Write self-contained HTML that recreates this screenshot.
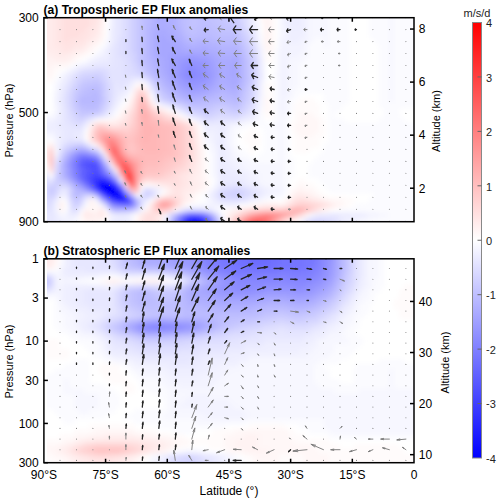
<!DOCTYPE html><html><head><meta charset="utf-8"><style>html,body{margin:0;padding:0;background:#fff;}body{width:500px;height:503px;overflow:hidden;position:relative;}svg{position:absolute;left:0;top:0;}</style></head><body>
<svg width="500" height="503" viewBox="0 0 500 503">
<defs>
<clipPath id="ca"><rect x="43.90" y="17.70" width="370.10" height="204.00"/></clipPath>
<clipPath id="cb"><rect x="43.90" y="258.80" width="370.10" height="203.90"/></clipPath>
<filter id="bl" x="-10%" y="-10%" width="120%" height="120%"><feGaussianBlur stdDeviation="2.5"/></filter>
<linearGradient id="cg" x1="0" y1="0" x2="0" y2="1"><stop offset="0" stop-color="#ff0000"/><stop offset="0.5" stop-color="#ffffff"/><stop offset="1" stop-color="#0000ff"/></linearGradient>
<clipPath id="fca"><rect x="47.00" y="17.70" width="367.00" height="204.00"/></clipPath>
<clipPath id="fcb"><rect x="47.00" y="258.80" width="367.00" height="203.90"/></clipPath>
</defs>
<g clip-path="url(#fca)"><g filter="url(#bl)">
<rect x="38.9" y="12.7" width="15.5" height="5.5" fill="#ffebeb"/>
<rect x="53.9" y="12.7" width="5.5" height="5.5" fill="#ffe7e7"/>
<rect x="58.9" y="12.7" width="5.5" height="5.5" fill="#ffe3e3"/>
<rect x="63.9" y="12.7" width="25.5" height="5.5" fill="#ffdfdf"/>
<rect x="88.9" y="12.7" width="10.5" height="5.5" fill="#ffe3e3"/>
<rect x="98.9" y="12.7" width="5.5" height="5.5" fill="#ffefef"/>
<rect x="108.9" y="12.7" width="5.5" height="5.5" fill="#f3f3ff"/>
<rect x="113.9" y="12.7" width="5.5" height="5.5" fill="#e7e7ff"/>
<rect x="118.9" y="12.7" width="5.5" height="5.5" fill="#e3e3ff"/>
<rect x="123.9" y="12.7" width="5.5" height="5.5" fill="#dbdbff"/>
<rect x="128.9" y="12.7" width="5.5" height="5.5" fill="#d3d3ff"/>
<rect x="133.9" y="12.7" width="5.5" height="5.5" fill="#cbcbff"/>
<rect x="138.9" y="12.7" width="5.5" height="5.5" fill="#c3c3ff"/>
<rect x="143.9" y="12.7" width="5.5" height="5.5" fill="#bbbbff"/>
<rect x="148.9" y="12.7" width="5.5" height="5.5" fill="#b7b7ff"/>
<rect x="153.9" y="12.7" width="5.5" height="5.5" fill="#afafff"/>
<rect x="158.9" y="12.7" width="5.5" height="5.5" fill="#ababff"/>
<rect x="163.9" y="12.7" width="10.5" height="5.5" fill="#afafff"/>
<rect x="173.9" y="12.7" width="5.5" height="5.5" fill="#b3b3ff"/>
<rect x="178.9" y="12.7" width="5.5" height="5.5" fill="#bbbbff"/>
<rect x="183.9" y="12.7" width="5.5" height="5.5" fill="#bfbfff"/>
<rect x="188.9" y="12.7" width="10.5" height="5.5" fill="#c3c3ff"/>
<rect x="198.9" y="12.7" width="10.5" height="5.5" fill="#bfbfff"/>
<rect x="208.9" y="12.7" width="10.5" height="5.5" fill="#c3c3ff"/>
<rect x="218.9" y="12.7" width="10.5" height="5.5" fill="#c7c7ff"/>
<rect x="228.9" y="12.7" width="10.5" height="5.5" fill="#cbcbff"/>
<rect x="238.9" y="12.7" width="5.5" height="5.5" fill="#d7d7ff"/>
<rect x="243.9" y="12.7" width="5.5" height="5.5" fill="#dfdfff"/>
<rect x="248.9" y="12.7" width="5.5" height="5.5" fill="#ebebff"/>
<rect x="253.9" y="12.7" width="5.5" height="5.5" fill="#f7f7ff"/>
<rect x="258.9" y="12.7" width="5.5" height="5.5" fill="#fffbfb"/>
<rect x="263.9" y="12.7" width="5.5" height="5.5" fill="#fff3f3"/>
<rect x="268.9" y="12.7" width="5.5" height="5.5" fill="#fff7f7"/>
<rect x="278.9" y="12.7" width="5.5" height="5.5" fill="#f7f7ff"/>
<rect x="283.9" y="12.7" width="10.5" height="5.5" fill="#efefff"/>
<rect x="293.9" y="12.7" width="5.5" height="5.5" fill="#ebebff"/>
<rect x="298.9" y="12.7" width="5.5" height="5.5" fill="#efefff"/>
<rect x="303.9" y="12.7" width="5.5" height="5.5" fill="#f3f3ff"/>
<rect x="308.9" y="12.7" width="20.5" height="5.5" fill="#f7f7ff"/>
<rect x="328.9" y="12.7" width="20.5" height="5.5" fill="#fbfbff"/>
<rect x="368.9" y="12.7" width="20.5" height="5.5" fill="#fbfbff"/>
<rect x="388.9" y="12.7" width="5.5" height="5.5" fill="#f7f7ff"/>
<rect x="393.9" y="12.7" width="30.5" height="5.5" fill="#fbfbff"/>
<rect x="38.9" y="17.7" width="15.5" height="5.5" fill="#ffebeb"/>
<rect x="53.9" y="17.7" width="5.5" height="5.5" fill="#ffe7e7"/>
<rect x="58.9" y="17.7" width="5.5" height="5.5" fill="#ffe3e3"/>
<rect x="63.9" y="17.7" width="25.5" height="5.5" fill="#ffdfdf"/>
<rect x="88.9" y="17.7" width="10.5" height="5.5" fill="#ffe3e3"/>
<rect x="98.9" y="17.7" width="5.5" height="5.5" fill="#ffefef"/>
<rect x="108.9" y="17.7" width="5.5" height="5.5" fill="#f3f3ff"/>
<rect x="113.9" y="17.7" width="5.5" height="5.5" fill="#e7e7ff"/>
<rect x="118.9" y="17.7" width="5.5" height="5.5" fill="#e3e3ff"/>
<rect x="123.9" y="17.7" width="5.5" height="5.5" fill="#dbdbff"/>
<rect x="128.9" y="17.7" width="5.5" height="5.5" fill="#d3d3ff"/>
<rect x="133.9" y="17.7" width="5.5" height="5.5" fill="#cbcbff"/>
<rect x="138.9" y="17.7" width="5.5" height="5.5" fill="#c3c3ff"/>
<rect x="143.9" y="17.7" width="5.5" height="5.5" fill="#bbbbff"/>
<rect x="148.9" y="17.7" width="5.5" height="5.5" fill="#b7b7ff"/>
<rect x="153.9" y="17.7" width="5.5" height="5.5" fill="#afafff"/>
<rect x="158.9" y="17.7" width="5.5" height="5.5" fill="#ababff"/>
<rect x="163.9" y="17.7" width="10.5" height="5.5" fill="#afafff"/>
<rect x="173.9" y="17.7" width="5.5" height="5.5" fill="#b3b3ff"/>
<rect x="178.9" y="17.7" width="5.5" height="5.5" fill="#bbbbff"/>
<rect x="183.9" y="17.7" width="5.5" height="5.5" fill="#bfbfff"/>
<rect x="188.9" y="17.7" width="10.5" height="5.5" fill="#c3c3ff"/>
<rect x="198.9" y="17.7" width="10.5" height="5.5" fill="#bfbfff"/>
<rect x="208.9" y="17.7" width="10.5" height="5.5" fill="#c3c3ff"/>
<rect x="218.9" y="17.7" width="10.5" height="5.5" fill="#c7c7ff"/>
<rect x="228.9" y="17.7" width="10.5" height="5.5" fill="#cbcbff"/>
<rect x="238.9" y="17.7" width="5.5" height="5.5" fill="#d7d7ff"/>
<rect x="243.9" y="17.7" width="5.5" height="5.5" fill="#dfdfff"/>
<rect x="248.9" y="17.7" width="5.5" height="5.5" fill="#ebebff"/>
<rect x="253.9" y="17.7" width="5.5" height="5.5" fill="#f7f7ff"/>
<rect x="258.9" y="17.7" width="5.5" height="5.5" fill="#fffbfb"/>
<rect x="263.9" y="17.7" width="5.5" height="5.5" fill="#fff3f3"/>
<rect x="268.9" y="17.7" width="5.5" height="5.5" fill="#fff7f7"/>
<rect x="278.9" y="17.7" width="5.5" height="5.5" fill="#f7f7ff"/>
<rect x="283.9" y="17.7" width="10.5" height="5.5" fill="#efefff"/>
<rect x="293.9" y="17.7" width="5.5" height="5.5" fill="#ebebff"/>
<rect x="298.9" y="17.7" width="5.5" height="5.5" fill="#efefff"/>
<rect x="303.9" y="17.7" width="5.5" height="5.5" fill="#f3f3ff"/>
<rect x="308.9" y="17.7" width="20.5" height="5.5" fill="#f7f7ff"/>
<rect x="328.9" y="17.7" width="20.5" height="5.5" fill="#fbfbff"/>
<rect x="368.9" y="17.7" width="20.5" height="5.5" fill="#fbfbff"/>
<rect x="388.9" y="17.7" width="5.5" height="5.5" fill="#f7f7ff"/>
<rect x="393.9" y="17.7" width="30.5" height="5.5" fill="#fbfbff"/>
<rect x="38.9" y="22.7" width="15.5" height="5.5" fill="#ffebeb"/>
<rect x="53.9" y="22.7" width="5.5" height="5.5" fill="#ffe7e7"/>
<rect x="58.9" y="22.7" width="5.5" height="5.5" fill="#ffe3e3"/>
<rect x="63.9" y="22.7" width="25.5" height="5.5" fill="#ffdfdf"/>
<rect x="88.9" y="22.7" width="5.5" height="5.5" fill="#ffe3e3"/>
<rect x="93.9" y="22.7" width="5.5" height="5.5" fill="#ffe7e7"/>
<rect x="98.9" y="22.7" width="5.5" height="5.5" fill="#ffefef"/>
<rect x="108.9" y="22.7" width="5.5" height="5.5" fill="#f3f3ff"/>
<rect x="113.9" y="22.7" width="5.5" height="5.5" fill="#e7e7ff"/>
<rect x="118.9" y="22.7" width="5.5" height="5.5" fill="#e3e3ff"/>
<rect x="123.9" y="22.7" width="5.5" height="5.5" fill="#dbdbff"/>
<rect x="128.9" y="22.7" width="5.5" height="5.5" fill="#d3d3ff"/>
<rect x="133.9" y="22.7" width="5.5" height="5.5" fill="#cbcbff"/>
<rect x="138.9" y="22.7" width="5.5" height="5.5" fill="#c3c3ff"/>
<rect x="143.9" y="22.7" width="5.5" height="5.5" fill="#bbbbff"/>
<rect x="148.9" y="22.7" width="5.5" height="5.5" fill="#b7b7ff"/>
<rect x="153.9" y="22.7" width="5.5" height="5.5" fill="#afafff"/>
<rect x="158.9" y="22.7" width="5.5" height="5.5" fill="#ababff"/>
<rect x="163.9" y="22.7" width="10.5" height="5.5" fill="#afafff"/>
<rect x="173.9" y="22.7" width="5.5" height="5.5" fill="#b3b3ff"/>
<rect x="178.9" y="22.7" width="5.5" height="5.5" fill="#bbbbff"/>
<rect x="183.9" y="22.7" width="5.5" height="5.5" fill="#bfbfff"/>
<rect x="188.9" y="22.7" width="10.5" height="5.5" fill="#c3c3ff"/>
<rect x="198.9" y="22.7" width="15.5" height="5.5" fill="#bfbfff"/>
<rect x="213.9" y="22.7" width="10.5" height="5.5" fill="#c3c3ff"/>
<rect x="223.9" y="22.7" width="10.5" height="5.5" fill="#c7c7ff"/>
<rect x="233.9" y="22.7" width="5.5" height="5.5" fill="#cbcbff"/>
<rect x="238.9" y="22.7" width="5.5" height="5.5" fill="#d3d3ff"/>
<rect x="243.9" y="22.7" width="5.5" height="5.5" fill="#dfdfff"/>
<rect x="248.9" y="22.7" width="5.5" height="5.5" fill="#ebebff"/>
<rect x="253.9" y="22.7" width="5.5" height="5.5" fill="#f3f3ff"/>
<rect x="263.9" y="22.7" width="5.5" height="5.5" fill="#fff3f3"/>
<rect x="268.9" y="22.7" width="5.5" height="5.5" fill="#fff7f7"/>
<rect x="278.9" y="22.7" width="5.5" height="5.5" fill="#f7f7ff"/>
<rect x="283.9" y="22.7" width="10.5" height="5.5" fill="#efefff"/>
<rect x="293.9" y="22.7" width="5.5" height="5.5" fill="#ebebff"/>
<rect x="298.9" y="22.7" width="5.5" height="5.5" fill="#efefff"/>
<rect x="303.9" y="22.7" width="5.5" height="5.5" fill="#f3f3ff"/>
<rect x="308.9" y="22.7" width="20.5" height="5.5" fill="#f7f7ff"/>
<rect x="328.9" y="22.7" width="20.5" height="5.5" fill="#fbfbff"/>
<rect x="368.9" y="22.7" width="20.5" height="5.5" fill="#fbfbff"/>
<rect x="388.9" y="22.7" width="5.5" height="5.5" fill="#f7f7ff"/>
<rect x="393.9" y="22.7" width="30.5" height="5.5" fill="#fbfbff"/>
<rect x="38.9" y="27.7" width="15.5" height="5.5" fill="#ffebeb"/>
<rect x="53.9" y="27.7" width="5.5" height="5.5" fill="#ffe7e7"/>
<rect x="58.9" y="27.7" width="5.5" height="5.5" fill="#ffe3e3"/>
<rect x="63.9" y="27.7" width="20.5" height="5.5" fill="#ffdfdf"/>
<rect x="83.9" y="27.7" width="5.5" height="5.5" fill="#ffe3e3"/>
<rect x="88.9" y="27.7" width="10.5" height="5.5" fill="#ffe7e7"/>
<rect x="98.9" y="27.7" width="5.5" height="5.5" fill="#fff3f3"/>
<rect x="108.9" y="27.7" width="5.5" height="5.5" fill="#efefff"/>
<rect x="113.9" y="27.7" width="5.5" height="5.5" fill="#e7e7ff"/>
<rect x="118.9" y="27.7" width="5.5" height="5.5" fill="#e3e3ff"/>
<rect x="123.9" y="27.7" width="5.5" height="5.5" fill="#dbdbff"/>
<rect x="128.9" y="27.7" width="5.5" height="5.5" fill="#d3d3ff"/>
<rect x="133.9" y="27.7" width="5.5" height="5.5" fill="#cbcbff"/>
<rect x="138.9" y="27.7" width="5.5" height="5.5" fill="#c3c3ff"/>
<rect x="143.9" y="27.7" width="5.5" height="5.5" fill="#bbbbff"/>
<rect x="148.9" y="27.7" width="5.5" height="5.5" fill="#b3b3ff"/>
<rect x="153.9" y="27.7" width="5.5" height="5.5" fill="#afafff"/>
<rect x="158.9" y="27.7" width="10.5" height="5.5" fill="#ababff"/>
<rect x="168.9" y="27.7" width="10.5" height="5.5" fill="#afafff"/>
<rect x="178.9" y="27.7" width="5.5" height="5.5" fill="#b7b7ff"/>
<rect x="183.9" y="27.7" width="5.5" height="5.5" fill="#bfbfff"/>
<rect x="188.9" y="27.7" width="5.5" height="5.5" fill="#c3c3ff"/>
<rect x="193.9" y="27.7" width="10.5" height="5.5" fill="#bfbfff"/>
<rect x="203.9" y="27.7" width="5.5" height="5.5" fill="#bbbbff"/>
<rect x="208.9" y="27.7" width="10.5" height="5.5" fill="#bfbfff"/>
<rect x="218.9" y="27.7" width="15.5" height="5.5" fill="#c3c3ff"/>
<rect x="233.9" y="27.7" width="5.5" height="5.5" fill="#c7c7ff"/>
<rect x="238.9" y="27.7" width="5.5" height="5.5" fill="#cfcfff"/>
<rect x="243.9" y="27.7" width="5.5" height="5.5" fill="#dbdbff"/>
<rect x="248.9" y="27.7" width="5.5" height="5.5" fill="#e3e3ff"/>
<rect x="253.9" y="27.7" width="5.5" height="5.5" fill="#f3f3ff"/>
<rect x="263.9" y="27.7" width="5.5" height="5.5" fill="#fff3f3"/>
<rect x="268.9" y="27.7" width="5.5" height="5.5" fill="#fff7f7"/>
<rect x="278.9" y="27.7" width="5.5" height="5.5" fill="#f7f7ff"/>
<rect x="283.9" y="27.7" width="5.5" height="5.5" fill="#f3f3ff"/>
<rect x="288.9" y="27.7" width="15.5" height="5.5" fill="#efefff"/>
<rect x="303.9" y="27.7" width="5.5" height="5.5" fill="#f3f3ff"/>
<rect x="308.9" y="27.7" width="20.5" height="5.5" fill="#f7f7ff"/>
<rect x="328.9" y="27.7" width="20.5" height="5.5" fill="#fbfbff"/>
<rect x="368.9" y="27.7" width="20.5" height="5.5" fill="#fbfbff"/>
<rect x="388.9" y="27.7" width="5.5" height="5.5" fill="#f7f7ff"/>
<rect x="393.9" y="27.7" width="30.5" height="5.5" fill="#fbfbff"/>
<rect x="38.9" y="32.7" width="15.5" height="5.5" fill="#ffebeb"/>
<rect x="53.9" y="32.7" width="5.5" height="5.5" fill="#ffe7e7"/>
<rect x="58.9" y="32.7" width="5.5" height="5.5" fill="#ffe3e3"/>
<rect x="63.9" y="32.7" width="15.5" height="5.5" fill="#ffdfdf"/>
<rect x="78.9" y="32.7" width="10.5" height="5.5" fill="#ffe3e3"/>
<rect x="88.9" y="32.7" width="5.5" height="5.5" fill="#ffe7e7"/>
<rect x="93.9" y="32.7" width="5.5" height="5.5" fill="#ffebeb"/>
<rect x="98.9" y="32.7" width="5.5" height="5.5" fill="#fff3f3"/>
<rect x="108.9" y="32.7" width="5.5" height="5.5" fill="#efefff"/>
<rect x="113.9" y="32.7" width="5.5" height="5.5" fill="#e7e7ff"/>
<rect x="118.9" y="32.7" width="5.5" height="5.5" fill="#e3e3ff"/>
<rect x="123.9" y="32.7" width="5.5" height="5.5" fill="#dbdbff"/>
<rect x="128.9" y="32.7" width="5.5" height="5.5" fill="#d3d3ff"/>
<rect x="133.9" y="32.7" width="5.5" height="5.5" fill="#cbcbff"/>
<rect x="138.9" y="32.7" width="5.5" height="5.5" fill="#c3c3ff"/>
<rect x="143.9" y="32.7" width="5.5" height="5.5" fill="#bbbbff"/>
<rect x="148.9" y="32.7" width="5.5" height="5.5" fill="#b3b3ff"/>
<rect x="153.9" y="32.7" width="5.5" height="5.5" fill="#ababff"/>
<rect x="158.9" y="32.7" width="5.5" height="5.5" fill="#a7a7ff"/>
<rect x="163.9" y="32.7" width="10.5" height="5.5" fill="#ababff"/>
<rect x="173.9" y="32.7" width="5.5" height="5.5" fill="#afafff"/>
<rect x="178.9" y="32.7" width="5.5" height="5.5" fill="#b3b3ff"/>
<rect x="183.9" y="32.7" width="5.5" height="5.5" fill="#bbbbff"/>
<rect x="188.9" y="32.7" width="10.5" height="5.5" fill="#bfbfff"/>
<rect x="198.9" y="32.7" width="15.5" height="5.5" fill="#bbbbff"/>
<rect x="213.9" y="32.7" width="25.5" height="5.5" fill="#bfbfff"/>
<rect x="238.9" y="32.7" width="5.5" height="5.5" fill="#cbcbff"/>
<rect x="243.9" y="32.7" width="5.5" height="5.5" fill="#d3d3ff"/>
<rect x="248.9" y="32.7" width="5.5" height="5.5" fill="#dfdfff"/>
<rect x="253.9" y="32.7" width="5.5" height="5.5" fill="#efefff"/>
<rect x="258.9" y="32.7" width="5.5" height="5.5" fill="#fbfbff"/>
<rect x="263.9" y="32.7" width="5.5" height="5.5" fill="#fff3f3"/>
<rect x="268.9" y="32.7" width="5.5" height="5.5" fill="#fff7f7"/>
<rect x="278.9" y="32.7" width="5.5" height="5.5" fill="#f7f7ff"/>
<rect x="283.9" y="32.7" width="5.5" height="5.5" fill="#f3f3ff"/>
<rect x="288.9" y="32.7" width="15.5" height="5.5" fill="#efefff"/>
<rect x="303.9" y="32.7" width="5.5" height="5.5" fill="#f3f3ff"/>
<rect x="308.9" y="32.7" width="20.5" height="5.5" fill="#f7f7ff"/>
<rect x="328.9" y="32.7" width="20.5" height="5.5" fill="#fbfbff"/>
<rect x="368.9" y="32.7" width="20.5" height="5.5" fill="#fbfbff"/>
<rect x="388.9" y="32.7" width="5.5" height="5.5" fill="#f7f7ff"/>
<rect x="393.9" y="32.7" width="30.5" height="5.5" fill="#fbfbff"/>
<rect x="38.9" y="37.7" width="15.5" height="5.5" fill="#ffebeb"/>
<rect x="53.9" y="37.7" width="5.5" height="5.5" fill="#ffe7e7"/>
<rect x="58.9" y="37.7" width="5.5" height="5.5" fill="#ffe3e3"/>
<rect x="63.9" y="37.7" width="5.5" height="5.5" fill="#ffdfdf"/>
<rect x="68.9" y="37.7" width="15.5" height="5.5" fill="#ffe3e3"/>
<rect x="83.9" y="37.7" width="5.5" height="5.5" fill="#ffe7e7"/>
<rect x="88.9" y="37.7" width="5.5" height="5.5" fill="#ffebeb"/>
<rect x="93.9" y="37.7" width="5.5" height="5.5" fill="#ffefef"/>
<rect x="98.9" y="37.7" width="5.5" height="5.5" fill="#fff7f7"/>
<rect x="103.9" y="37.7" width="5.5" height="5.5" fill="#fbfbff"/>
<rect x="108.9" y="37.7" width="5.5" height="5.5" fill="#efefff"/>
<rect x="113.9" y="37.7" width="5.5" height="5.5" fill="#e7e7ff"/>
<rect x="118.9" y="37.7" width="5.5" height="5.5" fill="#dfdfff"/>
<rect x="123.9" y="37.7" width="5.5" height="5.5" fill="#dbdbff"/>
<rect x="128.9" y="37.7" width="5.5" height="5.5" fill="#d3d3ff"/>
<rect x="133.9" y="37.7" width="5.5" height="5.5" fill="#cbcbff"/>
<rect x="138.9" y="37.7" width="5.5" height="5.5" fill="#c3c3ff"/>
<rect x="143.9" y="37.7" width="5.5" height="5.5" fill="#bbbbff"/>
<rect x="148.9" y="37.7" width="5.5" height="5.5" fill="#b3b3ff"/>
<rect x="153.9" y="37.7" width="5.5" height="5.5" fill="#ababff"/>
<rect x="158.9" y="37.7" width="10.5" height="5.5" fill="#a7a7ff"/>
<rect x="168.9" y="37.7" width="10.5" height="5.5" fill="#ababff"/>
<rect x="178.9" y="37.7" width="5.5" height="5.5" fill="#afafff"/>
<rect x="183.9" y="37.7" width="5.5" height="5.5" fill="#b7b7ff"/>
<rect x="188.9" y="37.7" width="5.5" height="5.5" fill="#bbbbff"/>
<rect x="193.9" y="37.7" width="20.5" height="5.5" fill="#b7b7ff"/>
<rect x="213.9" y="37.7" width="25.5" height="5.5" fill="#bbbbff"/>
<rect x="238.9" y="37.7" width="5.5" height="5.5" fill="#c7c7ff"/>
<rect x="243.9" y="37.7" width="5.5" height="5.5" fill="#cfcfff"/>
<rect x="248.9" y="37.7" width="5.5" height="5.5" fill="#dbdbff"/>
<rect x="253.9" y="37.7" width="5.5" height="5.5" fill="#ebebff"/>
<rect x="258.9" y="37.7" width="5.5" height="5.5" fill="#fbfbff"/>
<rect x="263.9" y="37.7" width="5.5" height="5.5" fill="#fff3f3"/>
<rect x="268.9" y="37.7" width="5.5" height="5.5" fill="#fff7f7"/>
<rect x="278.9" y="37.7" width="10.5" height="5.5" fill="#f3f3ff"/>
<rect x="288.9" y="37.7" width="10.5" height="5.5" fill="#efefff"/>
<rect x="298.9" y="37.7" width="10.5" height="5.5" fill="#f3f3ff"/>
<rect x="308.9" y="37.7" width="5.5" height="5.5" fill="#f7f7ff"/>
<rect x="313.9" y="37.7" width="10.5" height="5.5" fill="#fbfbff"/>
<rect x="323.9" y="37.7" width="5.5" height="5.5" fill="#f7f7ff"/>
<rect x="328.9" y="37.7" width="20.5" height="5.5" fill="#fbfbff"/>
<rect x="373.9" y="37.7" width="15.5" height="5.5" fill="#fbfbff"/>
<rect x="388.9" y="37.7" width="5.5" height="5.5" fill="#f7f7ff"/>
<rect x="393.9" y="37.7" width="30.5" height="5.5" fill="#fbfbff"/>
<rect x="38.9" y="42.7" width="15.5" height="5.5" fill="#ffebeb"/>
<rect x="53.9" y="42.7" width="10.5" height="5.5" fill="#ffe7e7"/>
<rect x="63.9" y="42.7" width="10.5" height="5.5" fill="#ffe3e3"/>
<rect x="73.9" y="42.7" width="10.5" height="5.5" fill="#ffe7e7"/>
<rect x="83.9" y="42.7" width="5.5" height="5.5" fill="#ffebeb"/>
<rect x="88.9" y="42.7" width="5.5" height="5.5" fill="#fff3f3"/>
<rect x="93.9" y="42.7" width="5.5" height="5.5" fill="#fff7f7"/>
<rect x="103.9" y="42.7" width="5.5" height="5.5" fill="#f7f7ff"/>
<rect x="108.9" y="42.7" width="5.5" height="5.5" fill="#ebebff"/>
<rect x="113.9" y="42.7" width="5.5" height="5.5" fill="#e3e3ff"/>
<rect x="118.9" y="42.7" width="5.5" height="5.5" fill="#dfdfff"/>
<rect x="123.9" y="42.7" width="5.5" height="5.5" fill="#dbdbff"/>
<rect x="128.9" y="42.7" width="5.5" height="5.5" fill="#d3d3ff"/>
<rect x="133.9" y="42.7" width="5.5" height="5.5" fill="#cbcbff"/>
<rect x="138.9" y="42.7" width="5.5" height="5.5" fill="#c3c3ff"/>
<rect x="143.9" y="42.7" width="5.5" height="5.5" fill="#bbbbff"/>
<rect x="148.9" y="42.7" width="5.5" height="5.5" fill="#b3b3ff"/>
<rect x="153.9" y="42.7" width="5.5" height="5.5" fill="#ababff"/>
<rect x="158.9" y="42.7" width="20.5" height="5.5" fill="#a7a7ff"/>
<rect x="178.9" y="42.7" width="5.5" height="5.5" fill="#ababff"/>
<rect x="183.9" y="42.7" width="5.5" height="5.5" fill="#afafff"/>
<rect x="188.9" y="42.7" width="10.5" height="5.5" fill="#b3b3ff"/>
<rect x="198.9" y="42.7" width="10.5" height="5.5" fill="#afafff"/>
<rect x="208.9" y="42.7" width="10.5" height="5.5" fill="#b3b3ff"/>
<rect x="218.9" y="42.7" width="20.5" height="5.5" fill="#b7b7ff"/>
<rect x="238.9" y="42.7" width="5.5" height="5.5" fill="#bfbfff"/>
<rect x="243.9" y="42.7" width="5.5" height="5.5" fill="#cbcbff"/>
<rect x="248.9" y="42.7" width="5.5" height="5.5" fill="#d7d7ff"/>
<rect x="253.9" y="42.7" width="5.5" height="5.5" fill="#e7e7ff"/>
<rect x="258.9" y="42.7" width="5.5" height="5.5" fill="#f7f7ff"/>
<rect x="263.9" y="42.7" width="5.5" height="5.5" fill="#fff3f3"/>
<rect x="268.9" y="42.7" width="5.5" height="5.5" fill="#fff7f7"/>
<rect x="278.9" y="42.7" width="25.5" height="5.5" fill="#f3f3ff"/>
<rect x="303.9" y="42.7" width="5.5" height="5.5" fill="#f7f7ff"/>
<rect x="308.9" y="42.7" width="15.5" height="5.5" fill="#fbfbff"/>
<rect x="323.9" y="42.7" width="5.5" height="5.5" fill="#f7f7ff"/>
<rect x="328.9" y="42.7" width="20.5" height="5.5" fill="#fbfbff"/>
<rect x="378.9" y="42.7" width="10.5" height="5.5" fill="#fbfbff"/>
<rect x="388.9" y="42.7" width="5.5" height="5.5" fill="#f7f7ff"/>
<rect x="393.9" y="42.7" width="30.5" height="5.5" fill="#fbfbff"/>
<rect x="38.9" y="47.7" width="20.5" height="5.5" fill="#ffebeb"/>
<rect x="58.9" y="47.7" width="5.5" height="5.5" fill="#ffe7e7"/>
<rect x="63.9" y="47.7" width="5.5" height="5.5" fill="#ffe3e3"/>
<rect x="68.9" y="47.7" width="5.5" height="5.5" fill="#ffe7e7"/>
<rect x="73.9" y="47.7" width="10.5" height="5.5" fill="#ffebeb"/>
<rect x="83.9" y="47.7" width="5.5" height="5.5" fill="#fff3f3"/>
<rect x="88.9" y="47.7" width="5.5" height="5.5" fill="#fff7f7"/>
<rect x="98.9" y="47.7" width="5.5" height="5.5" fill="#f7f7ff"/>
<rect x="103.9" y="47.7" width="5.5" height="5.5" fill="#efefff"/>
<rect x="108.9" y="47.7" width="5.5" height="5.5" fill="#e7e7ff"/>
<rect x="113.9" y="47.7" width="5.5" height="5.5" fill="#e3e3ff"/>
<rect x="118.9" y="47.7" width="5.5" height="5.5" fill="#dfdfff"/>
<rect x="123.9" y="47.7" width="5.5" height="5.5" fill="#dbdbff"/>
<rect x="128.9" y="47.7" width="5.5" height="5.5" fill="#d3d3ff"/>
<rect x="133.9" y="47.7" width="5.5" height="5.5" fill="#cbcbff"/>
<rect x="138.9" y="47.7" width="5.5" height="5.5" fill="#c3c3ff"/>
<rect x="143.9" y="47.7" width="5.5" height="5.5" fill="#bbbbff"/>
<rect x="148.9" y="47.7" width="5.5" height="5.5" fill="#b3b3ff"/>
<rect x="153.9" y="47.7" width="5.5" height="5.5" fill="#ababff"/>
<rect x="158.9" y="47.7" width="25.5" height="5.5" fill="#a7a7ff"/>
<rect x="183.9" y="47.7" width="25.5" height="5.5" fill="#ababff"/>
<rect x="208.9" y="47.7" width="10.5" height="5.5" fill="#afafff"/>
<rect x="218.9" y="47.7" width="20.5" height="5.5" fill="#b3b3ff"/>
<rect x="238.9" y="47.7" width="5.5" height="5.5" fill="#bbbbff"/>
<rect x="243.9" y="47.7" width="5.5" height="5.5" fill="#c7c7ff"/>
<rect x="248.9" y="47.7" width="5.5" height="5.5" fill="#cfcfff"/>
<rect x="253.9" y="47.7" width="5.5" height="5.5" fill="#e3e3ff"/>
<rect x="258.9" y="47.7" width="5.5" height="5.5" fill="#f3f3ff"/>
<rect x="263.9" y="47.7" width="10.5" height="5.5" fill="#fff7f7"/>
<rect x="273.9" y="47.7" width="5.5" height="5.5" fill="#fbfbff"/>
<rect x="278.9" y="47.7" width="25.5" height="5.5" fill="#f3f3ff"/>
<rect x="303.9" y="47.7" width="5.5" height="5.5" fill="#f7f7ff"/>
<rect x="308.9" y="47.7" width="40.5" height="5.5" fill="#fbfbff"/>
<rect x="378.9" y="47.7" width="10.5" height="5.5" fill="#fbfbff"/>
<rect x="388.9" y="47.7" width="5.5" height="5.5" fill="#f7f7ff"/>
<rect x="393.9" y="47.7" width="30.5" height="5.5" fill="#fbfbff"/>
<rect x="38.9" y="52.7" width="15.5" height="5.5" fill="#ffefef"/>
<rect x="53.9" y="52.7" width="15.5" height="5.5" fill="#ffebeb"/>
<rect x="68.9" y="52.7" width="5.5" height="5.5" fill="#ffefef"/>
<rect x="73.9" y="52.7" width="5.5" height="5.5" fill="#fff3f3"/>
<rect x="78.9" y="52.7" width="5.5" height="5.5" fill="#fff7f7"/>
<rect x="83.9" y="52.7" width="5.5" height="5.5" fill="#fffbfb"/>
<rect x="93.9" y="52.7" width="5.5" height="5.5" fill="#f7f7ff"/>
<rect x="98.9" y="52.7" width="5.5" height="5.5" fill="#f3f3ff"/>
<rect x="103.9" y="52.7" width="5.5" height="5.5" fill="#efefff"/>
<rect x="108.9" y="52.7" width="5.5" height="5.5" fill="#e7e7ff"/>
<rect x="113.9" y="52.7" width="5.5" height="5.5" fill="#e3e3ff"/>
<rect x="118.9" y="52.7" width="5.5" height="5.5" fill="#dfdfff"/>
<rect x="123.9" y="52.7" width="5.5" height="5.5" fill="#dbdbff"/>
<rect x="128.9" y="52.7" width="5.5" height="5.5" fill="#d7d7ff"/>
<rect x="133.9" y="52.7" width="5.5" height="5.5" fill="#cfcfff"/>
<rect x="138.9" y="52.7" width="5.5" height="5.5" fill="#c3c3ff"/>
<rect x="143.9" y="52.7" width="5.5" height="5.5" fill="#bbbbff"/>
<rect x="148.9" y="52.7" width="5.5" height="5.5" fill="#b3b3ff"/>
<rect x="153.9" y="52.7" width="5.5" height="5.5" fill="#ababff"/>
<rect x="158.9" y="52.7" width="10.5" height="5.5" fill="#a7a7ff"/>
<rect x="168.9" y="52.7" width="20.5" height="5.5" fill="#a3a3ff"/>
<rect x="188.9" y="52.7" width="5.5" height="5.5" fill="#9f9fff"/>
<rect x="193.9" y="52.7" width="15.5" height="5.5" fill="#a3a3ff"/>
<rect x="208.9" y="52.7" width="5.5" height="5.5" fill="#a7a7ff"/>
<rect x="213.9" y="52.7" width="5.5" height="5.5" fill="#ababff"/>
<rect x="218.9" y="52.7" width="15.5" height="5.5" fill="#afafff"/>
<rect x="233.9" y="52.7" width="5.5" height="5.5" fill="#ababff"/>
<rect x="238.9" y="52.7" width="5.5" height="5.5" fill="#b7b7ff"/>
<rect x="243.9" y="52.7" width="5.5" height="5.5" fill="#c3c3ff"/>
<rect x="248.9" y="52.7" width="5.5" height="5.5" fill="#cfcfff"/>
<rect x="253.9" y="52.7" width="5.5" height="5.5" fill="#dfdfff"/>
<rect x="258.9" y="52.7" width="5.5" height="5.5" fill="#f3f3ff"/>
<rect x="263.9" y="52.7" width="10.5" height="5.5" fill="#fffbfb"/>
<rect x="273.9" y="52.7" width="5.5" height="5.5" fill="#fbfbff"/>
<rect x="278.9" y="52.7" width="20.5" height="5.5" fill="#f3f3ff"/>
<rect x="298.9" y="52.7" width="10.5" height="5.5" fill="#f7f7ff"/>
<rect x="308.9" y="52.7" width="40.5" height="5.5" fill="#fbfbff"/>
<rect x="378.9" y="52.7" width="10.5" height="5.5" fill="#fbfbff"/>
<rect x="388.9" y="52.7" width="5.5" height="5.5" fill="#f7f7ff"/>
<rect x="393.9" y="52.7" width="30.5" height="5.5" fill="#fbfbff"/>
<rect x="38.9" y="57.7" width="15.5" height="5.5" fill="#fff3f3"/>
<rect x="53.9" y="57.7" width="15.5" height="5.5" fill="#ffefef"/>
<rect x="68.9" y="57.7" width="5.5" height="5.5" fill="#fff3f3"/>
<rect x="73.9" y="57.7" width="5.5" height="5.5" fill="#fffbfb"/>
<rect x="83.9" y="57.7" width="5.5" height="5.5" fill="#fbfbff"/>
<rect x="88.9" y="57.7" width="5.5" height="5.5" fill="#f3f3ff"/>
<rect x="93.9" y="57.7" width="5.5" height="5.5" fill="#efefff"/>
<rect x="98.9" y="57.7" width="10.5" height="5.5" fill="#ebebff"/>
<rect x="108.9" y="57.7" width="5.5" height="5.5" fill="#e7e7ff"/>
<rect x="113.9" y="57.7" width="10.5" height="5.5" fill="#e3e3ff"/>
<rect x="123.9" y="57.7" width="5.5" height="5.5" fill="#dfdfff"/>
<rect x="128.9" y="57.7" width="5.5" height="5.5" fill="#d7d7ff"/>
<rect x="133.9" y="57.7" width="5.5" height="5.5" fill="#cfcfff"/>
<rect x="138.9" y="57.7" width="5.5" height="5.5" fill="#c3c3ff"/>
<rect x="143.9" y="57.7" width="5.5" height="5.5" fill="#bbbbff"/>
<rect x="148.9" y="57.7" width="5.5" height="5.5" fill="#b7b7ff"/>
<rect x="153.9" y="57.7" width="5.5" height="5.5" fill="#afafff"/>
<rect x="158.9" y="57.7" width="5.5" height="5.5" fill="#ababff"/>
<rect x="163.9" y="57.7" width="5.5" height="5.5" fill="#a7a7ff"/>
<rect x="168.9" y="57.7" width="5.5" height="5.5" fill="#a3a3ff"/>
<rect x="173.9" y="57.7" width="5.5" height="5.5" fill="#9f9fff"/>
<rect x="178.9" y="57.7" width="5.5" height="5.5" fill="#9b9bff"/>
<rect x="183.9" y="57.7" width="15.5" height="5.5" fill="#9797ff"/>
<rect x="198.9" y="57.7" width="10.5" height="5.5" fill="#9b9bff"/>
<rect x="208.9" y="57.7" width="5.5" height="5.5" fill="#a3a3ff"/>
<rect x="213.9" y="57.7" width="5.5" height="5.5" fill="#a7a7ff"/>
<rect x="218.9" y="57.7" width="15.5" height="5.5" fill="#ababff"/>
<rect x="233.9" y="57.7" width="5.5" height="5.5" fill="#a7a7ff"/>
<rect x="238.9" y="57.7" width="5.5" height="5.5" fill="#b3b3ff"/>
<rect x="243.9" y="57.7" width="5.5" height="5.5" fill="#bfbfff"/>
<rect x="248.9" y="57.7" width="5.5" height="5.5" fill="#cbcbff"/>
<rect x="253.9" y="57.7" width="5.5" height="5.5" fill="#dbdbff"/>
<rect x="258.9" y="57.7" width="5.5" height="5.5" fill="#efefff"/>
<rect x="263.9" y="57.7" width="10.5" height="5.5" fill="#fffbfb"/>
<rect x="273.9" y="57.7" width="5.5" height="5.5" fill="#fbfbff"/>
<rect x="278.9" y="57.7" width="10.5" height="5.5" fill="#f3f3ff"/>
<rect x="288.9" y="57.7" width="15.5" height="5.5" fill="#f7f7ff"/>
<rect x="303.9" y="57.7" width="45.5" height="5.5" fill="#fbfbff"/>
<rect x="378.9" y="57.7" width="10.5" height="5.5" fill="#fbfbff"/>
<rect x="388.9" y="57.7" width="5.5" height="5.5" fill="#f7f7ff"/>
<rect x="393.9" y="57.7" width="30.5" height="5.5" fill="#fbfbff"/>
<rect x="38.9" y="62.7" width="15.5" height="5.5" fill="#fff3f3"/>
<rect x="53.9" y="62.7" width="15.5" height="5.5" fill="#fff7f7"/>
<rect x="73.9" y="62.7" width="5.5" height="5.5" fill="#f7f7ff"/>
<rect x="78.9" y="62.7" width="5.5" height="5.5" fill="#f3f3ff"/>
<rect x="83.9" y="62.7" width="5.5" height="5.5" fill="#efefff"/>
<rect x="88.9" y="62.7" width="5.5" height="5.5" fill="#ebebff"/>
<rect x="93.9" y="62.7" width="20.5" height="5.5" fill="#e7e7ff"/>
<rect x="113.9" y="62.7" width="10.5" height="5.5" fill="#e3e3ff"/>
<rect x="123.9" y="62.7" width="5.5" height="5.5" fill="#dfdfff"/>
<rect x="128.9" y="62.7" width="5.5" height="5.5" fill="#dbdbff"/>
<rect x="133.9" y="62.7" width="5.5" height="5.5" fill="#d3d3ff"/>
<rect x="138.9" y="62.7" width="5.5" height="5.5" fill="#c7c7ff"/>
<rect x="143.9" y="62.7" width="5.5" height="5.5" fill="#bfbfff"/>
<rect x="148.9" y="62.7" width="5.5" height="5.5" fill="#b7b7ff"/>
<rect x="153.9" y="62.7" width="5.5" height="5.5" fill="#b3b3ff"/>
<rect x="158.9" y="62.7" width="5.5" height="5.5" fill="#ababff"/>
<rect x="163.9" y="62.7" width="5.5" height="5.5" fill="#a7a7ff"/>
<rect x="168.9" y="62.7" width="5.5" height="5.5" fill="#a3a3ff"/>
<rect x="173.9" y="62.7" width="5.5" height="5.5" fill="#9f9fff"/>
<rect x="178.9" y="62.7" width="5.5" height="5.5" fill="#9797ff"/>
<rect x="183.9" y="62.7" width="5.5" height="5.5" fill="#9393ff"/>
<rect x="188.9" y="62.7" width="5.5" height="5.5" fill="#8f8fff"/>
<rect x="193.9" y="62.7" width="10.5" height="5.5" fill="#9393ff"/>
<rect x="203.9" y="62.7" width="5.5" height="5.5" fill="#9797ff"/>
<rect x="208.9" y="62.7" width="5.5" height="5.5" fill="#9f9fff"/>
<rect x="213.9" y="62.7" width="5.5" height="5.5" fill="#a7a7ff"/>
<rect x="218.9" y="62.7" width="10.5" height="5.5" fill="#ababff"/>
<rect x="228.9" y="62.7" width="10.5" height="5.5" fill="#a7a7ff"/>
<rect x="238.9" y="62.7" width="5.5" height="5.5" fill="#b3b3ff"/>
<rect x="243.9" y="62.7" width="5.5" height="5.5" fill="#bfbfff"/>
<rect x="248.9" y="62.7" width="5.5" height="5.5" fill="#cbcbff"/>
<rect x="253.9" y="62.7" width="5.5" height="5.5" fill="#dbdbff"/>
<rect x="258.9" y="62.7" width="5.5" height="5.5" fill="#efefff"/>
<rect x="273.9" y="62.7" width="5.5" height="5.5" fill="#fbfbff"/>
<rect x="278.9" y="62.7" width="10.5" height="5.5" fill="#f3f3ff"/>
<rect x="288.9" y="62.7" width="10.5" height="5.5" fill="#f7f7ff"/>
<rect x="298.9" y="62.7" width="50.5" height="5.5" fill="#fbfbff"/>
<rect x="378.9" y="62.7" width="10.5" height="5.5" fill="#fbfbff"/>
<rect x="388.9" y="62.7" width="5.5" height="5.5" fill="#f7f7ff"/>
<rect x="393.9" y="62.7" width="30.5" height="5.5" fill="#fbfbff"/>
<rect x="38.9" y="67.7" width="15.5" height="5.5" fill="#fff7f7"/>
<rect x="53.9" y="67.7" width="5.5" height="5.5" fill="#fffbfb"/>
<rect x="63.9" y="67.7" width="5.5" height="5.5" fill="#fbfbff"/>
<rect x="68.9" y="67.7" width="5.5" height="5.5" fill="#f3f3ff"/>
<rect x="73.9" y="67.7" width="5.5" height="5.5" fill="#ebebff"/>
<rect x="78.9" y="67.7" width="5.5" height="5.5" fill="#e3e3ff"/>
<rect x="83.9" y="67.7" width="10.5" height="5.5" fill="#dfdfff"/>
<rect x="93.9" y="67.7" width="10.5" height="5.5" fill="#dbdbff"/>
<rect x="103.9" y="67.7" width="5.5" height="5.5" fill="#dfdfff"/>
<rect x="108.9" y="67.7" width="15.5" height="5.5" fill="#e3e3ff"/>
<rect x="123.9" y="67.7" width="5.5" height="5.5" fill="#dfdfff"/>
<rect x="128.9" y="67.7" width="5.5" height="5.5" fill="#dbdbff"/>
<rect x="133.9" y="67.7" width="5.5" height="5.5" fill="#d7d7ff"/>
<rect x="138.9" y="67.7" width="5.5" height="5.5" fill="#cfcfff"/>
<rect x="143.9" y="67.7" width="5.5" height="5.5" fill="#c3c3ff"/>
<rect x="148.9" y="67.7" width="5.5" height="5.5" fill="#bbbbff"/>
<rect x="153.9" y="67.7" width="5.5" height="5.5" fill="#b3b3ff"/>
<rect x="158.9" y="67.7" width="5.5" height="5.5" fill="#afafff"/>
<rect x="163.9" y="67.7" width="5.5" height="5.5" fill="#a7a7ff"/>
<rect x="168.9" y="67.7" width="5.5" height="5.5" fill="#a3a3ff"/>
<rect x="173.9" y="67.7" width="5.5" height="5.5" fill="#9f9fff"/>
<rect x="178.9" y="67.7" width="5.5" height="5.5" fill="#9797ff"/>
<rect x="183.9" y="67.7" width="5.5" height="5.5" fill="#8f8fff"/>
<rect x="188.9" y="67.7" width="5.5" height="5.5" fill="#8b8bff"/>
<rect x="193.9" y="67.7" width="5.5" height="5.5" fill="#8f8fff"/>
<rect x="198.9" y="67.7" width="5.5" height="5.5" fill="#9393ff"/>
<rect x="203.9" y="67.7" width="5.5" height="5.5" fill="#9797ff"/>
<rect x="208.9" y="67.7" width="5.5" height="5.5" fill="#9f9fff"/>
<rect x="213.9" y="67.7" width="5.5" height="5.5" fill="#a3a3ff"/>
<rect x="218.9" y="67.7" width="10.5" height="5.5" fill="#ababff"/>
<rect x="228.9" y="67.7" width="10.5" height="5.5" fill="#a7a7ff"/>
<rect x="238.9" y="67.7" width="5.5" height="5.5" fill="#b3b3ff"/>
<rect x="243.9" y="67.7" width="5.5" height="5.5" fill="#bfbfff"/>
<rect x="248.9" y="67.7" width="5.5" height="5.5" fill="#cbcbff"/>
<rect x="253.9" y="67.7" width="5.5" height="5.5" fill="#dbdbff"/>
<rect x="258.9" y="67.7" width="5.5" height="5.5" fill="#efefff"/>
<rect x="273.9" y="67.7" width="5.5" height="5.5" fill="#fbfbff"/>
<rect x="278.9" y="67.7" width="10.5" height="5.5" fill="#f3f3ff"/>
<rect x="288.9" y="67.7" width="10.5" height="5.5" fill="#f7f7ff"/>
<rect x="298.9" y="67.7" width="50.5" height="5.5" fill="#fbfbff"/>
<rect x="378.9" y="67.7" width="10.5" height="5.5" fill="#fbfbff"/>
<rect x="388.9" y="67.7" width="5.5" height="5.5" fill="#f7f7ff"/>
<rect x="393.9" y="67.7" width="30.5" height="5.5" fill="#fbfbff"/>
<rect x="38.9" y="72.7" width="15.5" height="5.5" fill="#fff7f7"/>
<rect x="58.9" y="72.7" width="5.5" height="5.5" fill="#f7f7ff"/>
<rect x="63.9" y="72.7" width="5.5" height="5.5" fill="#efefff"/>
<rect x="68.9" y="72.7" width="5.5" height="5.5" fill="#e7e7ff"/>
<rect x="73.9" y="72.7" width="5.5" height="5.5" fill="#dfdfff"/>
<rect x="78.9" y="72.7" width="5.5" height="5.5" fill="#d7d7ff"/>
<rect x="83.9" y="72.7" width="10.5" height="5.5" fill="#d3d3ff"/>
<rect x="93.9" y="72.7" width="5.5" height="5.5" fill="#cfcfff"/>
<rect x="98.9" y="72.7" width="5.5" height="5.5" fill="#d3d3ff"/>
<rect x="103.9" y="72.7" width="5.5" height="5.5" fill="#dbdbff"/>
<rect x="108.9" y="72.7" width="15.5" height="5.5" fill="#e3e3ff"/>
<rect x="123.9" y="72.7" width="10.5" height="5.5" fill="#dfdfff"/>
<rect x="133.9" y="72.7" width="5.5" height="5.5" fill="#dbdbff"/>
<rect x="138.9" y="72.7" width="5.5" height="5.5" fill="#d7d7ff"/>
<rect x="143.9" y="72.7" width="5.5" height="5.5" fill="#cbcbff"/>
<rect x="148.9" y="72.7" width="5.5" height="5.5" fill="#bfbfff"/>
<rect x="153.9" y="72.7" width="5.5" height="5.5" fill="#b7b7ff"/>
<rect x="158.9" y="72.7" width="5.5" height="5.5" fill="#afafff"/>
<rect x="163.9" y="72.7" width="5.5" height="5.5" fill="#ababff"/>
<rect x="168.9" y="72.7" width="5.5" height="5.5" fill="#a3a3ff"/>
<rect x="173.9" y="72.7" width="5.5" height="5.5" fill="#9b9bff"/>
<rect x="178.9" y="72.7" width="5.5" height="5.5" fill="#9393ff"/>
<rect x="183.9" y="72.7" width="5.5" height="5.5" fill="#8b8bff"/>
<rect x="188.9" y="72.7" width="5.5" height="5.5" fill="#8787ff"/>
<rect x="193.9" y="72.7" width="5.5" height="5.5" fill="#8b8bff"/>
<rect x="198.9" y="72.7" width="5.5" height="5.5" fill="#8f8fff"/>
<rect x="203.9" y="72.7" width="5.5" height="5.5" fill="#9393ff"/>
<rect x="208.9" y="72.7" width="5.5" height="5.5" fill="#9b9bff"/>
<rect x="213.9" y="72.7" width="5.5" height="5.5" fill="#a3a3ff"/>
<rect x="218.9" y="72.7" width="10.5" height="5.5" fill="#ababff"/>
<rect x="228.9" y="72.7" width="10.5" height="5.5" fill="#a7a7ff"/>
<rect x="238.9" y="72.7" width="5.5" height="5.5" fill="#b3b3ff"/>
<rect x="243.9" y="72.7" width="5.5" height="5.5" fill="#bfbfff"/>
<rect x="248.9" y="72.7" width="5.5" height="5.5" fill="#cbcbff"/>
<rect x="253.9" y="72.7" width="5.5" height="5.5" fill="#dbdbff"/>
<rect x="258.9" y="72.7" width="5.5" height="5.5" fill="#ebebff"/>
<rect x="273.9" y="72.7" width="5.5" height="5.5" fill="#f7f7ff"/>
<rect x="278.9" y="72.7" width="10.5" height="5.5" fill="#f3f3ff"/>
<rect x="288.9" y="72.7" width="10.5" height="5.5" fill="#f7f7ff"/>
<rect x="298.9" y="72.7" width="50.5" height="5.5" fill="#fbfbff"/>
<rect x="378.9" y="72.7" width="10.5" height="5.5" fill="#fbfbff"/>
<rect x="388.9" y="72.7" width="5.5" height="5.5" fill="#f7f7ff"/>
<rect x="393.9" y="72.7" width="30.5" height="5.5" fill="#fbfbff"/>
<rect x="38.9" y="77.7" width="15.5" height="5.5" fill="#fffbfb"/>
<rect x="53.9" y="77.7" width="5.5" height="5.5" fill="#fbfbff"/>
<rect x="58.9" y="77.7" width="5.5" height="5.5" fill="#f3f3ff"/>
<rect x="63.9" y="77.7" width="5.5" height="5.5" fill="#ebebff"/>
<rect x="68.9" y="77.7" width="5.5" height="5.5" fill="#e3e3ff"/>
<rect x="73.9" y="77.7" width="5.5" height="5.5" fill="#d7d7ff"/>
<rect x="78.9" y="77.7" width="5.5" height="5.5" fill="#cfcfff"/>
<rect x="83.9" y="77.7" width="10.5" height="5.5" fill="#cbcbff"/>
<rect x="93.9" y="77.7" width="5.5" height="5.5" fill="#c7c7ff"/>
<rect x="98.9" y="77.7" width="5.5" height="5.5" fill="#cfcfff"/>
<rect x="103.9" y="77.7" width="5.5" height="5.5" fill="#d7d7ff"/>
<rect x="108.9" y="77.7" width="20.5" height="5.5" fill="#e3e3ff"/>
<rect x="128.9" y="77.7" width="5.5" height="5.5" fill="#e7e7ff"/>
<rect x="133.9" y="77.7" width="10.5" height="5.5" fill="#efefff"/>
<rect x="143.9" y="77.7" width="5.5" height="5.5" fill="#e3e3ff"/>
<rect x="148.9" y="77.7" width="5.5" height="5.5" fill="#cfcfff"/>
<rect x="153.9" y="77.7" width="5.5" height="5.5" fill="#bfbfff"/>
<rect x="158.9" y="77.7" width="5.5" height="5.5" fill="#b7b7ff"/>
<rect x="163.9" y="77.7" width="5.5" height="5.5" fill="#afafff"/>
<rect x="168.9" y="77.7" width="5.5" height="5.5" fill="#a7a7ff"/>
<rect x="173.9" y="77.7" width="5.5" height="5.5" fill="#a3a3ff"/>
<rect x="178.9" y="77.7" width="5.5" height="5.5" fill="#9b9bff"/>
<rect x="183.9" y="77.7" width="5.5" height="5.5" fill="#9393ff"/>
<rect x="188.9" y="77.7" width="5.5" height="5.5" fill="#8f8fff"/>
<rect x="193.9" y="77.7" width="10.5" height="5.5" fill="#9393ff"/>
<rect x="203.9" y="77.7" width="5.5" height="5.5" fill="#9797ff"/>
<rect x="208.9" y="77.7" width="5.5" height="5.5" fill="#9f9fff"/>
<rect x="213.9" y="77.7" width="5.5" height="5.5" fill="#a7a7ff"/>
<rect x="218.9" y="77.7" width="5.5" height="5.5" fill="#afafff"/>
<rect x="223.9" y="77.7" width="10.5" height="5.5" fill="#ababff"/>
<rect x="233.9" y="77.7" width="5.5" height="5.5" fill="#a7a7ff"/>
<rect x="238.9" y="77.7" width="5.5" height="5.5" fill="#b3b3ff"/>
<rect x="243.9" y="77.7" width="5.5" height="5.5" fill="#bfbfff"/>
<rect x="248.9" y="77.7" width="5.5" height="5.5" fill="#cbcbff"/>
<rect x="253.9" y="77.7" width="5.5" height="5.5" fill="#dfdfff"/>
<rect x="258.9" y="77.7" width="5.5" height="5.5" fill="#efefff"/>
<rect x="273.9" y="77.7" width="5.5" height="5.5" fill="#fbfbff"/>
<rect x="278.9" y="77.7" width="10.5" height="5.5" fill="#f3f3ff"/>
<rect x="288.9" y="77.7" width="10.5" height="5.5" fill="#f7f7ff"/>
<rect x="298.9" y="77.7" width="50.5" height="5.5" fill="#fbfbff"/>
<rect x="378.9" y="77.7" width="10.5" height="5.5" fill="#fbfbff"/>
<rect x="388.9" y="77.7" width="5.5" height="5.5" fill="#f7f7ff"/>
<rect x="393.9" y="77.7" width="30.5" height="5.5" fill="#fbfbff"/>
<rect x="53.9" y="82.7" width="5.5" height="5.5" fill="#f7f7ff"/>
<rect x="58.9" y="82.7" width="5.5" height="5.5" fill="#efefff"/>
<rect x="63.9" y="82.7" width="5.5" height="5.5" fill="#e7e7ff"/>
<rect x="68.9" y="82.7" width="5.5" height="5.5" fill="#dbdbff"/>
<rect x="73.9" y="82.7" width="5.5" height="5.5" fill="#d3d3ff"/>
<rect x="78.9" y="82.7" width="5.5" height="5.5" fill="#c7c7ff"/>
<rect x="83.9" y="82.7" width="10.5" height="5.5" fill="#c3c3ff"/>
<rect x="93.9" y="82.7" width="5.5" height="5.5" fill="#bfbfff"/>
<rect x="98.9" y="82.7" width="5.5" height="5.5" fill="#c7c7ff"/>
<rect x="103.9" y="82.7" width="5.5" height="5.5" fill="#d3d3ff"/>
<rect x="108.9" y="82.7" width="5.5" height="5.5" fill="#dfdfff"/>
<rect x="113.9" y="82.7" width="5.5" height="5.5" fill="#e7e7ff"/>
<rect x="118.9" y="82.7" width="5.5" height="5.5" fill="#e3e3ff"/>
<rect x="123.9" y="82.7" width="5.5" height="5.5" fill="#e7e7ff"/>
<rect x="128.9" y="82.7" width="5.5" height="5.5" fill="#efefff"/>
<rect x="133.9" y="82.7" width="5.5" height="5.5" fill="#fffbfb"/>
<rect x="138.9" y="82.7" width="5.5" height="5.5" fill="#fff3f3"/>
<rect x="143.9" y="82.7" width="5.5" height="5.5" fill="#fbfbff"/>
<rect x="148.9" y="82.7" width="5.5" height="5.5" fill="#dfdfff"/>
<rect x="153.9" y="82.7" width="5.5" height="5.5" fill="#cbcbff"/>
<rect x="158.9" y="82.7" width="5.5" height="5.5" fill="#bbbbff"/>
<rect x="163.9" y="82.7" width="5.5" height="5.5" fill="#b3b3ff"/>
<rect x="168.9" y="82.7" width="5.5" height="5.5" fill="#afafff"/>
<rect x="173.9" y="82.7" width="5.5" height="5.5" fill="#a7a7ff"/>
<rect x="178.9" y="82.7" width="5.5" height="5.5" fill="#9f9fff"/>
<rect x="183.9" y="82.7" width="5.5" height="5.5" fill="#9b9bff"/>
<rect x="188.9" y="82.7" width="10.5" height="5.5" fill="#9797ff"/>
<rect x="198.9" y="82.7" width="5.5" height="5.5" fill="#9b9bff"/>
<rect x="203.9" y="82.7" width="5.5" height="5.5" fill="#9f9fff"/>
<rect x="208.9" y="82.7" width="5.5" height="5.5" fill="#a3a3ff"/>
<rect x="213.9" y="82.7" width="5.5" height="5.5" fill="#ababff"/>
<rect x="218.9" y="82.7" width="10.5" height="5.5" fill="#afafff"/>
<rect x="228.9" y="82.7" width="10.5" height="5.5" fill="#ababff"/>
<rect x="238.9" y="82.7" width="5.5" height="5.5" fill="#b7b7ff"/>
<rect x="243.9" y="82.7" width="5.5" height="5.5" fill="#c3c3ff"/>
<rect x="248.9" y="82.7" width="5.5" height="5.5" fill="#cfcfff"/>
<rect x="253.9" y="82.7" width="5.5" height="5.5" fill="#dfdfff"/>
<rect x="258.9" y="82.7" width="5.5" height="5.5" fill="#f3f3ff"/>
<rect x="263.9" y="82.7" width="10.5" height="5.5" fill="#fffbfb"/>
<rect x="273.9" y="82.7" width="5.5" height="5.5" fill="#fbfbff"/>
<rect x="278.9" y="82.7" width="10.5" height="5.5" fill="#f3f3ff"/>
<rect x="288.9" y="82.7" width="10.5" height="5.5" fill="#f7f7ff"/>
<rect x="298.9" y="82.7" width="50.5" height="5.5" fill="#fbfbff"/>
<rect x="378.9" y="82.7" width="10.5" height="5.5" fill="#fbfbff"/>
<rect x="388.9" y="82.7" width="5.5" height="5.5" fill="#f7f7ff"/>
<rect x="393.9" y="82.7" width="30.5" height="5.5" fill="#fbfbff"/>
<rect x="53.9" y="87.7" width="5.5" height="5.5" fill="#f7f7ff"/>
<rect x="58.9" y="87.7" width="5.5" height="5.5" fill="#ebebff"/>
<rect x="63.9" y="87.7" width="5.5" height="5.5" fill="#e3e3ff"/>
<rect x="68.9" y="87.7" width="5.5" height="5.5" fill="#d7d7ff"/>
<rect x="73.9" y="87.7" width="5.5" height="5.5" fill="#cbcbff"/>
<rect x="78.9" y="87.7" width="5.5" height="5.5" fill="#c3c3ff"/>
<rect x="83.9" y="87.7" width="5.5" height="5.5" fill="#bfbfff"/>
<rect x="88.9" y="87.7" width="10.5" height="5.5" fill="#bbbbff"/>
<rect x="98.9" y="87.7" width="5.5" height="5.5" fill="#c3c3ff"/>
<rect x="103.9" y="87.7" width="5.5" height="5.5" fill="#d3d3ff"/>
<rect x="108.9" y="87.7" width="5.5" height="5.5" fill="#dfdfff"/>
<rect x="113.9" y="87.7" width="10.5" height="5.5" fill="#e7e7ff"/>
<rect x="123.9" y="87.7" width="5.5" height="5.5" fill="#ebebff"/>
<rect x="128.9" y="87.7" width="5.5" height="5.5" fill="#f7f7ff"/>
<rect x="133.9" y="87.7" width="5.5" height="5.5" fill="#ffebeb"/>
<rect x="138.9" y="87.7" width="5.5" height="5.5" fill="#ffd7d7"/>
<rect x="143.9" y="87.7" width="5.5" height="5.5" fill="#ffefef"/>
<rect x="148.9" y="87.7" width="5.5" height="5.5" fill="#ebebff"/>
<rect x="153.9" y="87.7" width="5.5" height="5.5" fill="#d3d3ff"/>
<rect x="158.9" y="87.7" width="5.5" height="5.5" fill="#c3c3ff"/>
<rect x="163.9" y="87.7" width="5.5" height="5.5" fill="#bbbbff"/>
<rect x="168.9" y="87.7" width="5.5" height="5.5" fill="#b3b3ff"/>
<rect x="173.9" y="87.7" width="5.5" height="5.5" fill="#afafff"/>
<rect x="178.9" y="87.7" width="5.5" height="5.5" fill="#a7a7ff"/>
<rect x="183.9" y="87.7" width="5.5" height="5.5" fill="#a3a3ff"/>
<rect x="188.9" y="87.7" width="10.5" height="5.5" fill="#9f9fff"/>
<rect x="198.9" y="87.7" width="10.5" height="5.5" fill="#a3a3ff"/>
<rect x="208.9" y="87.7" width="5.5" height="5.5" fill="#ababff"/>
<rect x="213.9" y="87.7" width="5.5" height="5.5" fill="#afafff"/>
<rect x="218.9" y="87.7" width="10.5" height="5.5" fill="#b3b3ff"/>
<rect x="228.9" y="87.7" width="10.5" height="5.5" fill="#afafff"/>
<rect x="238.9" y="87.7" width="5.5" height="5.5" fill="#bbbbff"/>
<rect x="243.9" y="87.7" width="5.5" height="5.5" fill="#c7c7ff"/>
<rect x="248.9" y="87.7" width="5.5" height="5.5" fill="#d3d3ff"/>
<rect x="253.9" y="87.7" width="5.5" height="5.5" fill="#e3e3ff"/>
<rect x="258.9" y="87.7" width="5.5" height="5.5" fill="#f3f3ff"/>
<rect x="263.9" y="87.7" width="10.5" height="5.5" fill="#fffbfb"/>
<rect x="273.9" y="87.7" width="5.5" height="5.5" fill="#fbfbff"/>
<rect x="278.9" y="87.7" width="10.5" height="5.5" fill="#f3f3ff"/>
<rect x="288.9" y="87.7" width="5.5" height="5.5" fill="#f7f7ff"/>
<rect x="293.9" y="87.7" width="55.5" height="5.5" fill="#fbfbff"/>
<rect x="378.9" y="87.7" width="10.5" height="5.5" fill="#fbfbff"/>
<rect x="388.9" y="87.7" width="5.5" height="5.5" fill="#f7f7ff"/>
<rect x="393.9" y="87.7" width="30.5" height="5.5" fill="#fbfbff"/>
<rect x="53.9" y="92.7" width="5.5" height="5.5" fill="#f3f3ff"/>
<rect x="58.9" y="92.7" width="5.5" height="5.5" fill="#ebebff"/>
<rect x="63.9" y="92.7" width="5.5" height="5.5" fill="#dfdfff"/>
<rect x="68.9" y="92.7" width="5.5" height="5.5" fill="#d3d3ff"/>
<rect x="73.9" y="92.7" width="5.5" height="5.5" fill="#c7c7ff"/>
<rect x="78.9" y="92.7" width="5.5" height="5.5" fill="#bfbfff"/>
<rect x="83.9" y="92.7" width="10.5" height="5.5" fill="#bbbbff"/>
<rect x="93.9" y="92.7" width="5.5" height="5.5" fill="#b7b7ff"/>
<rect x="98.9" y="92.7" width="5.5" height="5.5" fill="#c3c3ff"/>
<rect x="103.9" y="92.7" width="5.5" height="5.5" fill="#d3d3ff"/>
<rect x="108.9" y="92.7" width="5.5" height="5.5" fill="#dfdfff"/>
<rect x="113.9" y="92.7" width="5.5" height="5.5" fill="#e7e7ff"/>
<rect x="118.9" y="92.7" width="5.5" height="5.5" fill="#efefff"/>
<rect x="123.9" y="92.7" width="5.5" height="5.5" fill="#f3f3ff"/>
<rect x="128.9" y="92.7" width="5.5" height="5.5" fill="#fffbfb"/>
<rect x="133.9" y="92.7" width="5.5" height="5.5" fill="#ffdfdf"/>
<rect x="138.9" y="92.7" width="5.5" height="5.5" fill="#ffc7c7"/>
<rect x="143.9" y="92.7" width="5.5" height="5.5" fill="#ffdbdb"/>
<rect x="148.9" y="92.7" width="5.5" height="5.5" fill="#fbfbff"/>
<rect x="153.9" y="92.7" width="5.5" height="5.5" fill="#dfdfff"/>
<rect x="158.9" y="92.7" width="5.5" height="5.5" fill="#cbcbff"/>
<rect x="163.9" y="92.7" width="5.5" height="5.5" fill="#c3c3ff"/>
<rect x="168.9" y="92.7" width="5.5" height="5.5" fill="#bbbbff"/>
<rect x="173.9" y="92.7" width="5.5" height="5.5" fill="#b7b7ff"/>
<rect x="178.9" y="92.7" width="5.5" height="5.5" fill="#afafff"/>
<rect x="183.9" y="92.7" width="5.5" height="5.5" fill="#ababff"/>
<rect x="188.9" y="92.7" width="5.5" height="5.5" fill="#a7a7ff"/>
<rect x="193.9" y="92.7" width="10.5" height="5.5" fill="#ababff"/>
<rect x="203.9" y="92.7" width="5.5" height="5.5" fill="#afafff"/>
<rect x="208.9" y="92.7" width="5.5" height="5.5" fill="#b3b3ff"/>
<rect x="213.9" y="92.7" width="5.5" height="5.5" fill="#b7b7ff"/>
<rect x="218.9" y="92.7" width="5.5" height="5.5" fill="#bbbbff"/>
<rect x="223.9" y="92.7" width="10.5" height="5.5" fill="#b7b7ff"/>
<rect x="233.9" y="92.7" width="5.5" height="5.5" fill="#b3b3ff"/>
<rect x="238.9" y="92.7" width="5.5" height="5.5" fill="#bfbfff"/>
<rect x="243.9" y="92.7" width="5.5" height="5.5" fill="#cbcbff"/>
<rect x="248.9" y="92.7" width="5.5" height="5.5" fill="#d3d3ff"/>
<rect x="253.9" y="92.7" width="5.5" height="5.5" fill="#e3e3ff"/>
<rect x="258.9" y="92.7" width="5.5" height="5.5" fill="#f3f3ff"/>
<rect x="263.9" y="92.7" width="10.5" height="5.5" fill="#fffbfb"/>
<rect x="273.9" y="92.7" width="5.5" height="5.5" fill="#fbfbff"/>
<rect x="278.9" y="92.7" width="10.5" height="5.5" fill="#f3f3ff"/>
<rect x="288.9" y="92.7" width="5.5" height="5.5" fill="#f7f7ff"/>
<rect x="293.9" y="92.7" width="5.5" height="5.5" fill="#fbfbff"/>
<rect x="323.9" y="92.7" width="25.5" height="5.5" fill="#fbfbff"/>
<rect x="378.9" y="92.7" width="10.5" height="5.5" fill="#fbfbff"/>
<rect x="388.9" y="92.7" width="5.5" height="5.5" fill="#f7f7ff"/>
<rect x="393.9" y="92.7" width="30.5" height="5.5" fill="#fbfbff"/>
<rect x="53.9" y="97.7" width="5.5" height="5.5" fill="#f3f3ff"/>
<rect x="58.9" y="97.7" width="5.5" height="5.5" fill="#e7e7ff"/>
<rect x="63.9" y="97.7" width="5.5" height="5.5" fill="#dfdfff"/>
<rect x="68.9" y="97.7" width="5.5" height="5.5" fill="#d3d3ff"/>
<rect x="73.9" y="97.7" width="5.5" height="5.5" fill="#c3c3ff"/>
<rect x="78.9" y="97.7" width="20.5" height="5.5" fill="#b7b7ff"/>
<rect x="98.9" y="97.7" width="5.5" height="5.5" fill="#bfbfff"/>
<rect x="103.9" y="97.7" width="5.5" height="5.5" fill="#cfcfff"/>
<rect x="108.9" y="97.7" width="5.5" height="5.5" fill="#dfdfff"/>
<rect x="113.9" y="97.7" width="5.5" height="5.5" fill="#ebebff"/>
<rect x="118.9" y="97.7" width="5.5" height="5.5" fill="#f3f3ff"/>
<rect x="123.9" y="97.7" width="5.5" height="5.5" fill="#fbfbff"/>
<rect x="128.9" y="97.7" width="5.5" height="5.5" fill="#fff3f3"/>
<rect x="133.9" y="97.7" width="5.5" height="5.5" fill="#ffd7d7"/>
<rect x="138.9" y="97.7" width="5.5" height="5.5" fill="#ffbbbb"/>
<rect x="143.9" y="97.7" width="5.5" height="5.5" fill="#ffcfcf"/>
<rect x="148.9" y="97.7" width="5.5" height="5.5" fill="#fff7f7"/>
<rect x="153.9" y="97.7" width="5.5" height="5.5" fill="#e7e7ff"/>
<rect x="158.9" y="97.7" width="5.5" height="5.5" fill="#d3d3ff"/>
<rect x="163.9" y="97.7" width="5.5" height="5.5" fill="#cbcbff"/>
<rect x="168.9" y="97.7" width="5.5" height="5.5" fill="#c3c3ff"/>
<rect x="173.9" y="97.7" width="5.5" height="5.5" fill="#bfbfff"/>
<rect x="178.9" y="97.7" width="5.5" height="5.5" fill="#bbbbff"/>
<rect x="183.9" y="97.7" width="15.5" height="5.5" fill="#b3b3ff"/>
<rect x="198.9" y="97.7" width="10.5" height="5.5" fill="#b7b7ff"/>
<rect x="208.9" y="97.7" width="10.5" height="5.5" fill="#bbbbff"/>
<rect x="218.9" y="97.7" width="5.5" height="5.5" fill="#bfbfff"/>
<rect x="223.9" y="97.7" width="10.5" height="5.5" fill="#bbbbff"/>
<rect x="233.9" y="97.7" width="5.5" height="5.5" fill="#b7b7ff"/>
<rect x="238.9" y="97.7" width="5.5" height="5.5" fill="#c3c3ff"/>
<rect x="243.9" y="97.7" width="5.5" height="5.5" fill="#cbcbff"/>
<rect x="248.9" y="97.7" width="5.5" height="5.5" fill="#d7d7ff"/>
<rect x="253.9" y="97.7" width="5.5" height="5.5" fill="#e7e7ff"/>
<rect x="258.9" y="97.7" width="5.5" height="5.5" fill="#f7f7ff"/>
<rect x="263.9" y="97.7" width="5.5" height="5.5" fill="#fff7f7"/>
<rect x="268.9" y="97.7" width="5.5" height="5.5" fill="#fffbfb"/>
<rect x="273.9" y="97.7" width="5.5" height="5.5" fill="#fbfbff"/>
<rect x="278.9" y="97.7" width="5.5" height="5.5" fill="#f3f3ff"/>
<rect x="283.9" y="97.7" width="5.5" height="5.5" fill="#f7f7ff"/>
<rect x="288.9" y="97.7" width="5.5" height="5.5" fill="#fbfbff"/>
<rect x="298.9" y="97.7" width="15.5" height="5.5" fill="#fffbfb"/>
<rect x="323.9" y="97.7" width="25.5" height="5.5" fill="#fbfbff"/>
<rect x="378.9" y="97.7" width="10.5" height="5.5" fill="#fbfbff"/>
<rect x="388.9" y="97.7" width="5.5" height="5.5" fill="#f7f7ff"/>
<rect x="393.9" y="97.7" width="30.5" height="5.5" fill="#fbfbff"/>
<rect x="53.9" y="102.7" width="5.5" height="5.5" fill="#f3f3ff"/>
<rect x="58.9" y="102.7" width="5.5" height="5.5" fill="#ebebff"/>
<rect x="63.9" y="102.7" width="5.5" height="5.5" fill="#dfdfff"/>
<rect x="68.9" y="102.7" width="5.5" height="5.5" fill="#d3d3ff"/>
<rect x="73.9" y="102.7" width="5.5" height="5.5" fill="#c7c7ff"/>
<rect x="78.9" y="102.7" width="20.5" height="5.5" fill="#bbbbff"/>
<rect x="98.9" y="102.7" width="5.5" height="5.5" fill="#c7c7ff"/>
<rect x="103.9" y="102.7" width="5.5" height="5.5" fill="#d3d3ff"/>
<rect x="108.9" y="102.7" width="5.5" height="5.5" fill="#e3e3ff"/>
<rect x="113.9" y="102.7" width="5.5" height="5.5" fill="#efefff"/>
<rect x="118.9" y="102.7" width="5.5" height="5.5" fill="#fbfbff"/>
<rect x="123.9" y="102.7" width="5.5" height="5.5" fill="#fffbfb"/>
<rect x="128.9" y="102.7" width="5.5" height="5.5" fill="#ffebeb"/>
<rect x="133.9" y="102.7" width="5.5" height="5.5" fill="#ffd3d3"/>
<rect x="138.9" y="102.7" width="5.5" height="5.5" fill="#ffb7b7"/>
<rect x="143.9" y="102.7" width="5.5" height="5.5" fill="#ffbfbf"/>
<rect x="148.9" y="102.7" width="5.5" height="5.5" fill="#ffe3e3"/>
<rect x="153.9" y="102.7" width="5.5" height="5.5" fill="#fffbfb"/>
<rect x="158.9" y="102.7" width="5.5" height="5.5" fill="#f3f3ff"/>
<rect x="163.9" y="102.7" width="5.5" height="5.5" fill="#ebebff"/>
<rect x="168.9" y="102.7" width="5.5" height="5.5" fill="#dfdfff"/>
<rect x="173.9" y="102.7" width="5.5" height="5.5" fill="#d7d7ff"/>
<rect x="178.9" y="102.7" width="5.5" height="5.5" fill="#cfcfff"/>
<rect x="183.9" y="102.7" width="5.5" height="5.5" fill="#c7c7ff"/>
<rect x="188.9" y="102.7" width="20.5" height="5.5" fill="#bfbfff"/>
<rect x="208.9" y="102.7" width="5.5" height="5.5" fill="#c3c3ff"/>
<rect x="213.9" y="102.7" width="15.5" height="5.5" fill="#c7c7ff"/>
<rect x="228.9" y="102.7" width="5.5" height="5.5" fill="#c3c3ff"/>
<rect x="233.9" y="102.7" width="5.5" height="5.5" fill="#bfbfff"/>
<rect x="238.9" y="102.7" width="5.5" height="5.5" fill="#c7c7ff"/>
<rect x="243.9" y="102.7" width="5.5" height="5.5" fill="#d3d3ff"/>
<rect x="248.9" y="102.7" width="5.5" height="5.5" fill="#dbdbff"/>
<rect x="253.9" y="102.7" width="5.5" height="5.5" fill="#ebebff"/>
<rect x="258.9" y="102.7" width="5.5" height="5.5" fill="#f7f7ff"/>
<rect x="263.9" y="102.7" width="5.5" height="5.5" fill="#fff7f7"/>
<rect x="268.9" y="102.7" width="5.5" height="5.5" fill="#fffbfb"/>
<rect x="273.9" y="102.7" width="5.5" height="5.5" fill="#fbfbff"/>
<rect x="278.9" y="102.7" width="5.5" height="5.5" fill="#f3f3ff"/>
<rect x="283.9" y="102.7" width="5.5" height="5.5" fill="#f7f7ff"/>
<rect x="288.9" y="102.7" width="5.5" height="5.5" fill="#fbfbff"/>
<rect x="293.9" y="102.7" width="25.5" height="5.5" fill="#fffbfb"/>
<rect x="328.9" y="102.7" width="15.5" height="5.5" fill="#fbfbff"/>
<rect x="378.9" y="102.7" width="45.5" height="5.5" fill="#fbfbff"/>
<rect x="53.9" y="107.7" width="5.5" height="5.5" fill="#f7f7ff"/>
<rect x="58.9" y="107.7" width="5.5" height="5.5" fill="#ebebff"/>
<rect x="63.9" y="107.7" width="5.5" height="5.5" fill="#e3e3ff"/>
<rect x="68.9" y="107.7" width="5.5" height="5.5" fill="#d7d7ff"/>
<rect x="73.9" y="107.7" width="5.5" height="5.5" fill="#cbcbff"/>
<rect x="78.9" y="107.7" width="5.5" height="5.5" fill="#c3c3ff"/>
<rect x="83.9" y="107.7" width="15.5" height="5.5" fill="#bfbfff"/>
<rect x="98.9" y="107.7" width="5.5" height="5.5" fill="#cbcbff"/>
<rect x="103.9" y="107.7" width="5.5" height="5.5" fill="#dbdbff"/>
<rect x="108.9" y="107.7" width="5.5" height="5.5" fill="#ebebff"/>
<rect x="113.9" y="107.7" width="5.5" height="5.5" fill="#f7f7ff"/>
<rect x="118.9" y="107.7" width="5.5" height="5.5" fill="#fffbfb"/>
<rect x="123.9" y="107.7" width="5.5" height="5.5" fill="#ffefef"/>
<rect x="128.9" y="107.7" width="5.5" height="5.5" fill="#ffe3e3"/>
<rect x="133.9" y="107.7" width="5.5" height="5.5" fill="#ffcfcf"/>
<rect x="138.9" y="107.7" width="5.5" height="5.5" fill="#ffb3b3"/>
<rect x="143.9" y="107.7" width="5.5" height="5.5" fill="#ffb7b7"/>
<rect x="148.9" y="107.7" width="5.5" height="5.5" fill="#ffcfcf"/>
<rect x="153.9" y="107.7" width="5.5" height="5.5" fill="#ffdfdf"/>
<rect x="158.9" y="107.7" width="5.5" height="5.5" fill="#ffebeb"/>
<rect x="163.9" y="107.7" width="5.5" height="5.5" fill="#fff7f7"/>
<rect x="168.9" y="107.7" width="5.5" height="5.5" fill="#fbfbff"/>
<rect x="173.9" y="107.7" width="5.5" height="5.5" fill="#efefff"/>
<rect x="178.9" y="107.7" width="5.5" height="5.5" fill="#e3e3ff"/>
<rect x="183.9" y="107.7" width="5.5" height="5.5" fill="#d7d7ff"/>
<rect x="188.9" y="107.7" width="5.5" height="5.5" fill="#cfcfff"/>
<rect x="193.9" y="107.7" width="10.5" height="5.5" fill="#cbcbff"/>
<rect x="203.9" y="107.7" width="5.5" height="5.5" fill="#c7c7ff"/>
<rect x="208.9" y="107.7" width="5.5" height="5.5" fill="#cbcbff"/>
<rect x="213.9" y="107.7" width="5.5" height="5.5" fill="#cfcfff"/>
<rect x="218.9" y="107.7" width="5.5" height="5.5" fill="#d3d3ff"/>
<rect x="223.9" y="107.7" width="5.5" height="5.5" fill="#cfcfff"/>
<rect x="228.9" y="107.7" width="5.5" height="5.5" fill="#cbcbff"/>
<rect x="233.9" y="107.7" width="5.5" height="5.5" fill="#c7c7ff"/>
<rect x="238.9" y="107.7" width="5.5" height="5.5" fill="#cfcfff"/>
<rect x="243.9" y="107.7" width="5.5" height="5.5" fill="#d7d7ff"/>
<rect x="248.9" y="107.7" width="5.5" height="5.5" fill="#e3e3ff"/>
<rect x="253.9" y="107.7" width="5.5" height="5.5" fill="#ebebff"/>
<rect x="258.9" y="107.7" width="5.5" height="5.5" fill="#fbfbff"/>
<rect x="263.9" y="107.7" width="5.5" height="5.5" fill="#fff7f7"/>
<rect x="268.9" y="107.7" width="5.5" height="5.5" fill="#fffbfb"/>
<rect x="273.9" y="107.7" width="5.5" height="5.5" fill="#fbfbff"/>
<rect x="278.9" y="107.7" width="5.5" height="5.5" fill="#f3f3ff"/>
<rect x="283.9" y="107.7" width="5.5" height="5.5" fill="#f7f7ff"/>
<rect x="288.9" y="107.7" width="5.5" height="5.5" fill="#fbfbff"/>
<rect x="293.9" y="107.7" width="25.5" height="5.5" fill="#fffbfb"/>
<rect x="328.9" y="107.7" width="10.5" height="5.5" fill="#fbfbff"/>
<rect x="383.9" y="107.7" width="15.5" height="5.5" fill="#fbfbff"/>
<rect x="38.9" y="112.7" width="15.5" height="5.5" fill="#fbfbff"/>
<rect x="53.9" y="112.7" width="5.5" height="5.5" fill="#f3f3ff"/>
<rect x="58.9" y="112.7" width="5.5" height="5.5" fill="#ebebff"/>
<rect x="63.9" y="112.7" width="5.5" height="5.5" fill="#e3e3ff"/>
<rect x="68.9" y="112.7" width="5.5" height="5.5" fill="#dbdbff"/>
<rect x="73.9" y="112.7" width="5.5" height="5.5" fill="#d3d3ff"/>
<rect x="78.9" y="112.7" width="5.5" height="5.5" fill="#c7c7ff"/>
<rect x="83.9" y="112.7" width="5.5" height="5.5" fill="#cbcbff"/>
<rect x="88.9" y="112.7" width="5.5" height="5.5" fill="#cfcfff"/>
<rect x="93.9" y="112.7" width="5.5" height="5.5" fill="#d3d3ff"/>
<rect x="98.9" y="112.7" width="5.5" height="5.5" fill="#dbdbff"/>
<rect x="103.9" y="112.7" width="5.5" height="5.5" fill="#e7e7ff"/>
<rect x="108.9" y="112.7" width="5.5" height="5.5" fill="#f3f3ff"/>
<rect x="118.9" y="112.7" width="5.5" height="5.5" fill="#fff3f3"/>
<rect x="123.9" y="112.7" width="5.5" height="5.5" fill="#ffe7e7"/>
<rect x="128.9" y="112.7" width="5.5" height="5.5" fill="#ffdbdb"/>
<rect x="133.9" y="112.7" width="5.5" height="5.5" fill="#ffcbcb"/>
<rect x="138.9" y="112.7" width="5.5" height="5.5" fill="#ffb3b3"/>
<rect x="143.9" y="112.7" width="5.5" height="5.5" fill="#ffafaf"/>
<rect x="148.9" y="112.7" width="5.5" height="5.5" fill="#ffbfbf"/>
<rect x="153.9" y="112.7" width="5.5" height="5.5" fill="#ffcbcb"/>
<rect x="158.9" y="112.7" width="5.5" height="5.5" fill="#ffd3d3"/>
<rect x="163.9" y="112.7" width="5.5" height="5.5" fill="#ffdfdf"/>
<rect x="168.9" y="112.7" width="5.5" height="5.5" fill="#ffe7e7"/>
<rect x="173.9" y="112.7" width="5.5" height="5.5" fill="#fff3f3"/>
<rect x="178.9" y="112.7" width="5.5" height="5.5" fill="#fbfbff"/>
<rect x="183.9" y="112.7" width="5.5" height="5.5" fill="#efefff"/>
<rect x="188.9" y="112.7" width="5.5" height="5.5" fill="#e3e3ff"/>
<rect x="193.9" y="112.7" width="5.5" height="5.5" fill="#dbdbff"/>
<rect x="198.9" y="112.7" width="5.5" height="5.5" fill="#d7d7ff"/>
<rect x="203.9" y="112.7" width="5.5" height="5.5" fill="#cfcfff"/>
<rect x="208.9" y="112.7" width="5.5" height="5.5" fill="#d3d3ff"/>
<rect x="213.9" y="112.7" width="5.5" height="5.5" fill="#d7d7ff"/>
<rect x="218.9" y="112.7" width="5.5" height="5.5" fill="#dbdbff"/>
<rect x="223.9" y="112.7" width="10.5" height="5.5" fill="#d7d7ff"/>
<rect x="233.9" y="112.7" width="5.5" height="5.5" fill="#d3d3ff"/>
<rect x="238.9" y="112.7" width="5.5" height="5.5" fill="#dbdbff"/>
<rect x="243.9" y="112.7" width="5.5" height="5.5" fill="#e3e3ff"/>
<rect x="248.9" y="112.7" width="5.5" height="5.5" fill="#e7e7ff"/>
<rect x="253.9" y="112.7" width="5.5" height="5.5" fill="#f3f3ff"/>
<rect x="258.9" y="112.7" width="5.5" height="5.5" fill="#fbfbff"/>
<rect x="263.9" y="112.7" width="10.5" height="5.5" fill="#fffbfb"/>
<rect x="273.9" y="112.7" width="5.5" height="5.5" fill="#fbfbff"/>
<rect x="278.9" y="112.7" width="10.5" height="5.5" fill="#f7f7ff"/>
<rect x="293.9" y="112.7" width="5.5" height="5.5" fill="#fffbfb"/>
<rect x="298.9" y="112.7" width="15.5" height="5.5" fill="#fff7f7"/>
<rect x="313.9" y="112.7" width="5.5" height="5.5" fill="#fffbfb"/>
<rect x="328.9" y="112.7" width="5.5" height="5.5" fill="#fbfbff"/>
<rect x="383.9" y="112.7" width="15.5" height="5.5" fill="#fbfbff"/>
<rect x="38.9" y="117.7" width="15.5" height="5.5" fill="#f3f3ff"/>
<rect x="53.9" y="117.7" width="5.5" height="5.5" fill="#efefff"/>
<rect x="58.9" y="117.7" width="5.5" height="5.5" fill="#ebebff"/>
<rect x="63.9" y="117.7" width="5.5" height="5.5" fill="#e3e3ff"/>
<rect x="68.9" y="117.7" width="5.5" height="5.5" fill="#dfdfff"/>
<rect x="73.9" y="117.7" width="5.5" height="5.5" fill="#d7d7ff"/>
<rect x="78.9" y="117.7" width="5.5" height="5.5" fill="#d3d3ff"/>
<rect x="83.9" y="117.7" width="5.5" height="5.5" fill="#dfdfff"/>
<rect x="88.9" y="117.7" width="5.5" height="5.5" fill="#ebebff"/>
<rect x="93.9" y="117.7" width="5.5" height="5.5" fill="#fbfbff"/>
<rect x="98.9" y="117.7" width="10.5" height="5.5" fill="#fffbfb"/>
<rect x="108.9" y="117.7" width="5.5" height="5.5" fill="#fff7f7"/>
<rect x="113.9" y="117.7" width="5.5" height="5.5" fill="#fff3f3"/>
<rect x="118.9" y="117.7" width="5.5" height="5.5" fill="#ffebeb"/>
<rect x="123.9" y="117.7" width="5.5" height="5.5" fill="#ffe3e3"/>
<rect x="128.9" y="117.7" width="5.5" height="5.5" fill="#ffd7d7"/>
<rect x="133.9" y="117.7" width="5.5" height="5.5" fill="#ffc7c7"/>
<rect x="138.9" y="117.7" width="5.5" height="5.5" fill="#ffb7b7"/>
<rect x="143.9" y="117.7" width="5.5" height="5.5" fill="#ffb3b3"/>
<rect x="148.9" y="117.7" width="5.5" height="5.5" fill="#ffbbbb"/>
<rect x="153.9" y="117.7" width="5.5" height="5.5" fill="#ffbfbf"/>
<rect x="158.9" y="117.7" width="5.5" height="5.5" fill="#ffc7c7"/>
<rect x="163.9" y="117.7" width="5.5" height="5.5" fill="#ffcfcf"/>
<rect x="168.9" y="117.7" width="5.5" height="5.5" fill="#ffd3d3"/>
<rect x="173.9" y="117.7" width="5.5" height="5.5" fill="#ffdbdb"/>
<rect x="178.9" y="117.7" width="5.5" height="5.5" fill="#ffe7e7"/>
<rect x="183.9" y="117.7" width="5.5" height="5.5" fill="#fff3f3"/>
<rect x="193.9" y="117.7" width="5.5" height="5.5" fill="#f3f3ff"/>
<rect x="198.9" y="117.7" width="5.5" height="5.5" fill="#e7e7ff"/>
<rect x="203.9" y="117.7" width="10.5" height="5.5" fill="#dfdfff"/>
<rect x="213.9" y="117.7" width="25.5" height="5.5" fill="#e3e3ff"/>
<rect x="238.9" y="117.7" width="5.5" height="5.5" fill="#ebebff"/>
<rect x="243.9" y="117.7" width="5.5" height="5.5" fill="#efefff"/>
<rect x="248.9" y="117.7" width="5.5" height="5.5" fill="#f3f3ff"/>
<rect x="253.9" y="117.7" width="5.5" height="5.5" fill="#f7f7ff"/>
<rect x="258.9" y="117.7" width="5.5" height="5.5" fill="#fbfbff"/>
<rect x="273.9" y="117.7" width="5.5" height="5.5" fill="#fbfbff"/>
<rect x="278.9" y="117.7" width="5.5" height="5.5" fill="#f7f7ff"/>
<rect x="283.9" y="117.7" width="5.5" height="5.5" fill="#fbfbff"/>
<rect x="293.9" y="117.7" width="5.5" height="5.5" fill="#fffbfb"/>
<rect x="298.9" y="117.7" width="20.5" height="5.5" fill="#fff7f7"/>
<rect x="318.9" y="117.7" width="5.5" height="5.5" fill="#fffbfb"/>
<rect x="328.9" y="117.7" width="15.5" height="5.5" fill="#fbfbff"/>
<rect x="378.9" y="117.7" width="25.5" height="5.5" fill="#fbfbff"/>
<rect x="38.9" y="122.7" width="15.5" height="5.5" fill="#efefff"/>
<rect x="53.9" y="122.7" width="5.5" height="5.5" fill="#ebebff"/>
<rect x="58.9" y="122.7" width="10.5" height="5.5" fill="#e7e7ff"/>
<rect x="68.9" y="122.7" width="5.5" height="5.5" fill="#e3e3ff"/>
<rect x="73.9" y="122.7" width="10.5" height="5.5" fill="#dfdfff"/>
<rect x="83.9" y="122.7" width="5.5" height="5.5" fill="#efefff"/>
<rect x="88.9" y="122.7" width="5.5" height="5.5" fill="#fff3f3"/>
<rect x="93.9" y="122.7" width="5.5" height="5.5" fill="#ffd7d7"/>
<rect x="98.9" y="122.7" width="5.5" height="5.5" fill="#ffd3d3"/>
<rect x="103.9" y="122.7" width="5.5" height="5.5" fill="#ffdbdb"/>
<rect x="108.9" y="122.7" width="10.5" height="5.5" fill="#ffe7e7"/>
<rect x="118.9" y="122.7" width="5.5" height="5.5" fill="#ffdfdf"/>
<rect x="123.9" y="122.7" width="5.5" height="5.5" fill="#ffdbdb"/>
<rect x="128.9" y="122.7" width="5.5" height="5.5" fill="#ffd3d3"/>
<rect x="133.9" y="122.7" width="5.5" height="5.5" fill="#ffc7c7"/>
<rect x="138.9" y="122.7" width="5.5" height="5.5" fill="#ffb7b7"/>
<rect x="143.9" y="122.7" width="5.5" height="5.5" fill="#ffb3b3"/>
<rect x="148.9" y="122.7" width="10.5" height="5.5" fill="#ffb7b7"/>
<rect x="158.9" y="122.7" width="5.5" height="5.5" fill="#ffbbbb"/>
<rect x="163.9" y="122.7" width="10.5" height="5.5" fill="#ffbfbf"/>
<rect x="173.9" y="122.7" width="5.5" height="5.5" fill="#ffc7c7"/>
<rect x="178.9" y="122.7" width="5.5" height="5.5" fill="#ffcfcf"/>
<rect x="183.9" y="122.7" width="5.5" height="5.5" fill="#ffd7d7"/>
<rect x="188.9" y="122.7" width="5.5" height="5.5" fill="#ffe3e3"/>
<rect x="193.9" y="122.7" width="5.5" height="5.5" fill="#fff3f3"/>
<rect x="198.9" y="122.7" width="5.5" height="5.5" fill="#fbfbff"/>
<rect x="203.9" y="122.7" width="20.5" height="5.5" fill="#ebebff"/>
<rect x="223.9" y="122.7" width="5.5" height="5.5" fill="#efefff"/>
<rect x="228.9" y="122.7" width="5.5" height="5.5" fill="#f3f3ff"/>
<rect x="233.9" y="122.7" width="10.5" height="5.5" fill="#f7f7ff"/>
<rect x="243.9" y="122.7" width="5.5" height="5.5" fill="#fbfbff"/>
<rect x="258.9" y="122.7" width="15.5" height="5.5" fill="#fbfbff"/>
<rect x="273.9" y="122.7" width="10.5" height="5.5" fill="#f7f7ff"/>
<rect x="283.9" y="122.7" width="5.5" height="5.5" fill="#fbfbff"/>
<rect x="288.9" y="122.7" width="5.5" height="5.5" fill="#fffbfb"/>
<rect x="293.9" y="122.7" width="25.5" height="5.5" fill="#fff7f7"/>
<rect x="318.9" y="122.7" width="5.5" height="5.5" fill="#fffbfb"/>
<rect x="328.9" y="122.7" width="95.5" height="5.5" fill="#fbfbff"/>
<rect x="38.9" y="127.7" width="20.5" height="5.5" fill="#efefff"/>
<rect x="58.9" y="127.7" width="5.5" height="5.5" fill="#ebebff"/>
<rect x="63.9" y="127.7" width="20.5" height="5.5" fill="#e7e7ff"/>
<rect x="83.9" y="127.7" width="5.5" height="5.5" fill="#fbfbff"/>
<rect x="88.9" y="127.7" width="5.5" height="5.5" fill="#ffe7e7"/>
<rect x="93.9" y="127.7" width="5.5" height="5.5" fill="#ffc7c7"/>
<rect x="98.9" y="127.7" width="5.5" height="5.5" fill="#ffbbbb"/>
<rect x="103.9" y="127.7" width="5.5" height="5.5" fill="#ffc3c3"/>
<rect x="108.9" y="127.7" width="5.5" height="5.5" fill="#ffcbcb"/>
<rect x="113.9" y="127.7" width="10.5" height="5.5" fill="#ffcfcf"/>
<rect x="123.9" y="127.7" width="5.5" height="5.5" fill="#ffd3d3"/>
<rect x="128.9" y="127.7" width="5.5" height="5.5" fill="#ffcbcb"/>
<rect x="133.9" y="127.7" width="5.5" height="5.5" fill="#ffc3c3"/>
<rect x="138.9" y="127.7" width="5.5" height="5.5" fill="#ffb7b7"/>
<rect x="143.9" y="127.7" width="10.5" height="5.5" fill="#ffb3b3"/>
<rect x="153.9" y="127.7" width="5.5" height="5.5" fill="#ffb7b7"/>
<rect x="158.9" y="127.7" width="10.5" height="5.5" fill="#ffbbbb"/>
<rect x="168.9" y="127.7" width="5.5" height="5.5" fill="#ffbfbf"/>
<rect x="173.9" y="127.7" width="5.5" height="5.5" fill="#ffc3c3"/>
<rect x="178.9" y="127.7" width="5.5" height="5.5" fill="#ffcbcb"/>
<rect x="183.9" y="127.7" width="5.5" height="5.5" fill="#ffd3d3"/>
<rect x="188.9" y="127.7" width="5.5" height="5.5" fill="#ffdbdb"/>
<rect x="193.9" y="127.7" width="5.5" height="5.5" fill="#ffefef"/>
<rect x="203.9" y="127.7" width="15.5" height="5.5" fill="#efefff"/>
<rect x="218.9" y="127.7" width="5.5" height="5.5" fill="#ebebff"/>
<rect x="223.9" y="127.7" width="5.5" height="5.5" fill="#efefff"/>
<rect x="228.9" y="127.7" width="5.5" height="5.5" fill="#f7f7ff"/>
<rect x="233.9" y="127.7" width="5.5" height="5.5" fill="#fbfbff"/>
<rect x="248.9" y="127.7" width="5.5" height="5.5" fill="#fffbfb"/>
<rect x="263.9" y="127.7" width="15.5" height="5.5" fill="#fbfbff"/>
<rect x="278.9" y="127.7" width="5.5" height="5.5" fill="#f7f7ff"/>
<rect x="283.9" y="127.7" width="5.5" height="5.5" fill="#fbfbff"/>
<rect x="293.9" y="127.7" width="25.5" height="5.5" fill="#fff7f7"/>
<rect x="318.9" y="127.7" width="5.5" height="5.5" fill="#fffbfb"/>
<rect x="328.9" y="127.7" width="95.5" height="5.5" fill="#fbfbff"/>
<rect x="38.9" y="132.7" width="15.5" height="5.5" fill="#f7f7ff"/>
<rect x="53.9" y="132.7" width="5.5" height="5.5" fill="#efefff"/>
<rect x="58.9" y="132.7" width="5.5" height="5.5" fill="#ebebff"/>
<rect x="63.9" y="132.7" width="10.5" height="5.5" fill="#e7e7ff"/>
<rect x="73.9" y="132.7" width="10.5" height="5.5" fill="#ebebff"/>
<rect x="83.9" y="132.7" width="5.5" height="5.5" fill="#fffbfb"/>
<rect x="88.9" y="132.7" width="5.5" height="5.5" fill="#ffdfdf"/>
<rect x="93.9" y="132.7" width="5.5" height="5.5" fill="#ffbfbf"/>
<rect x="98.9" y="132.7" width="5.5" height="5.5" fill="#ffabab"/>
<rect x="103.9" y="132.7" width="5.5" height="5.5" fill="#ffa3a3"/>
<rect x="108.9" y="132.7" width="5.5" height="5.5" fill="#ffa7a7"/>
<rect x="113.9" y="132.7" width="5.5" height="5.5" fill="#ffb3b3"/>
<rect x="118.9" y="132.7" width="5.5" height="5.5" fill="#ffbfbf"/>
<rect x="123.9" y="132.7" width="10.5" height="5.5" fill="#ffc7c7"/>
<rect x="133.9" y="132.7" width="5.5" height="5.5" fill="#ffbfbf"/>
<rect x="138.9" y="132.7" width="5.5" height="5.5" fill="#ffb7b7"/>
<rect x="143.9" y="132.7" width="5.5" height="5.5" fill="#ffb3b3"/>
<rect x="148.9" y="132.7" width="10.5" height="5.5" fill="#ffb7b7"/>
<rect x="158.9" y="132.7" width="10.5" height="5.5" fill="#ffbbbb"/>
<rect x="168.9" y="132.7" width="5.5" height="5.5" fill="#ffbfbf"/>
<rect x="173.9" y="132.7" width="5.5" height="5.5" fill="#ffc3c3"/>
<rect x="178.9" y="132.7" width="5.5" height="5.5" fill="#ffcbcb"/>
<rect x="183.9" y="132.7" width="5.5" height="5.5" fill="#ffd3d3"/>
<rect x="188.9" y="132.7" width="5.5" height="5.5" fill="#ffdbdb"/>
<rect x="193.9" y="132.7" width="5.5" height="5.5" fill="#ffebeb"/>
<rect x="198.9" y="132.7" width="5.5" height="5.5" fill="#fffbfb"/>
<rect x="203.9" y="132.7" width="10.5" height="5.5" fill="#f3f3ff"/>
<rect x="213.9" y="132.7" width="5.5" height="5.5" fill="#efefff"/>
<rect x="218.9" y="132.7" width="5.5" height="5.5" fill="#ebebff"/>
<rect x="223.9" y="132.7" width="5.5" height="5.5" fill="#f3f3ff"/>
<rect x="228.9" y="132.7" width="5.5" height="5.5" fill="#f7f7ff"/>
<rect x="233.9" y="132.7" width="5.5" height="5.5" fill="#fbfbff"/>
<rect x="243.9" y="132.7" width="15.5" height="5.5" fill="#fffbfb"/>
<rect x="263.9" y="132.7" width="15.5" height="5.5" fill="#fbfbff"/>
<rect x="278.9" y="132.7" width="5.5" height="5.5" fill="#f7f7ff"/>
<rect x="283.9" y="132.7" width="5.5" height="5.5" fill="#fbfbff"/>
<rect x="293.9" y="132.7" width="5.5" height="5.5" fill="#fffbfb"/>
<rect x="298.9" y="132.7" width="15.5" height="5.5" fill="#fff7f7"/>
<rect x="313.9" y="132.7" width="10.5" height="5.5" fill="#fffbfb"/>
<rect x="328.9" y="132.7" width="95.5" height="5.5" fill="#fbfbff"/>
<rect x="38.9" y="137.7" width="10.5" height="5.5" fill="#fbfbff"/>
<rect x="53.9" y="137.7" width="5.5" height="5.5" fill="#f3f3ff"/>
<rect x="58.9" y="137.7" width="5.5" height="5.5" fill="#ebebff"/>
<rect x="63.9" y="137.7" width="5.5" height="5.5" fill="#e7e7ff"/>
<rect x="68.9" y="137.7" width="5.5" height="5.5" fill="#e3e3ff"/>
<rect x="73.9" y="137.7" width="10.5" height="5.5" fill="#e7e7ff"/>
<rect x="88.9" y="137.7" width="5.5" height="5.5" fill="#ffe3e3"/>
<rect x="93.9" y="137.7" width="5.5" height="5.5" fill="#ffc7c7"/>
<rect x="98.9" y="137.7" width="5.5" height="5.5" fill="#ffabab"/>
<rect x="103.9" y="137.7" width="5.5" height="5.5" fill="#ff8f8f"/>
<rect x="108.9" y="137.7" width="5.5" height="5.5" fill="#ff8787"/>
<rect x="113.9" y="137.7" width="5.5" height="5.5" fill="#ff9b9b"/>
<rect x="118.9" y="137.7" width="5.5" height="5.5" fill="#ffafaf"/>
<rect x="123.9" y="137.7" width="5.5" height="5.5" fill="#ffbfbf"/>
<rect x="128.9" y="137.7" width="5.5" height="5.5" fill="#ffc3c3"/>
<rect x="133.9" y="137.7" width="5.5" height="5.5" fill="#ffbbbb"/>
<rect x="138.9" y="137.7" width="5.5" height="5.5" fill="#ffb7b7"/>
<rect x="143.9" y="137.7" width="5.5" height="5.5" fill="#ffb3b3"/>
<rect x="148.9" y="137.7" width="10.5" height="5.5" fill="#ffb7b7"/>
<rect x="158.9" y="137.7" width="10.5" height="5.5" fill="#ffbbbb"/>
<rect x="168.9" y="137.7" width="5.5" height="5.5" fill="#ffbfbf"/>
<rect x="173.9" y="137.7" width="5.5" height="5.5" fill="#ffc3c3"/>
<rect x="178.9" y="137.7" width="5.5" height="5.5" fill="#ffcbcb"/>
<rect x="183.9" y="137.7" width="5.5" height="5.5" fill="#ffd3d3"/>
<rect x="188.9" y="137.7" width="5.5" height="5.5" fill="#ffdbdb"/>
<rect x="193.9" y="137.7" width="5.5" height="5.5" fill="#ffebeb"/>
<rect x="198.9" y="137.7" width="5.5" height="5.5" fill="#fff7f7"/>
<rect x="203.9" y="137.7" width="5.5" height="5.5" fill="#f7f7ff"/>
<rect x="208.9" y="137.7" width="5.5" height="5.5" fill="#f3f3ff"/>
<rect x="213.9" y="137.7" width="5.5" height="5.5" fill="#efefff"/>
<rect x="218.9" y="137.7" width="5.5" height="5.5" fill="#ebebff"/>
<rect x="223.9" y="137.7" width="5.5" height="5.5" fill="#f3f3ff"/>
<rect x="228.9" y="137.7" width="5.5" height="5.5" fill="#f7f7ff"/>
<rect x="243.9" y="137.7" width="15.5" height="5.5" fill="#fffbfb"/>
<rect x="263.9" y="137.7" width="15.5" height="5.5" fill="#fbfbff"/>
<rect x="278.9" y="137.7" width="5.5" height="5.5" fill="#f7f7ff"/>
<rect x="283.9" y="137.7" width="5.5" height="5.5" fill="#fbfbff"/>
<rect x="293.9" y="137.7" width="25.5" height="5.5" fill="#fffbfb"/>
<rect x="328.9" y="137.7" width="95.5" height="5.5" fill="#fbfbff"/>
<rect x="38.9" y="142.7" width="10.5" height="5.5" fill="#fff7f7"/>
<rect x="48.9" y="142.7" width="5.5" height="5.5" fill="#ffefef"/>
<rect x="53.9" y="142.7" width="5.5" height="5.5" fill="#f3f3ff"/>
<rect x="58.9" y="142.7" width="5.5" height="5.5" fill="#e7e7ff"/>
<rect x="63.9" y="142.7" width="5.5" height="5.5" fill="#dbdbff"/>
<rect x="68.9" y="142.7" width="5.5" height="5.5" fill="#d3d3ff"/>
<rect x="73.9" y="142.7" width="5.5" height="5.5" fill="#cfcfff"/>
<rect x="78.9" y="142.7" width="5.5" height="5.5" fill="#cbcbff"/>
<rect x="83.9" y="142.7" width="5.5" height="5.5" fill="#dbdbff"/>
<rect x="88.9" y="142.7" width="5.5" height="5.5" fill="#f3f3ff"/>
<rect x="93.9" y="142.7" width="5.5" height="5.5" fill="#fff3f3"/>
<rect x="98.9" y="142.7" width="5.5" height="5.5" fill="#ffcfcf"/>
<rect x="103.9" y="142.7" width="5.5" height="5.5" fill="#ff9f9f"/>
<rect x="108.9" y="142.7" width="5.5" height="5.5" fill="#ff7878"/>
<rect x="113.9" y="142.7" width="5.5" height="5.5" fill="#ff8787"/>
<rect x="118.9" y="142.7" width="5.5" height="5.5" fill="#ffabab"/>
<rect x="123.9" y="142.7" width="5.5" height="5.5" fill="#ffbfbf"/>
<rect x="128.9" y="142.7" width="5.5" height="5.5" fill="#ffc7c7"/>
<rect x="133.9" y="142.7" width="5.5" height="5.5" fill="#ffbfbf"/>
<rect x="138.9" y="142.7" width="20.5" height="5.5" fill="#ffb7b7"/>
<rect x="158.9" y="142.7" width="10.5" height="5.5" fill="#ffbbbb"/>
<rect x="168.9" y="142.7" width="5.5" height="5.5" fill="#ffbfbf"/>
<rect x="173.9" y="142.7" width="5.5" height="5.5" fill="#ffc3c3"/>
<rect x="178.9" y="142.7" width="5.5" height="5.5" fill="#ffcbcb"/>
<rect x="183.9" y="142.7" width="5.5" height="5.5" fill="#ffd3d3"/>
<rect x="188.9" y="142.7" width="5.5" height="5.5" fill="#ffdbdb"/>
<rect x="193.9" y="142.7" width="5.5" height="5.5" fill="#ffe7e7"/>
<rect x="198.9" y="142.7" width="5.5" height="5.5" fill="#fff7f7"/>
<rect x="203.9" y="142.7" width="5.5" height="5.5" fill="#fbfbff"/>
<rect x="208.9" y="142.7" width="5.5" height="5.5" fill="#f7f7ff"/>
<rect x="213.9" y="142.7" width="5.5" height="5.5" fill="#efefff"/>
<rect x="218.9" y="142.7" width="5.5" height="5.5" fill="#ebebff"/>
<rect x="223.9" y="142.7" width="5.5" height="5.5" fill="#f3f3ff"/>
<rect x="228.9" y="142.7" width="5.5" height="5.5" fill="#f7f7ff"/>
<rect x="233.9" y="142.7" width="5.5" height="5.5" fill="#fbfbff"/>
<rect x="248.9" y="142.7" width="10.5" height="5.5" fill="#fffbfb"/>
<rect x="263.9" y="142.7" width="15.5" height="5.5" fill="#fbfbff"/>
<rect x="278.9" y="142.7" width="5.5" height="5.5" fill="#f7f7ff"/>
<rect x="283.9" y="142.7" width="5.5" height="5.5" fill="#fbfbff"/>
<rect x="293.9" y="142.7" width="25.5" height="5.5" fill="#fffbfb"/>
<rect x="323.9" y="142.7" width="100.5" height="5.5" fill="#fbfbff"/>
<rect x="38.9" y="147.7" width="10.5" height="5.5" fill="#ffebeb"/>
<rect x="48.9" y="147.7" width="5.5" height="5.5" fill="#ffd7d7"/>
<rect x="53.9" y="147.7" width="5.5" height="5.5" fill="#f7f7ff"/>
<rect x="58.9" y="147.7" width="5.5" height="5.5" fill="#dfdfff"/>
<rect x="63.9" y="147.7" width="5.5" height="5.5" fill="#cbcbff"/>
<rect x="68.9" y="147.7" width="5.5" height="5.5" fill="#bfbfff"/>
<rect x="73.9" y="147.7" width="5.5" height="5.5" fill="#afafff"/>
<rect x="78.9" y="147.7" width="5.5" height="5.5" fill="#a7a7ff"/>
<rect x="83.9" y="147.7" width="5.5" height="5.5" fill="#afafff"/>
<rect x="88.9" y="147.7" width="5.5" height="5.5" fill="#c3c3ff"/>
<rect x="93.9" y="147.7" width="5.5" height="5.5" fill="#d3d3ff"/>
<rect x="103.9" y="147.7" width="5.5" height="5.5" fill="#ffbbbb"/>
<rect x="108.9" y="147.7" width="10.5" height="5.5" fill="#ff6c6c"/>
<rect x="118.9" y="147.7" width="5.5" height="5.5" fill="#ff9f9f"/>
<rect x="123.9" y="147.7" width="5.5" height="5.5" fill="#ffbfbf"/>
<rect x="128.9" y="147.7" width="5.5" height="5.5" fill="#ffc7c7"/>
<rect x="133.9" y="147.7" width="5.5" height="5.5" fill="#ffc3c3"/>
<rect x="138.9" y="147.7" width="5.5" height="5.5" fill="#ffbbbb"/>
<rect x="143.9" y="147.7" width="15.5" height="5.5" fill="#ffb7b7"/>
<rect x="158.9" y="147.7" width="10.5" height="5.5" fill="#ffbbbb"/>
<rect x="168.9" y="147.7" width="5.5" height="5.5" fill="#ffbfbf"/>
<rect x="173.9" y="147.7" width="5.5" height="5.5" fill="#ffc3c3"/>
<rect x="178.9" y="147.7" width="5.5" height="5.5" fill="#ffcbcb"/>
<rect x="183.9" y="147.7" width="5.5" height="5.5" fill="#ffd3d3"/>
<rect x="188.9" y="147.7" width="5.5" height="5.5" fill="#ffdbdb"/>
<rect x="193.9" y="147.7" width="5.5" height="5.5" fill="#ffe7e7"/>
<rect x="198.9" y="147.7" width="5.5" height="5.5" fill="#fff3f3"/>
<rect x="208.9" y="147.7" width="5.5" height="5.5" fill="#f7f7ff"/>
<rect x="213.9" y="147.7" width="5.5" height="5.5" fill="#f3f3ff"/>
<rect x="218.9" y="147.7" width="5.5" height="5.5" fill="#ebebff"/>
<rect x="223.9" y="147.7" width="5.5" height="5.5" fill="#efefff"/>
<rect x="228.9" y="147.7" width="5.5" height="5.5" fill="#f3f3ff"/>
<rect x="233.9" y="147.7" width="10.5" height="5.5" fill="#fbfbff"/>
<rect x="248.9" y="147.7" width="5.5" height="5.5" fill="#fffbfb"/>
<rect x="263.9" y="147.7" width="15.5" height="5.5" fill="#fbfbff"/>
<rect x="278.9" y="147.7" width="5.5" height="5.5" fill="#f7f7ff"/>
<rect x="283.9" y="147.7" width="5.5" height="5.5" fill="#fbfbff"/>
<rect x="293.9" y="147.7" width="15.5" height="5.5" fill="#fffbfb"/>
<rect x="323.9" y="147.7" width="100.5" height="5.5" fill="#fbfbff"/>
<rect x="38.9" y="152.7" width="10.5" height="5.5" fill="#ffebeb"/>
<rect x="48.9" y="152.7" width="5.5" height="5.5" fill="#ffcbcb"/>
<rect x="53.9" y="152.7" width="5.5" height="5.5" fill="#f3f3ff"/>
<rect x="58.9" y="152.7" width="5.5" height="5.5" fill="#d3d3ff"/>
<rect x="63.9" y="152.7" width="5.5" height="5.5" fill="#bbbbff"/>
<rect x="68.9" y="152.7" width="5.5" height="5.5" fill="#a3a3ff"/>
<rect x="73.9" y="152.7" width="5.5" height="5.5" fill="#8f8fff"/>
<rect x="78.9" y="152.7" width="10.5" height="5.5" fill="#8080ff"/>
<rect x="88.9" y="152.7" width="5.5" height="5.5" fill="#8b8bff"/>
<rect x="93.9" y="152.7" width="5.5" height="5.5" fill="#9b9bff"/>
<rect x="98.9" y="152.7" width="5.5" height="5.5" fill="#cbcbff"/>
<rect x="103.9" y="152.7" width="5.5" height="5.5" fill="#ffebeb"/>
<rect x="108.9" y="152.7" width="5.5" height="5.5" fill="#ff8f8f"/>
<rect x="113.9" y="152.7" width="5.5" height="5.5" fill="#ff6464"/>
<rect x="118.9" y="152.7" width="5.5" height="5.5" fill="#ff8787"/>
<rect x="123.9" y="152.7" width="5.5" height="5.5" fill="#ffabab"/>
<rect x="128.9" y="152.7" width="35.5" height="5.5" fill="#ffbbbb"/>
<rect x="163.9" y="152.7" width="10.5" height="5.5" fill="#ffbfbf"/>
<rect x="173.9" y="152.7" width="5.5" height="5.5" fill="#ffc3c3"/>
<rect x="178.9" y="152.7" width="5.5" height="5.5" fill="#ffcbcb"/>
<rect x="183.9" y="152.7" width="5.5" height="5.5" fill="#ffd3d3"/>
<rect x="188.9" y="152.7" width="5.5" height="5.5" fill="#ffdbdb"/>
<rect x="193.9" y="152.7" width="5.5" height="5.5" fill="#ffe7e7"/>
<rect x="198.9" y="152.7" width="5.5" height="5.5" fill="#fff3f3"/>
<rect x="208.9" y="152.7" width="5.5" height="5.5" fill="#fbfbff"/>
<rect x="213.9" y="152.7" width="5.5" height="5.5" fill="#f3f3ff"/>
<rect x="218.9" y="152.7" width="5.5" height="5.5" fill="#ebebff"/>
<rect x="223.9" y="152.7" width="5.5" height="5.5" fill="#efefff"/>
<rect x="228.9" y="152.7" width="5.5" height="5.5" fill="#f3f3ff"/>
<rect x="233.9" y="152.7" width="5.5" height="5.5" fill="#f7f7ff"/>
<rect x="238.9" y="152.7" width="10.5" height="5.5" fill="#fbfbff"/>
<rect x="258.9" y="152.7" width="20.5" height="5.5" fill="#fbfbff"/>
<rect x="278.9" y="152.7" width="5.5" height="5.5" fill="#f7f7ff"/>
<rect x="283.9" y="152.7" width="5.5" height="5.5" fill="#fbfbff"/>
<rect x="318.9" y="152.7" width="105.5" height="5.5" fill="#fbfbff"/>
<rect x="38.9" y="157.7" width="10.5" height="5.5" fill="#ffefef"/>
<rect x="48.9" y="157.7" width="5.5" height="5.5" fill="#ffc3c3"/>
<rect x="53.9" y="157.7" width="5.5" height="5.5" fill="#e7e7ff"/>
<rect x="58.9" y="157.7" width="5.5" height="5.5" fill="#c7c7ff"/>
<rect x="63.9" y="157.7" width="5.5" height="5.5" fill="#ababff"/>
<rect x="68.9" y="157.7" width="5.5" height="5.5" fill="#9393ff"/>
<rect x="73.9" y="157.7" width="5.5" height="5.5" fill="#7c7cff"/>
<rect x="78.9" y="157.7" width="5.5" height="5.5" fill="#6464ff"/>
<rect x="83.9" y="157.7" width="5.5" height="5.5" fill="#5c5cff"/>
<rect x="88.9" y="157.7" width="5.5" height="5.5" fill="#6060ff"/>
<rect x="93.9" y="157.7" width="5.5" height="5.5" fill="#6868ff"/>
<rect x="98.9" y="157.7" width="5.5" height="5.5" fill="#9b9bff"/>
<rect x="103.9" y="157.7" width="5.5" height="5.5" fill="#dfdfff"/>
<rect x="108.9" y="157.7" width="5.5" height="5.5" fill="#ffc7c7"/>
<rect x="113.9" y="157.7" width="5.5" height="5.5" fill="#ff7878"/>
<rect x="118.9" y="157.7" width="5.5" height="5.5" fill="#ff6868"/>
<rect x="123.9" y="157.7" width="5.5" height="5.5" fill="#ff8b8b"/>
<rect x="128.9" y="157.7" width="5.5" height="5.5" fill="#ffa3a3"/>
<rect x="133.9" y="157.7" width="5.5" height="5.5" fill="#ffafaf"/>
<rect x="138.9" y="157.7" width="5.5" height="5.5" fill="#ffb7b7"/>
<rect x="143.9" y="157.7" width="15.5" height="5.5" fill="#ffbbbb"/>
<rect x="158.9" y="157.7" width="5.5" height="5.5" fill="#ffbfbf"/>
<rect x="163.9" y="157.7" width="5.5" height="5.5" fill="#ffc3c3"/>
<rect x="168.9" y="157.7" width="5.5" height="5.5" fill="#ffc7c7"/>
<rect x="173.9" y="157.7" width="5.5" height="5.5" fill="#ffcbcb"/>
<rect x="178.9" y="157.7" width="5.5" height="5.5" fill="#ffcfcf"/>
<rect x="183.9" y="157.7" width="5.5" height="5.5" fill="#ffd7d7"/>
<rect x="188.9" y="157.7" width="5.5" height="5.5" fill="#ffdfdf"/>
<rect x="193.9" y="157.7" width="5.5" height="5.5" fill="#ffe7e7"/>
<rect x="198.9" y="157.7" width="5.5" height="5.5" fill="#fff3f3"/>
<rect x="203.9" y="157.7" width="5.5" height="5.5" fill="#fffbfb"/>
<rect x="208.9" y="157.7" width="5.5" height="5.5" fill="#fbfbff"/>
<rect x="213.9" y="157.7" width="5.5" height="5.5" fill="#f3f3ff"/>
<rect x="218.9" y="157.7" width="5.5" height="5.5" fill="#ebebff"/>
<rect x="223.9" y="157.7" width="5.5" height="5.5" fill="#efefff"/>
<rect x="228.9" y="157.7" width="10.5" height="5.5" fill="#f3f3ff"/>
<rect x="238.9" y="157.7" width="10.5" height="5.5" fill="#f7f7ff"/>
<rect x="248.9" y="157.7" width="30.5" height="5.5" fill="#fbfbff"/>
<rect x="278.9" y="157.7" width="5.5" height="5.5" fill="#f7f7ff"/>
<rect x="283.9" y="157.7" width="10.5" height="5.5" fill="#fbfbff"/>
<rect x="313.9" y="157.7" width="110.5" height="5.5" fill="#fbfbff"/>
<rect x="38.9" y="162.7" width="10.5" height="5.5" fill="#fff7f7"/>
<rect x="48.9" y="162.7" width="5.5" height="5.5" fill="#ffcbcb"/>
<rect x="53.9" y="162.7" width="5.5" height="5.5" fill="#dfdfff"/>
<rect x="58.9" y="162.7" width="5.5" height="5.5" fill="#bbbbff"/>
<rect x="63.9" y="162.7" width="5.5" height="5.5" fill="#a3a3ff"/>
<rect x="68.9" y="162.7" width="5.5" height="5.5" fill="#8b8bff"/>
<rect x="73.9" y="162.7" width="5.5" height="5.5" fill="#7474ff"/>
<rect x="78.9" y="162.7" width="5.5" height="5.5" fill="#5c5cff"/>
<rect x="83.9" y="162.7" width="5.5" height="5.5" fill="#5050ff"/>
<rect x="88.9" y="162.7" width="5.5" height="5.5" fill="#4848ff"/>
<rect x="93.9" y="162.7" width="5.5" height="5.5" fill="#4c4cff"/>
<rect x="98.9" y="162.7" width="5.5" height="5.5" fill="#7878ff"/>
<rect x="103.9" y="162.7" width="5.5" height="5.5" fill="#b3b3ff"/>
<rect x="113.9" y="162.7" width="5.5" height="5.5" fill="#ffa7a7"/>
<rect x="118.9" y="162.7" width="10.5" height="5.5" fill="#ff5c5c"/>
<rect x="128.9" y="162.7" width="5.5" height="5.5" fill="#ff8787"/>
<rect x="133.9" y="162.7" width="5.5" height="5.5" fill="#ffa3a3"/>
<rect x="138.9" y="162.7" width="5.5" height="5.5" fill="#ffb7b7"/>
<rect x="143.9" y="162.7" width="15.5" height="5.5" fill="#ffbfbf"/>
<rect x="158.9" y="162.7" width="5.5" height="5.5" fill="#ffc3c3"/>
<rect x="163.9" y="162.7" width="5.5" height="5.5" fill="#ffc7c7"/>
<rect x="168.9" y="162.7" width="5.5" height="5.5" fill="#ffcbcb"/>
<rect x="173.9" y="162.7" width="5.5" height="5.5" fill="#ffcfcf"/>
<rect x="178.9" y="162.7" width="5.5" height="5.5" fill="#ffd3d3"/>
<rect x="183.9" y="162.7" width="5.5" height="5.5" fill="#ffdbdb"/>
<rect x="188.9" y="162.7" width="5.5" height="5.5" fill="#ffe3e3"/>
<rect x="193.9" y="162.7" width="5.5" height="5.5" fill="#ffebeb"/>
<rect x="198.9" y="162.7" width="5.5" height="5.5" fill="#fff3f3"/>
<rect x="203.9" y="162.7" width="5.5" height="5.5" fill="#fffbfb"/>
<rect x="208.9" y="162.7" width="5.5" height="5.5" fill="#fbfbff"/>
<rect x="213.9" y="162.7" width="5.5" height="5.5" fill="#f3f3ff"/>
<rect x="218.9" y="162.7" width="5.5" height="5.5" fill="#ebebff"/>
<rect x="223.9" y="162.7" width="10.5" height="5.5" fill="#efefff"/>
<rect x="233.9" y="162.7" width="10.5" height="5.5" fill="#f3f3ff"/>
<rect x="243.9" y="162.7" width="40.5" height="5.5" fill="#f7f7ff"/>
<rect x="283.9" y="162.7" width="10.5" height="5.5" fill="#fbfbff"/>
<rect x="308.9" y="162.7" width="115.5" height="5.5" fill="#fbfbff"/>
<rect x="38.9" y="167.7" width="10.5" height="5.5" fill="#fbfbff"/>
<rect x="48.9" y="167.7" width="5.5" height="5.5" fill="#ffdfdf"/>
<rect x="53.9" y="167.7" width="5.5" height="5.5" fill="#dbdbff"/>
<rect x="58.9" y="167.7" width="5.5" height="5.5" fill="#bfbfff"/>
<rect x="63.9" y="167.7" width="5.5" height="5.5" fill="#a7a7ff"/>
<rect x="68.9" y="167.7" width="5.5" height="5.5" fill="#9393ff"/>
<rect x="73.9" y="167.7" width="5.5" height="5.5" fill="#7c7cff"/>
<rect x="78.9" y="167.7" width="5.5" height="5.5" fill="#6868ff"/>
<rect x="83.9" y="167.7" width="5.5" height="5.5" fill="#5c5cff"/>
<rect x="88.9" y="167.7" width="5.5" height="5.5" fill="#5454ff"/>
<rect x="93.9" y="167.7" width="5.5" height="5.5" fill="#4c4cff"/>
<rect x="98.9" y="167.7" width="5.5" height="5.5" fill="#6868ff"/>
<rect x="103.9" y="167.7" width="5.5" height="5.5" fill="#9393ff"/>
<rect x="108.9" y="167.7" width="5.5" height="5.5" fill="#c7c7ff"/>
<rect x="113.9" y="167.7" width="5.5" height="5.5" fill="#ffebeb"/>
<rect x="118.9" y="167.7" width="5.5" height="5.5" fill="#ff8080"/>
<rect x="123.9" y="167.7" width="5.5" height="5.5" fill="#ff4444"/>
<rect x="128.9" y="167.7" width="5.5" height="5.5" fill="#ff7474"/>
<rect x="133.9" y="167.7" width="5.5" height="5.5" fill="#ffa3a3"/>
<rect x="138.9" y="167.7" width="5.5" height="5.5" fill="#ffbbbb"/>
<rect x="143.9" y="167.7" width="15.5" height="5.5" fill="#ffc3c3"/>
<rect x="158.9" y="167.7" width="5.5" height="5.5" fill="#ffc7c7"/>
<rect x="163.9" y="167.7" width="5.5" height="5.5" fill="#ffcbcb"/>
<rect x="168.9" y="167.7" width="5.5" height="5.5" fill="#ffcfcf"/>
<rect x="173.9" y="167.7" width="5.5" height="5.5" fill="#ffd7d7"/>
<rect x="178.9" y="167.7" width="5.5" height="5.5" fill="#ffdbdb"/>
<rect x="183.9" y="167.7" width="5.5" height="5.5" fill="#ffdfdf"/>
<rect x="188.9" y="167.7" width="5.5" height="5.5" fill="#ffe7e7"/>
<rect x="193.9" y="167.7" width="5.5" height="5.5" fill="#ffebeb"/>
<rect x="198.9" y="167.7" width="5.5" height="5.5" fill="#fff3f3"/>
<rect x="203.9" y="167.7" width="5.5" height="5.5" fill="#fffbfb"/>
<rect x="208.9" y="167.7" width="5.5" height="5.5" fill="#fbfbff"/>
<rect x="213.9" y="167.7" width="5.5" height="5.5" fill="#f3f3ff"/>
<rect x="218.9" y="167.7" width="10.5" height="5.5" fill="#ebebff"/>
<rect x="228.9" y="167.7" width="10.5" height="5.5" fill="#efefff"/>
<rect x="238.9" y="167.7" width="10.5" height="5.5" fill="#f3f3ff"/>
<rect x="248.9" y="167.7" width="35.5" height="5.5" fill="#f7f7ff"/>
<rect x="283.9" y="167.7" width="10.5" height="5.5" fill="#fbfbff"/>
<rect x="308.9" y="167.7" width="115.5" height="5.5" fill="#fbfbff"/>
<rect x="38.9" y="172.7" width="10.5" height="5.5" fill="#ebebff"/>
<rect x="53.9" y="172.7" width="5.5" height="5.5" fill="#d3d3ff"/>
<rect x="58.9" y="172.7" width="5.5" height="5.5" fill="#bbbbff"/>
<rect x="63.9" y="172.7" width="5.5" height="5.5" fill="#a7a7ff"/>
<rect x="68.9" y="172.7" width="5.5" height="5.5" fill="#9393ff"/>
<rect x="73.9" y="172.7" width="5.5" height="5.5" fill="#7c7cff"/>
<rect x="78.9" y="172.7" width="5.5" height="5.5" fill="#6464ff"/>
<rect x="83.9" y="172.7" width="5.5" height="5.5" fill="#5858ff"/>
<rect x="88.9" y="172.7" width="5.5" height="5.5" fill="#4c4cff"/>
<rect x="93.9" y="172.7" width="5.5" height="5.5" fill="#4444ff"/>
<rect x="98.9" y="172.7" width="5.5" height="5.5" fill="#5454ff"/>
<rect x="103.9" y="172.7" width="5.5" height="5.5" fill="#7070ff"/>
<rect x="108.9" y="172.7" width="5.5" height="5.5" fill="#9393ff"/>
<rect x="113.9" y="172.7" width="5.5" height="5.5" fill="#d3d3ff"/>
<rect x="118.9" y="172.7" width="5.5" height="5.5" fill="#ffbbbb"/>
<rect x="123.9" y="172.7" width="5.5" height="5.5" fill="#ff4040"/>
<rect x="128.9" y="172.7" width="5.5" height="5.5" fill="#ff5050"/>
<rect x="133.9" y="172.7" width="5.5" height="5.5" fill="#ff9f9f"/>
<rect x="138.9" y="172.7" width="5.5" height="5.5" fill="#ffbbbb"/>
<rect x="143.9" y="172.7" width="15.5" height="5.5" fill="#ffc7c7"/>
<rect x="158.9" y="172.7" width="5.5" height="5.5" fill="#ffcbcb"/>
<rect x="163.9" y="172.7" width="5.5" height="5.5" fill="#ffd3d3"/>
<rect x="168.9" y="172.7" width="5.5" height="5.5" fill="#ffd7d7"/>
<rect x="173.9" y="172.7" width="5.5" height="5.5" fill="#ffdfdf"/>
<rect x="178.9" y="172.7" width="5.5" height="5.5" fill="#ffe3e3"/>
<rect x="183.9" y="172.7" width="5.5" height="5.5" fill="#ffe7e7"/>
<rect x="188.9" y="172.7" width="5.5" height="5.5" fill="#ffebeb"/>
<rect x="193.9" y="172.7" width="5.5" height="5.5" fill="#ffefef"/>
<rect x="198.9" y="172.7" width="5.5" height="5.5" fill="#fff3f3"/>
<rect x="203.9" y="172.7" width="5.5" height="5.5" fill="#fffbfb"/>
<rect x="208.9" y="172.7" width="5.5" height="5.5" fill="#fbfbff"/>
<rect x="213.9" y="172.7" width="5.5" height="5.5" fill="#f3f3ff"/>
<rect x="218.9" y="172.7" width="20.5" height="5.5" fill="#ebebff"/>
<rect x="238.9" y="172.7" width="10.5" height="5.5" fill="#efefff"/>
<rect x="248.9" y="172.7" width="10.5" height="5.5" fill="#f3f3ff"/>
<rect x="258.9" y="172.7" width="25.5" height="5.5" fill="#f7f7ff"/>
<rect x="283.9" y="172.7" width="10.5" height="5.5" fill="#fbfbff"/>
<rect x="308.9" y="172.7" width="115.5" height="5.5" fill="#fbfbff"/>
<rect x="38.9" y="177.7" width="10.5" height="5.5" fill="#dfdfff"/>
<rect x="48.9" y="177.7" width="5.5" height="5.5" fill="#e7e7ff"/>
<rect x="53.9" y="177.7" width="5.5" height="5.5" fill="#cfcfff"/>
<rect x="58.9" y="177.7" width="5.5" height="5.5" fill="#c7c7ff"/>
<rect x="63.9" y="177.7" width="5.5" height="5.5" fill="#bbbbff"/>
<rect x="68.9" y="177.7" width="5.5" height="5.5" fill="#a3a3ff"/>
<rect x="73.9" y="177.7" width="5.5" height="5.5" fill="#8b8bff"/>
<rect x="78.9" y="177.7" width="5.5" height="5.5" fill="#7070ff"/>
<rect x="83.9" y="177.7" width="5.5" height="5.5" fill="#5858ff"/>
<rect x="88.9" y="177.7" width="5.5" height="5.5" fill="#4444ff"/>
<rect x="93.9" y="177.7" width="5.5" height="5.5" fill="#3030ff"/>
<rect x="98.9" y="177.7" width="5.5" height="5.5" fill="#2828ff"/>
<rect x="103.9" y="177.7" width="5.5" height="5.5" fill="#3030ff"/>
<rect x="108.9" y="177.7" width="5.5" height="5.5" fill="#5454ff"/>
<rect x="113.9" y="177.7" width="5.5" height="5.5" fill="#9393ff"/>
<rect x="118.9" y="177.7" width="5.5" height="5.5" fill="#f3f3ff"/>
<rect x="123.9" y="177.7" width="5.5" height="5.5" fill="#ff7474"/>
<rect x="128.9" y="177.7" width="5.5" height="5.5" fill="#ff4040"/>
<rect x="133.9" y="177.7" width="5.5" height="5.5" fill="#ff9b9b"/>
<rect x="138.9" y="177.7" width="5.5" height="5.5" fill="#ffcfcf"/>
<rect x="143.9" y="177.7" width="10.5" height="5.5" fill="#ffdbdb"/>
<rect x="153.9" y="177.7" width="5.5" height="5.5" fill="#ffd7d7"/>
<rect x="158.9" y="177.7" width="10.5" height="5.5" fill="#ffdbdb"/>
<rect x="168.9" y="177.7" width="10.5" height="5.5" fill="#ffdfdf"/>
<rect x="178.9" y="177.7" width="5.5" height="5.5" fill="#ffe3e3"/>
<rect x="183.9" y="177.7" width="5.5" height="5.5" fill="#ffe7e7"/>
<rect x="188.9" y="177.7" width="5.5" height="5.5" fill="#ffebeb"/>
<rect x="193.9" y="177.7" width="5.5" height="5.5" fill="#ffefef"/>
<rect x="198.9" y="177.7" width="5.5" height="5.5" fill="#fff3f3"/>
<rect x="203.9" y="177.7" width="5.5" height="5.5" fill="#fff7f7"/>
<rect x="213.9" y="177.7" width="5.5" height="5.5" fill="#f7f7ff"/>
<rect x="218.9" y="177.7" width="25.5" height="5.5" fill="#ebebff"/>
<rect x="243.9" y="177.7" width="5.5" height="5.5" fill="#efefff"/>
<rect x="248.9" y="177.7" width="10.5" height="5.5" fill="#f3f3ff"/>
<rect x="258.9" y="177.7" width="25.5" height="5.5" fill="#f7f7ff"/>
<rect x="283.9" y="177.7" width="5.5" height="5.5" fill="#fbfbff"/>
<rect x="298.9" y="177.7" width="5.5" height="5.5" fill="#fffbfb"/>
<rect x="318.9" y="177.7" width="105.5" height="5.5" fill="#fbfbff"/>
<rect x="38.9" y="182.7" width="10.5" height="5.5" fill="#dbdbff"/>
<rect x="48.9" y="182.7" width="5.5" height="5.5" fill="#d3d3ff"/>
<rect x="53.9" y="182.7" width="5.5" height="5.5" fill="#cfcfff"/>
<rect x="58.9" y="182.7" width="5.5" height="5.5" fill="#d7d7ff"/>
<rect x="63.9" y="182.7" width="5.5" height="5.5" fill="#d3d3ff"/>
<rect x="68.9" y="182.7" width="5.5" height="5.5" fill="#bfbfff"/>
<rect x="73.9" y="182.7" width="5.5" height="5.5" fill="#a7a7ff"/>
<rect x="78.9" y="182.7" width="5.5" height="5.5" fill="#9393ff"/>
<rect x="83.9" y="182.7" width="5.5" height="5.5" fill="#7474ff"/>
<rect x="88.9" y="182.7" width="5.5" height="5.5" fill="#5454ff"/>
<rect x="93.9" y="182.7" width="5.5" height="5.5" fill="#2c2cff"/>
<rect x="98.9" y="182.7" width="15.5" height="5.5" fill="#0000ff"/>
<rect x="113.9" y="182.7" width="5.5" height="5.5" fill="#4040ff"/>
<rect x="118.9" y="182.7" width="5.5" height="5.5" fill="#9b9bff"/>
<rect x="123.9" y="182.7" width="5.5" height="5.5" fill="#ffd7d7"/>
<rect x="128.9" y="182.7" width="5.5" height="5.5" fill="#ff6464"/>
<rect x="133.9" y="182.7" width="5.5" height="5.5" fill="#ff9f9f"/>
<rect x="138.9" y="182.7" width="5.5" height="5.5" fill="#ffebeb"/>
<rect x="143.9" y="182.7" width="5.5" height="5.5" fill="#fffbfb"/>
<rect x="148.9" y="182.7" width="5.5" height="5.5" fill="#fff7f7"/>
<rect x="153.9" y="182.7" width="5.5" height="5.5" fill="#fff3f3"/>
<rect x="158.9" y="182.7" width="5.5" height="5.5" fill="#ffebeb"/>
<rect x="163.9" y="182.7" width="5.5" height="5.5" fill="#ffe7e7"/>
<rect x="168.9" y="182.7" width="5.5" height="5.5" fill="#ffe3e3"/>
<rect x="173.9" y="182.7" width="5.5" height="5.5" fill="#ffdfdf"/>
<rect x="178.9" y="182.7" width="5.5" height="5.5" fill="#ffe3e3"/>
<rect x="183.9" y="182.7" width="5.5" height="5.5" fill="#ffe7e7"/>
<rect x="188.9" y="182.7" width="5.5" height="5.5" fill="#ffebeb"/>
<rect x="193.9" y="182.7" width="10.5" height="5.5" fill="#ffefef"/>
<rect x="203.9" y="182.7" width="5.5" height="5.5" fill="#fff7f7"/>
<rect x="213.9" y="182.7" width="5.5" height="5.5" fill="#f3f3ff"/>
<rect x="218.9" y="182.7" width="5.5" height="5.5" fill="#ebebff"/>
<rect x="223.9" y="182.7" width="10.5" height="5.5" fill="#e7e7ff"/>
<rect x="233.9" y="182.7" width="5.5" height="5.5" fill="#e3e3ff"/>
<rect x="238.9" y="182.7" width="5.5" height="5.5" fill="#e7e7ff"/>
<rect x="243.9" y="182.7" width="5.5" height="5.5" fill="#ebebff"/>
<rect x="248.9" y="182.7" width="10.5" height="5.5" fill="#efefff"/>
<rect x="258.9" y="182.7" width="5.5" height="5.5" fill="#f3f3ff"/>
<rect x="263.9" y="182.7" width="20.5" height="5.5" fill="#f7f7ff"/>
<rect x="283.9" y="182.7" width="5.5" height="5.5" fill="#fbfbff"/>
<rect x="293.9" y="182.7" width="5.5" height="5.5" fill="#fffbfb"/>
<rect x="298.9" y="182.7" width="5.5" height="5.5" fill="#fff7f7"/>
<rect x="303.9" y="182.7" width="10.5" height="5.5" fill="#fffbfb"/>
<rect x="323.9" y="182.7" width="100.5" height="5.5" fill="#fbfbff"/>
<rect x="38.9" y="187.7" width="10.5" height="5.5" fill="#d7d7ff"/>
<rect x="48.9" y="187.7" width="5.5" height="5.5" fill="#c7c7ff"/>
<rect x="53.9" y="187.7" width="5.5" height="5.5" fill="#d3d3ff"/>
<rect x="58.9" y="187.7" width="10.5" height="5.5" fill="#e7e7ff"/>
<rect x="68.9" y="187.7" width="5.5" height="5.5" fill="#cfcfff"/>
<rect x="73.9" y="187.7" width="5.5" height="5.5" fill="#b7b7ff"/>
<rect x="78.9" y="187.7" width="5.5" height="5.5" fill="#b3b3ff"/>
<rect x="83.9" y="187.7" width="5.5" height="5.5" fill="#9b9bff"/>
<rect x="88.9" y="187.7" width="5.5" height="5.5" fill="#8080ff"/>
<rect x="93.9" y="187.7" width="5.5" height="5.5" fill="#5050ff"/>
<rect x="98.9" y="187.7" width="5.5" height="5.5" fill="#0c0cff"/>
<rect x="103.9" y="187.7" width="15.5" height="5.5" fill="#0000ff"/>
<rect x="118.9" y="187.7" width="5.5" height="5.5" fill="#4444ff"/>
<rect x="123.9" y="187.7" width="5.5" height="5.5" fill="#bbbbff"/>
<rect x="128.9" y="187.7" width="5.5" height="5.5" fill="#ffc3c3"/>
<rect x="133.9" y="187.7" width="5.5" height="5.5" fill="#ffbbbb"/>
<rect x="138.9" y="187.7" width="5.5" height="5.5" fill="#f7f7ff"/>
<rect x="143.9" y="187.7" width="5.5" height="5.5" fill="#d7d7ff"/>
<rect x="148.9" y="187.7" width="5.5" height="5.5" fill="#dfdfff"/>
<rect x="153.9" y="187.7" width="5.5" height="5.5" fill="#ebebff"/>
<rect x="158.9" y="187.7" width="5.5" height="5.5" fill="#f7f7ff"/>
<rect x="163.9" y="187.7" width="5.5" height="5.5" fill="#fff7f7"/>
<rect x="168.9" y="187.7" width="5.5" height="5.5" fill="#ffebeb"/>
<rect x="173.9" y="187.7" width="5.5" height="5.5" fill="#ffe3e3"/>
<rect x="178.9" y="187.7" width="5.5" height="5.5" fill="#ffe7e7"/>
<rect x="183.9" y="187.7" width="10.5" height="5.5" fill="#ffebeb"/>
<rect x="193.9" y="187.7" width="5.5" height="5.5" fill="#ffefef"/>
<rect x="198.9" y="187.7" width="5.5" height="5.5" fill="#fff7f7"/>
<rect x="203.9" y="187.7" width="5.5" height="5.5" fill="#fffbfb"/>
<rect x="208.9" y="187.7" width="5.5" height="5.5" fill="#f7f7ff"/>
<rect x="213.9" y="187.7" width="5.5" height="5.5" fill="#ebebff"/>
<rect x="218.9" y="187.7" width="5.5" height="5.5" fill="#dfdfff"/>
<rect x="223.9" y="187.7" width="5.5" height="5.5" fill="#dbdbff"/>
<rect x="228.9" y="187.7" width="5.5" height="5.5" fill="#d7d7ff"/>
<rect x="233.9" y="187.7" width="5.5" height="5.5" fill="#d3d3ff"/>
<rect x="238.9" y="187.7" width="5.5" height="5.5" fill="#d7d7ff"/>
<rect x="243.9" y="187.7" width="5.5" height="5.5" fill="#dbdbff"/>
<rect x="248.9" y="187.7" width="5.5" height="5.5" fill="#e3e3ff"/>
<rect x="253.9" y="187.7" width="5.5" height="5.5" fill="#e7e7ff"/>
<rect x="258.9" y="187.7" width="5.5" height="5.5" fill="#ebebff"/>
<rect x="263.9" y="187.7" width="5.5" height="5.5" fill="#efefff"/>
<rect x="268.9" y="187.7" width="15.5" height="5.5" fill="#f3f3ff"/>
<rect x="283.9" y="187.7" width="5.5" height="5.5" fill="#fbfbff"/>
<rect x="288.9" y="187.7" width="5.5" height="5.5" fill="#fffbfb"/>
<rect x="293.9" y="187.7" width="5.5" height="5.5" fill="#fff7f7"/>
<rect x="298.9" y="187.7" width="5.5" height="5.5" fill="#fff3f3"/>
<rect x="303.9" y="187.7" width="10.5" height="5.5" fill="#fff7f7"/>
<rect x="313.9" y="187.7" width="5.5" height="5.5" fill="#fffbfb"/>
<rect x="328.9" y="187.7" width="95.5" height="5.5" fill="#fbfbff"/>
<rect x="38.9" y="192.7" width="10.5" height="5.5" fill="#d7d7ff"/>
<rect x="48.9" y="192.7" width="5.5" height="5.5" fill="#cfcfff"/>
<rect x="53.9" y="192.7" width="5.5" height="5.5" fill="#dbdbff"/>
<rect x="58.9" y="192.7" width="5.5" height="5.5" fill="#efefff"/>
<rect x="63.9" y="192.7" width="5.5" height="5.5" fill="#ebebff"/>
<rect x="68.9" y="192.7" width="5.5" height="5.5" fill="#cbcbff"/>
<rect x="73.9" y="192.7" width="5.5" height="5.5" fill="#b7b7ff"/>
<rect x="78.9" y="192.7" width="5.5" height="5.5" fill="#c3c3ff"/>
<rect x="83.9" y="192.7" width="5.5" height="5.5" fill="#cfcfff"/>
<rect x="88.9" y="192.7" width="5.5" height="5.5" fill="#d3d3ff"/>
<rect x="93.9" y="192.7" width="5.5" height="5.5" fill="#b3b3ff"/>
<rect x="98.9" y="192.7" width="5.5" height="5.5" fill="#6c6cff"/>
<rect x="103.9" y="192.7" width="5.5" height="5.5" fill="#2c2cff"/>
<rect x="108.9" y="192.7" width="10.5" height="5.5" fill="#0000ff"/>
<rect x="118.9" y="192.7" width="5.5" height="5.5" fill="#0c0cff"/>
<rect x="123.9" y="192.7" width="5.5" height="5.5" fill="#5858ff"/>
<rect x="128.9" y="192.7" width="5.5" height="5.5" fill="#bbbbff"/>
<rect x="138.9" y="192.7" width="5.5" height="5.5" fill="#e3e3ff"/>
<rect x="143.9" y="192.7" width="5.5" height="5.5" fill="#cfcfff"/>
<rect x="148.9" y="192.7" width="5.5" height="5.5" fill="#d7d7ff"/>
<rect x="153.9" y="192.7" width="5.5" height="5.5" fill="#ebebff"/>
<rect x="158.9" y="192.7" width="5.5" height="5.5" fill="#fffbfb"/>
<rect x="163.9" y="192.7" width="5.5" height="5.5" fill="#ffefef"/>
<rect x="168.9" y="192.7" width="5.5" height="5.5" fill="#ffe7e7"/>
<rect x="173.9" y="192.7" width="5.5" height="5.5" fill="#ffe3e3"/>
<rect x="178.9" y="192.7" width="5.5" height="5.5" fill="#ffe7e7"/>
<rect x="183.9" y="192.7" width="5.5" height="5.5" fill="#ffefef"/>
<rect x="188.9" y="192.7" width="5.5" height="5.5" fill="#fff3f3"/>
<rect x="193.9" y="192.7" width="5.5" height="5.5" fill="#fffbfb"/>
<rect x="203.9" y="192.7" width="5.5" height="5.5" fill="#f7f7ff"/>
<rect x="208.9" y="192.7" width="5.5" height="5.5" fill="#efefff"/>
<rect x="213.9" y="192.7" width="5.5" height="5.5" fill="#e3e3ff"/>
<rect x="218.9" y="192.7" width="5.5" height="5.5" fill="#d7d7ff"/>
<rect x="223.9" y="192.7" width="10.5" height="5.5" fill="#d3d3ff"/>
<rect x="233.9" y="192.7" width="5.5" height="5.5" fill="#cfcfff"/>
<rect x="238.9" y="192.7" width="5.5" height="5.5" fill="#d3d3ff"/>
<rect x="243.9" y="192.7" width="5.5" height="5.5" fill="#dbdbff"/>
<rect x="248.9" y="192.7" width="5.5" height="5.5" fill="#dfdfff"/>
<rect x="253.9" y="192.7" width="5.5" height="5.5" fill="#e7e7ff"/>
<rect x="258.9" y="192.7" width="5.5" height="5.5" fill="#ebebff"/>
<rect x="263.9" y="192.7" width="10.5" height="5.5" fill="#f3f3ff"/>
<rect x="273.9" y="192.7" width="10.5" height="5.5" fill="#f7f7ff"/>
<rect x="288.9" y="192.7" width="5.5" height="5.5" fill="#fff7f7"/>
<rect x="293.9" y="192.7" width="10.5" height="5.5" fill="#ffebeb"/>
<rect x="303.9" y="192.7" width="5.5" height="5.5" fill="#ffefef"/>
<rect x="308.9" y="192.7" width="5.5" height="5.5" fill="#fff3f3"/>
<rect x="313.9" y="192.7" width="5.5" height="5.5" fill="#fff7f7"/>
<rect x="318.9" y="192.7" width="5.5" height="5.5" fill="#fffbfb"/>
<rect x="373.9" y="192.7" width="50.5" height="5.5" fill="#fbfbff"/>
<rect x="38.9" y="197.7" width="15.5" height="5.5" fill="#dbdbff"/>
<rect x="53.9" y="197.7" width="5.5" height="5.5" fill="#ebebff"/>
<rect x="58.9" y="197.7" width="5.5" height="5.5" fill="#fffbfb"/>
<rect x="63.9" y="197.7" width="5.5" height="5.5" fill="#f7f7ff"/>
<rect x="68.9" y="197.7" width="5.5" height="5.5" fill="#d7d7ff"/>
<rect x="73.9" y="197.7" width="5.5" height="5.5" fill="#c7c7ff"/>
<rect x="78.9" y="197.7" width="5.5" height="5.5" fill="#d3d3ff"/>
<rect x="83.9" y="197.7" width="5.5" height="5.5" fill="#efefff"/>
<rect x="88.9" y="197.7" width="5.5" height="5.5" fill="#fff3f3"/>
<rect x="93.9" y="197.7" width="5.5" height="5.5" fill="#f7f7ff"/>
<rect x="98.9" y="197.7" width="5.5" height="5.5" fill="#bbbbff"/>
<rect x="103.9" y="197.7" width="5.5" height="5.5" fill="#8383ff"/>
<rect x="108.9" y="197.7" width="5.5" height="5.5" fill="#4c4cff"/>
<rect x="113.9" y="197.7" width="5.5" height="5.5" fill="#2c2cff"/>
<rect x="118.9" y="197.7" width="5.5" height="5.5" fill="#1c1cff"/>
<rect x="123.9" y="197.7" width="5.5" height="5.5" fill="#2c2cff"/>
<rect x="128.9" y="197.7" width="5.5" height="5.5" fill="#6464ff"/>
<rect x="133.9" y="197.7" width="5.5" height="5.5" fill="#b3b3ff"/>
<rect x="138.9" y="197.7" width="5.5" height="5.5" fill="#dbdbff"/>
<rect x="143.9" y="197.7" width="5.5" height="5.5" fill="#e7e7ff"/>
<rect x="148.9" y="197.7" width="5.5" height="5.5" fill="#fbfbff"/>
<rect x="153.9" y="197.7" width="5.5" height="5.5" fill="#ffe3e3"/>
<rect x="158.9" y="197.7" width="5.5" height="5.5" fill="#ffc7c7"/>
<rect x="163.9" y="197.7" width="5.5" height="5.5" fill="#ffbfbf"/>
<rect x="168.9" y="197.7" width="5.5" height="5.5" fill="#ffc7c7"/>
<rect x="173.9" y="197.7" width="5.5" height="5.5" fill="#ffd7d7"/>
<rect x="178.9" y="197.7" width="5.5" height="5.5" fill="#ffe3e3"/>
<rect x="183.9" y="197.7" width="5.5" height="5.5" fill="#ffefef"/>
<rect x="188.9" y="197.7" width="5.5" height="5.5" fill="#fff3f3"/>
<rect x="193.9" y="197.7" width="5.5" height="5.5" fill="#fffbfb"/>
<rect x="203.9" y="197.7" width="5.5" height="5.5" fill="#fbfbff"/>
<rect x="208.9" y="197.7" width="5.5" height="5.5" fill="#f3f3ff"/>
<rect x="213.9" y="197.7" width="5.5" height="5.5" fill="#ebebff"/>
<rect x="218.9" y="197.7" width="5.5" height="5.5" fill="#e3e3ff"/>
<rect x="223.9" y="197.7" width="15.5" height="5.5" fill="#dfdfff"/>
<rect x="238.9" y="197.7" width="5.5" height="5.5" fill="#e3e3ff"/>
<rect x="243.9" y="197.7" width="5.5" height="5.5" fill="#e7e7ff"/>
<rect x="248.9" y="197.7" width="5.5" height="5.5" fill="#efefff"/>
<rect x="253.9" y="197.7" width="5.5" height="5.5" fill="#f3f3ff"/>
<rect x="258.9" y="197.7" width="5.5" height="5.5" fill="#f7f7ff"/>
<rect x="263.9" y="197.7" width="5.5" height="5.5" fill="#fbfbff"/>
<rect x="283.9" y="197.7" width="5.5" height="5.5" fill="#fff7f7"/>
<rect x="288.9" y="197.7" width="5.5" height="5.5" fill="#ffebeb"/>
<rect x="293.9" y="197.7" width="5.5" height="5.5" fill="#ffe3e3"/>
<rect x="298.9" y="197.7" width="5.5" height="5.5" fill="#ffdfdf"/>
<rect x="303.9" y="197.7" width="5.5" height="5.5" fill="#ffe3e3"/>
<rect x="308.9" y="197.7" width="5.5" height="5.5" fill="#ffe7e7"/>
<rect x="313.9" y="197.7" width="5.5" height="5.5" fill="#ffebeb"/>
<rect x="318.9" y="197.7" width="5.5" height="5.5" fill="#ffefef"/>
<rect x="323.9" y="197.7" width="5.5" height="5.5" fill="#fff3f3"/>
<rect x="328.9" y="197.7" width="15.5" height="5.5" fill="#fff7f7"/>
<rect x="343.9" y="197.7" width="10.5" height="5.5" fill="#fffbfb"/>
<rect x="368.9" y="197.7" width="55.5" height="5.5" fill="#fbfbff"/>
<rect x="38.9" y="202.7" width="15.5" height="5.5" fill="#dfdfff"/>
<rect x="53.9" y="202.7" width="5.5" height="5.5" fill="#f3f3ff"/>
<rect x="58.9" y="202.7" width="5.5" height="5.5" fill="#ffefef"/>
<rect x="68.9" y="202.7" width="5.5" height="5.5" fill="#dfdfff"/>
<rect x="73.9" y="202.7" width="5.5" height="5.5" fill="#cfcfff"/>
<rect x="78.9" y="202.7" width="5.5" height="5.5" fill="#dfdfff"/>
<rect x="83.9" y="202.7" width="5.5" height="5.5" fill="#fbfbff"/>
<rect x="88.9" y="202.7" width="5.5" height="5.5" fill="#fff3f3"/>
<rect x="93.9" y="202.7" width="5.5" height="5.5" fill="#fff7f7"/>
<rect x="98.9" y="202.7" width="5.5" height="5.5" fill="#f7f7ff"/>
<rect x="103.9" y="202.7" width="5.5" height="5.5" fill="#cfcfff"/>
<rect x="108.9" y="202.7" width="5.5" height="5.5" fill="#9393ff"/>
<rect x="113.9" y="202.7" width="5.5" height="5.5" fill="#7c7cff"/>
<rect x="118.9" y="202.7" width="5.5" height="5.5" fill="#7474ff"/>
<rect x="123.9" y="202.7" width="5.5" height="5.5" fill="#6c6cff"/>
<rect x="128.9" y="202.7" width="5.5" height="5.5" fill="#7878ff"/>
<rect x="133.9" y="202.7" width="5.5" height="5.5" fill="#a7a7ff"/>
<rect x="138.9" y="202.7" width="5.5" height="5.5" fill="#dbdbff"/>
<rect x="143.9" y="202.7" width="5.5" height="5.5" fill="#fbfbff"/>
<rect x="148.9" y="202.7" width="5.5" height="5.5" fill="#ffe7e7"/>
<rect x="153.9" y="202.7" width="5.5" height="5.5" fill="#ffbfbf"/>
<rect x="158.9" y="202.7" width="5.5" height="5.5" fill="#ff9f9f"/>
<rect x="163.9" y="202.7" width="5.5" height="5.5" fill="#ff9b9b"/>
<rect x="168.9" y="202.7" width="5.5" height="5.5" fill="#ffb3b3"/>
<rect x="173.9" y="202.7" width="5.5" height="5.5" fill="#ffd3d3"/>
<rect x="178.9" y="202.7" width="5.5" height="5.5" fill="#ffebeb"/>
<rect x="183.9" y="202.7" width="5.5" height="5.5" fill="#fffbfb"/>
<rect x="188.9" y="202.7" width="10.5" height="5.5" fill="#fbfbff"/>
<rect x="198.9" y="202.7" width="10.5" height="5.5" fill="#f7f7ff"/>
<rect x="208.9" y="202.7" width="30.5" height="5.5" fill="#f3f3ff"/>
<rect x="238.9" y="202.7" width="5.5" height="5.5" fill="#fbfbff"/>
<rect x="248.9" y="202.7" width="5.5" height="5.5" fill="#fffbfb"/>
<rect x="253.9" y="202.7" width="5.5" height="5.5" fill="#fff7f7"/>
<rect x="258.9" y="202.7" width="5.5" height="5.5" fill="#fff3f3"/>
<rect x="263.9" y="202.7" width="15.5" height="5.5" fill="#ffefef"/>
<rect x="278.9" y="202.7" width="5.5" height="5.5" fill="#fff3f3"/>
<rect x="283.9" y="202.7" width="5.5" height="5.5" fill="#ffebeb"/>
<rect x="288.9" y="202.7" width="5.5" height="5.5" fill="#ffdfdf"/>
<rect x="293.9" y="202.7" width="5.5" height="5.5" fill="#ffd3d3"/>
<rect x="298.9" y="202.7" width="10.5" height="5.5" fill="#ffcfcf"/>
<rect x="308.9" y="202.7" width="5.5" height="5.5" fill="#ffd3d3"/>
<rect x="313.9" y="202.7" width="5.5" height="5.5" fill="#ffd7d7"/>
<rect x="318.9" y="202.7" width="5.5" height="5.5" fill="#ffdbdb"/>
<rect x="323.9" y="202.7" width="5.5" height="5.5" fill="#ffe3e3"/>
<rect x="328.9" y="202.7" width="5.5" height="5.5" fill="#ffebeb"/>
<rect x="333.9" y="202.7" width="5.5" height="5.5" fill="#fff3f3"/>
<rect x="338.9" y="202.7" width="5.5" height="5.5" fill="#fff7f7"/>
<rect x="343.9" y="202.7" width="5.5" height="5.5" fill="#fffbfb"/>
<rect x="353.9" y="202.7" width="70.5" height="5.5" fill="#fbfbff"/>
<rect x="38.9" y="207.7" width="15.5" height="5.5" fill="#e3e3ff"/>
<rect x="53.9" y="207.7" width="5.5" height="5.5" fill="#f3f3ff"/>
<rect x="58.9" y="207.7" width="5.5" height="5.5" fill="#fff7f7"/>
<rect x="63.9" y="207.7" width="5.5" height="5.5" fill="#fbfbff"/>
<rect x="68.9" y="207.7" width="5.5" height="5.5" fill="#e3e3ff"/>
<rect x="73.9" y="207.7" width="5.5" height="5.5" fill="#dbdbff"/>
<rect x="78.9" y="207.7" width="5.5" height="5.5" fill="#f7f7ff"/>
<rect x="83.9" y="207.7" width="5.5" height="5.5" fill="#fff3f3"/>
<rect x="88.9" y="207.7" width="10.5" height="5.5" fill="#fff7f7"/>
<rect x="98.9" y="207.7" width="5.5" height="5.5" fill="#ffebeb"/>
<rect x="108.9" y="207.7" width="5.5" height="5.5" fill="#c7c7ff"/>
<rect x="113.9" y="207.7" width="5.5" height="5.5" fill="#b7b7ff"/>
<rect x="118.9" y="207.7" width="10.5" height="5.5" fill="#bbbbff"/>
<rect x="128.9" y="207.7" width="5.5" height="5.5" fill="#c3c3ff"/>
<rect x="133.9" y="207.7" width="5.5" height="5.5" fill="#d7d7ff"/>
<rect x="138.9" y="207.7" width="5.5" height="5.5" fill="#f3f3ff"/>
<rect x="143.9" y="207.7" width="5.5" height="5.5" fill="#fff3f3"/>
<rect x="148.9" y="207.7" width="5.5" height="5.5" fill="#ffe3e3"/>
<rect x="153.9" y="207.7" width="5.5" height="5.5" fill="#ffcfcf"/>
<rect x="158.9" y="207.7" width="5.5" height="5.5" fill="#ffc7c7"/>
<rect x="163.9" y="207.7" width="5.5" height="5.5" fill="#ffcfcf"/>
<rect x="168.9" y="207.7" width="5.5" height="5.5" fill="#ffe3e3"/>
<rect x="173.9" y="207.7" width="5.5" height="5.5" fill="#fffbfb"/>
<rect x="178.9" y="207.7" width="5.5" height="5.5" fill="#efefff"/>
<rect x="183.9" y="207.7" width="5.5" height="5.5" fill="#dfdfff"/>
<rect x="188.9" y="207.7" width="5.5" height="5.5" fill="#d7d7ff"/>
<rect x="193.9" y="207.7" width="10.5" height="5.5" fill="#dbdbff"/>
<rect x="203.9" y="207.7" width="5.5" height="5.5" fill="#e3e3ff"/>
<rect x="208.9" y="207.7" width="5.5" height="5.5" fill="#ebebff"/>
<rect x="213.9" y="207.7" width="5.5" height="5.5" fill="#f7f7ff"/>
<rect x="223.9" y="207.7" width="5.5" height="5.5" fill="#fffbfb"/>
<rect x="228.9" y="207.7" width="5.5" height="5.5" fill="#fff7f7"/>
<rect x="233.9" y="207.7" width="5.5" height="5.5" fill="#fff3f3"/>
<rect x="238.9" y="207.7" width="5.5" height="5.5" fill="#ffebeb"/>
<rect x="243.9" y="207.7" width="5.5" height="5.5" fill="#ffe3e3"/>
<rect x="248.9" y="207.7" width="5.5" height="5.5" fill="#ffdbdb"/>
<rect x="253.9" y="207.7" width="5.5" height="5.5" fill="#ffd7d7"/>
<rect x="258.9" y="207.7" width="5.5" height="5.5" fill="#ffd3d3"/>
<rect x="263.9" y="207.7" width="15.5" height="5.5" fill="#ffcfcf"/>
<rect x="278.9" y="207.7" width="5.5" height="5.5" fill="#ffcbcb"/>
<rect x="283.9" y="207.7" width="5.5" height="5.5" fill="#ffc3c3"/>
<rect x="288.9" y="207.7" width="5.5" height="5.5" fill="#ffb7b7"/>
<rect x="293.9" y="207.7" width="5.5" height="5.5" fill="#ffafaf"/>
<rect x="298.9" y="207.7" width="5.5" height="5.5" fill="#ffb3b3"/>
<rect x="303.9" y="207.7" width="5.5" height="5.5" fill="#ffc3c3"/>
<rect x="308.9" y="207.7" width="5.5" height="5.5" fill="#ffd3d3"/>
<rect x="313.9" y="207.7" width="5.5" height="5.5" fill="#ffe3e3"/>
<rect x="318.9" y="207.7" width="5.5" height="5.5" fill="#ffefef"/>
<rect x="323.9" y="207.7" width="5.5" height="5.5" fill="#fff7f7"/>
<rect x="338.9" y="207.7" width="85.5" height="5.5" fill="#fbfbff"/>
<rect x="38.9" y="212.7" width="15.5" height="5.5" fill="#e7e7ff"/>
<rect x="53.9" y="212.7" width="5.5" height="5.5" fill="#ebebff"/>
<rect x="58.9" y="212.7" width="5.5" height="5.5" fill="#f7f7ff"/>
<rect x="63.9" y="212.7" width="5.5" height="5.5" fill="#f3f3ff"/>
<rect x="68.9" y="212.7" width="5.5" height="5.5" fill="#ebebff"/>
<rect x="73.9" y="212.7" width="5.5" height="5.5" fill="#efefff"/>
<rect x="78.9" y="212.7" width="5.5" height="5.5" fill="#fff7f7"/>
<rect x="83.9" y="212.7" width="5.5" height="5.5" fill="#ffe7e7"/>
<rect x="88.9" y="212.7" width="5.5" height="5.5" fill="#ffebeb"/>
<rect x="93.9" y="212.7" width="5.5" height="5.5" fill="#ffefef"/>
<rect x="98.9" y="212.7" width="5.5" height="5.5" fill="#ffe7e7"/>
<rect x="103.9" y="212.7" width="5.5" height="5.5" fill="#fff3f3"/>
<rect x="108.9" y="212.7" width="5.5" height="5.5" fill="#f3f3ff"/>
<rect x="113.9" y="212.7" width="15.5" height="5.5" fill="#ebebff"/>
<rect x="128.9" y="212.7" width="5.5" height="5.5" fill="#f3f3ff"/>
<rect x="133.9" y="212.7" width="5.5" height="5.5" fill="#fffbfb"/>
<rect x="138.9" y="212.7" width="5.5" height="5.5" fill="#ffebeb"/>
<rect x="143.9" y="212.7" width="10.5" height="5.5" fill="#ffdfdf"/>
<rect x="153.9" y="212.7" width="5.5" height="5.5" fill="#ffe3e3"/>
<rect x="158.9" y="212.7" width="5.5" height="5.5" fill="#ffebeb"/>
<rect x="163.9" y="212.7" width="5.5" height="5.5" fill="#f7f7ff"/>
<rect x="168.9" y="212.7" width="5.5" height="5.5" fill="#d7d7ff"/>
<rect x="173.9" y="212.7" width="5.5" height="5.5" fill="#b3b3ff"/>
<rect x="178.9" y="212.7" width="5.5" height="5.5" fill="#8f8fff"/>
<rect x="183.9" y="212.7" width="5.5" height="5.5" fill="#7070ff"/>
<rect x="188.9" y="212.7" width="10.5" height="5.5" fill="#5858ff"/>
<rect x="198.9" y="212.7" width="5.5" height="5.5" fill="#6868ff"/>
<rect x="203.9" y="212.7" width="5.5" height="5.5" fill="#8383ff"/>
<rect x="208.9" y="212.7" width="5.5" height="5.5" fill="#ababff"/>
<rect x="213.9" y="212.7" width="5.5" height="5.5" fill="#d3d3ff"/>
<rect x="218.9" y="212.7" width="5.5" height="5.5" fill="#f7f7ff"/>
<rect x="223.9" y="212.7" width="5.5" height="5.5" fill="#fff7f7"/>
<rect x="228.9" y="212.7" width="5.5" height="5.5" fill="#ffebeb"/>
<rect x="233.9" y="212.7" width="5.5" height="5.5" fill="#ffdfdf"/>
<rect x="238.9" y="212.7" width="5.5" height="5.5" fill="#ffcfcf"/>
<rect x="243.9" y="212.7" width="5.5" height="5.5" fill="#ffbbbb"/>
<rect x="248.9" y="212.7" width="5.5" height="5.5" fill="#ffa7a7"/>
<rect x="253.9" y="212.7" width="5.5" height="5.5" fill="#ff9797"/>
<rect x="258.9" y="212.7" width="5.5" height="5.5" fill="#ff8b8b"/>
<rect x="263.9" y="212.7" width="5.5" height="5.5" fill="#ff8080"/>
<rect x="268.9" y="212.7" width="5.5" height="5.5" fill="#ff8383"/>
<rect x="273.9" y="212.7" width="5.5" height="5.5" fill="#ff8b8b"/>
<rect x="278.9" y="212.7" width="5.5" height="5.5" fill="#ff9797"/>
<rect x="283.9" y="212.7" width="5.5" height="5.5" fill="#ffa7a7"/>
<rect x="288.9" y="212.7" width="5.5" height="5.5" fill="#ffb7b7"/>
<rect x="293.9" y="212.7" width="5.5" height="5.5" fill="#ffc7c7"/>
<rect x="298.9" y="212.7" width="5.5" height="5.5" fill="#ffdfdf"/>
<rect x="303.9" y="212.7" width="5.5" height="5.5" fill="#fff3f3"/>
<rect x="308.9" y="212.7" width="5.5" height="5.5" fill="#f7f7ff"/>
<rect x="313.9" y="212.7" width="5.5" height="5.5" fill="#efefff"/>
<rect x="318.9" y="212.7" width="10.5" height="5.5" fill="#ebebff"/>
<rect x="328.9" y="212.7" width="10.5" height="5.5" fill="#e7e7ff"/>
<rect x="338.9" y="212.7" width="25.5" height="5.5" fill="#ebebff"/>
<rect x="363.9" y="212.7" width="5.5" height="5.5" fill="#efefff"/>
<rect x="368.9" y="212.7" width="10.5" height="5.5" fill="#f3f3ff"/>
<rect x="378.9" y="212.7" width="10.5" height="5.5" fill="#f7f7ff"/>
<rect x="388.9" y="212.7" width="35.5" height="5.5" fill="#fbfbff"/>
<rect x="38.9" y="217.7" width="15.5" height="5.5" fill="#e7e7ff"/>
<rect x="53.9" y="217.7" width="5.5" height="5.5" fill="#ebebff"/>
<rect x="58.9" y="217.7" width="5.5" height="5.5" fill="#efefff"/>
<rect x="63.9" y="217.7" width="10.5" height="5.5" fill="#f3f3ff"/>
<rect x="73.9" y="217.7" width="5.5" height="5.5" fill="#f7f7ff"/>
<rect x="78.9" y="217.7" width="5.5" height="5.5" fill="#fffbfb"/>
<rect x="83.9" y="217.7" width="15.5" height="5.5" fill="#fff3f3"/>
<rect x="98.9" y="217.7" width="5.5" height="5.5" fill="#fff7f7"/>
<rect x="108.9" y="217.7" width="5.5" height="5.5" fill="#efefff"/>
<rect x="113.9" y="217.7" width="15.5" height="5.5" fill="#ebebff"/>
<rect x="128.9" y="217.7" width="5.5" height="5.5" fill="#f3f3ff"/>
<rect x="133.9" y="217.7" width="5.5" height="5.5" fill="#fff7f7"/>
<rect x="138.9" y="217.7" width="5.5" height="5.5" fill="#ffe7e7"/>
<rect x="143.9" y="217.7" width="10.5" height="5.5" fill="#ffdfdf"/>
<rect x="153.9" y="217.7" width="5.5" height="5.5" fill="#ffe3e3"/>
<rect x="158.9" y="217.7" width="5.5" height="5.5" fill="#fff3f3"/>
<rect x="163.9" y="217.7" width="5.5" height="5.5" fill="#ebebff"/>
<rect x="168.9" y="217.7" width="5.5" height="5.5" fill="#bfbfff"/>
<rect x="173.9" y="217.7" width="5.5" height="5.5" fill="#8f8fff"/>
<rect x="178.9" y="217.7" width="5.5" height="5.5" fill="#6060ff"/>
<rect x="183.9" y="217.7" width="5.5" height="5.5" fill="#2c2cff"/>
<rect x="188.9" y="217.7" width="10.5" height="5.5" fill="#0808ff"/>
<rect x="198.9" y="217.7" width="5.5" height="5.5" fill="#1c1cff"/>
<rect x="203.9" y="217.7" width="5.5" height="5.5" fill="#4444ff"/>
<rect x="208.9" y="217.7" width="5.5" height="5.5" fill="#7c7cff"/>
<rect x="213.9" y="217.7" width="5.5" height="5.5" fill="#b3b3ff"/>
<rect x="218.9" y="217.7" width="5.5" height="5.5" fill="#e7e7ff"/>
<rect x="223.9" y="217.7" width="5.5" height="5.5" fill="#fff7f7"/>
<rect x="228.9" y="217.7" width="5.5" height="5.5" fill="#ffdfdf"/>
<rect x="233.9" y="217.7" width="5.5" height="5.5" fill="#ffc3c3"/>
<rect x="238.9" y="217.7" width="5.5" height="5.5" fill="#ffa7a7"/>
<rect x="243.9" y="217.7" width="5.5" height="5.5" fill="#ff8787"/>
<rect x="248.9" y="217.7" width="5.5" height="5.5" fill="#ff6c6c"/>
<rect x="253.9" y="217.7" width="5.5" height="5.5" fill="#ff6464"/>
<rect x="258.9" y="217.7" width="5.5" height="5.5" fill="#ff6868"/>
<rect x="263.9" y="217.7" width="5.5" height="5.5" fill="#ff7474"/>
<rect x="268.9" y="217.7" width="5.5" height="5.5" fill="#ff8f8f"/>
<rect x="273.9" y="217.7" width="5.5" height="5.5" fill="#ffabab"/>
<rect x="278.9" y="217.7" width="5.5" height="5.5" fill="#ffc7c7"/>
<rect x="283.9" y="217.7" width="5.5" height="5.5" fill="#ffdfdf"/>
<rect x="288.9" y="217.7" width="5.5" height="5.5" fill="#ffebeb"/>
<rect x="293.9" y="217.7" width="5.5" height="5.5" fill="#fff7f7"/>
<rect x="298.9" y="217.7" width="5.5" height="5.5" fill="#f7f7ff"/>
<rect x="303.9" y="217.7" width="5.5" height="5.5" fill="#e7e7ff"/>
<rect x="308.9" y="217.7" width="5.5" height="5.5" fill="#dbdbff"/>
<rect x="313.9" y="217.7" width="10.5" height="5.5" fill="#d7d7ff"/>
<rect x="323.9" y="217.7" width="5.5" height="5.5" fill="#dbdbff"/>
<rect x="328.9" y="217.7" width="5.5" height="5.5" fill="#dfdfff"/>
<rect x="333.9" y="217.7" width="5.5" height="5.5" fill="#e3e3ff"/>
<rect x="338.9" y="217.7" width="5.5" height="5.5" fill="#ebebff"/>
<rect x="343.9" y="217.7" width="5.5" height="5.5" fill="#efefff"/>
<rect x="348.9" y="217.7" width="10.5" height="5.5" fill="#f3f3ff"/>
<rect x="358.9" y="217.7" width="10.5" height="5.5" fill="#f7f7ff"/>
<rect x="368.9" y="217.7" width="55.5" height="5.5" fill="#fbfbff"/>
<rect x="38.9" y="222.7" width="15.5" height="5.5" fill="#e7e7ff"/>
<rect x="53.9" y="222.7" width="5.5" height="5.5" fill="#ebebff"/>
<rect x="58.9" y="222.7" width="5.5" height="5.5" fill="#efefff"/>
<rect x="63.9" y="222.7" width="10.5" height="5.5" fill="#f3f3ff"/>
<rect x="73.9" y="222.7" width="5.5" height="5.5" fill="#f7f7ff"/>
<rect x="78.9" y="222.7" width="5.5" height="5.5" fill="#fffbfb"/>
<rect x="83.9" y="222.7" width="15.5" height="5.5" fill="#fff3f3"/>
<rect x="98.9" y="222.7" width="5.5" height="5.5" fill="#fff7f7"/>
<rect x="108.9" y="222.7" width="5.5" height="5.5" fill="#efefff"/>
<rect x="113.9" y="222.7" width="15.5" height="5.5" fill="#ebebff"/>
<rect x="128.9" y="222.7" width="5.5" height="5.5" fill="#f3f3ff"/>
<rect x="133.9" y="222.7" width="5.5" height="5.5" fill="#fff7f7"/>
<rect x="138.9" y="222.7" width="5.5" height="5.5" fill="#ffe7e7"/>
<rect x="143.9" y="222.7" width="10.5" height="5.5" fill="#ffdfdf"/>
<rect x="153.9" y="222.7" width="5.5" height="5.5" fill="#ffe3e3"/>
<rect x="158.9" y="222.7" width="5.5" height="5.5" fill="#fff3f3"/>
<rect x="163.9" y="222.7" width="5.5" height="5.5" fill="#ebebff"/>
<rect x="168.9" y="222.7" width="5.5" height="5.5" fill="#bfbfff"/>
<rect x="173.9" y="222.7" width="5.5" height="5.5" fill="#8f8fff"/>
<rect x="178.9" y="222.7" width="5.5" height="5.5" fill="#6060ff"/>
<rect x="183.9" y="222.7" width="5.5" height="5.5" fill="#2c2cff"/>
<rect x="188.9" y="222.7" width="10.5" height="5.5" fill="#0808ff"/>
<rect x="198.9" y="222.7" width="5.5" height="5.5" fill="#1c1cff"/>
<rect x="203.9" y="222.7" width="5.5" height="5.5" fill="#4444ff"/>
<rect x="208.9" y="222.7" width="5.5" height="5.5" fill="#7c7cff"/>
<rect x="213.9" y="222.7" width="5.5" height="5.5" fill="#b3b3ff"/>
<rect x="218.9" y="222.7" width="5.5" height="5.5" fill="#e7e7ff"/>
<rect x="223.9" y="222.7" width="5.5" height="5.5" fill="#fff7f7"/>
<rect x="228.9" y="222.7" width="5.5" height="5.5" fill="#ffdfdf"/>
<rect x="233.9" y="222.7" width="5.5" height="5.5" fill="#ffc3c3"/>
<rect x="238.9" y="222.7" width="5.5" height="5.5" fill="#ffa7a7"/>
<rect x="243.9" y="222.7" width="5.5" height="5.5" fill="#ff8787"/>
<rect x="248.9" y="222.7" width="5.5" height="5.5" fill="#ff6c6c"/>
<rect x="253.9" y="222.7" width="5.5" height="5.5" fill="#ff6464"/>
<rect x="258.9" y="222.7" width="5.5" height="5.5" fill="#ff6868"/>
<rect x="263.9" y="222.7" width="5.5" height="5.5" fill="#ff7474"/>
<rect x="268.9" y="222.7" width="5.5" height="5.5" fill="#ff8f8f"/>
<rect x="273.9" y="222.7" width="5.5" height="5.5" fill="#ffabab"/>
<rect x="278.9" y="222.7" width="5.5" height="5.5" fill="#ffc7c7"/>
<rect x="283.9" y="222.7" width="5.5" height="5.5" fill="#ffdfdf"/>
<rect x="288.9" y="222.7" width="5.5" height="5.5" fill="#ffebeb"/>
<rect x="293.9" y="222.7" width="5.5" height="5.5" fill="#fff7f7"/>
<rect x="298.9" y="222.7" width="5.5" height="5.5" fill="#f7f7ff"/>
<rect x="303.9" y="222.7" width="5.5" height="5.5" fill="#e7e7ff"/>
<rect x="308.9" y="222.7" width="5.5" height="5.5" fill="#dbdbff"/>
<rect x="313.9" y="222.7" width="10.5" height="5.5" fill="#d7d7ff"/>
<rect x="323.9" y="222.7" width="5.5" height="5.5" fill="#dbdbff"/>
<rect x="328.9" y="222.7" width="5.5" height="5.5" fill="#dfdfff"/>
<rect x="333.9" y="222.7" width="5.5" height="5.5" fill="#e3e3ff"/>
<rect x="338.9" y="222.7" width="5.5" height="5.5" fill="#ebebff"/>
<rect x="343.9" y="222.7" width="5.5" height="5.5" fill="#efefff"/>
<rect x="348.9" y="222.7" width="10.5" height="5.5" fill="#f3f3ff"/>
<rect x="358.9" y="222.7" width="10.5" height="5.5" fill="#f7f7ff"/>
<rect x="368.9" y="222.7" width="55.5" height="5.5" fill="#fbfbff"/>
</g></g>
<g clip-path="url(#fcb)"><g filter="url(#bl)">
<rect x="38.9" y="253.8" width="15.5" height="5.5" fill="#ffebeb"/>
<rect x="53.9" y="253.8" width="5.5" height="5.5" fill="#fff7f7"/>
<rect x="58.9" y="253.8" width="5.5" height="5.5" fill="#fbfbff"/>
<rect x="63.9" y="253.8" width="5.5" height="5.5" fill="#efefff"/>
<rect x="68.9" y="253.8" width="5.5" height="5.5" fill="#ebebff"/>
<rect x="73.9" y="253.8" width="25.5" height="5.5" fill="#e7e7ff"/>
<rect x="98.9" y="253.8" width="10.5" height="5.5" fill="#e3e3ff"/>
<rect x="108.9" y="253.8" width="5.5" height="5.5" fill="#dfdfff"/>
<rect x="113.9" y="253.8" width="5.5" height="5.5" fill="#d7d7ff"/>
<rect x="118.9" y="253.8" width="5.5" height="5.5" fill="#cfcfff"/>
<rect x="123.9" y="253.8" width="5.5" height="5.5" fill="#c3c3ff"/>
<rect x="128.9" y="253.8" width="5.5" height="5.5" fill="#bbbbff"/>
<rect x="133.9" y="253.8" width="5.5" height="5.5" fill="#b7b7ff"/>
<rect x="138.9" y="253.8" width="5.5" height="5.5" fill="#afafff"/>
<rect x="143.9" y="253.8" width="20.5" height="5.5" fill="#ababff"/>
<rect x="163.9" y="253.8" width="5.5" height="5.5" fill="#a7a7ff"/>
<rect x="168.9" y="253.8" width="5.5" height="5.5" fill="#a3a3ff"/>
<rect x="173.9" y="253.8" width="5.5" height="5.5" fill="#9f9fff"/>
<rect x="178.9" y="253.8" width="10.5" height="5.5" fill="#9b9bff"/>
<rect x="188.9" y="253.8" width="5.5" height="5.5" fill="#9797ff"/>
<rect x="193.9" y="253.8" width="5.5" height="5.5" fill="#9393ff"/>
<rect x="198.9" y="253.8" width="5.5" height="5.5" fill="#8b8bff"/>
<rect x="203.9" y="253.8" width="5.5" height="5.5" fill="#8383ff"/>
<rect x="208.9" y="253.8" width="5.5" height="5.5" fill="#8080ff"/>
<rect x="213.9" y="253.8" width="5.5" height="5.5" fill="#7c7cff"/>
<rect x="218.9" y="253.8" width="10.5" height="5.5" fill="#7878ff"/>
<rect x="228.9" y="253.8" width="10.5" height="5.5" fill="#7474ff"/>
<rect x="238.9" y="253.8" width="10.5" height="5.5" fill="#7070ff"/>
<rect x="248.9" y="253.8" width="20.5" height="5.5" fill="#6c6cff"/>
<rect x="268.9" y="253.8" width="10.5" height="5.5" fill="#7070ff"/>
<rect x="278.9" y="253.8" width="25.5" height="5.5" fill="#7474ff"/>
<rect x="303.9" y="253.8" width="10.5" height="5.5" fill="#7878ff"/>
<rect x="313.9" y="253.8" width="5.5" height="5.5" fill="#7c7cff"/>
<rect x="318.9" y="253.8" width="5.5" height="5.5" fill="#8787ff"/>
<rect x="323.9" y="253.8" width="5.5" height="5.5" fill="#8f8fff"/>
<rect x="328.9" y="253.8" width="5.5" height="5.5" fill="#9797ff"/>
<rect x="333.9" y="253.8" width="5.5" height="5.5" fill="#a7a7ff"/>
<rect x="338.9" y="253.8" width="5.5" height="5.5" fill="#b7b7ff"/>
<rect x="343.9" y="253.8" width="5.5" height="5.5" fill="#c3c3ff"/>
<rect x="348.9" y="253.8" width="5.5" height="5.5" fill="#d3d3ff"/>
<rect x="353.9" y="253.8" width="5.5" height="5.5" fill="#e3e3ff"/>
<rect x="358.9" y="253.8" width="5.5" height="5.5" fill="#ebebff"/>
<rect x="363.9" y="253.8" width="5.5" height="5.5" fill="#f3f3ff"/>
<rect x="368.9" y="253.8" width="10.5" height="5.5" fill="#f7f7ff"/>
<rect x="378.9" y="253.8" width="5.5" height="5.5" fill="#fbfbff"/>
<rect x="38.9" y="258.8" width="15.5" height="5.5" fill="#ffebeb"/>
<rect x="53.9" y="258.8" width="5.5" height="5.5" fill="#fff7f7"/>
<rect x="58.9" y="258.8" width="5.5" height="5.5" fill="#fbfbff"/>
<rect x="63.9" y="258.8" width="5.5" height="5.5" fill="#efefff"/>
<rect x="68.9" y="258.8" width="5.5" height="5.5" fill="#ebebff"/>
<rect x="73.9" y="258.8" width="25.5" height="5.5" fill="#e7e7ff"/>
<rect x="98.9" y="258.8" width="10.5" height="5.5" fill="#e3e3ff"/>
<rect x="108.9" y="258.8" width="5.5" height="5.5" fill="#dfdfff"/>
<rect x="113.9" y="258.8" width="5.5" height="5.5" fill="#d7d7ff"/>
<rect x="118.9" y="258.8" width="5.5" height="5.5" fill="#cfcfff"/>
<rect x="123.9" y="258.8" width="5.5" height="5.5" fill="#c3c3ff"/>
<rect x="128.9" y="258.8" width="5.5" height="5.5" fill="#bbbbff"/>
<rect x="133.9" y="258.8" width="5.5" height="5.5" fill="#b7b7ff"/>
<rect x="138.9" y="258.8" width="5.5" height="5.5" fill="#afafff"/>
<rect x="143.9" y="258.8" width="20.5" height="5.5" fill="#ababff"/>
<rect x="163.9" y="258.8" width="5.5" height="5.5" fill="#a7a7ff"/>
<rect x="168.9" y="258.8" width="5.5" height="5.5" fill="#a3a3ff"/>
<rect x="173.9" y="258.8" width="5.5" height="5.5" fill="#9f9fff"/>
<rect x="178.9" y="258.8" width="10.5" height="5.5" fill="#9b9bff"/>
<rect x="188.9" y="258.8" width="5.5" height="5.5" fill="#9797ff"/>
<rect x="193.9" y="258.8" width="5.5" height="5.5" fill="#9393ff"/>
<rect x="198.9" y="258.8" width="5.5" height="5.5" fill="#8b8bff"/>
<rect x="203.9" y="258.8" width="5.5" height="5.5" fill="#8383ff"/>
<rect x="208.9" y="258.8" width="5.5" height="5.5" fill="#8080ff"/>
<rect x="213.9" y="258.8" width="5.5" height="5.5" fill="#7c7cff"/>
<rect x="218.9" y="258.8" width="10.5" height="5.5" fill="#7878ff"/>
<rect x="228.9" y="258.8" width="10.5" height="5.5" fill="#7474ff"/>
<rect x="238.9" y="258.8" width="10.5" height="5.5" fill="#7070ff"/>
<rect x="248.9" y="258.8" width="20.5" height="5.5" fill="#6c6cff"/>
<rect x="268.9" y="258.8" width="10.5" height="5.5" fill="#7070ff"/>
<rect x="278.9" y="258.8" width="25.5" height="5.5" fill="#7474ff"/>
<rect x="303.9" y="258.8" width="10.5" height="5.5" fill="#7878ff"/>
<rect x="313.9" y="258.8" width="5.5" height="5.5" fill="#7c7cff"/>
<rect x="318.9" y="258.8" width="5.5" height="5.5" fill="#8787ff"/>
<rect x="323.9" y="258.8" width="5.5" height="5.5" fill="#8f8fff"/>
<rect x="328.9" y="258.8" width="5.5" height="5.5" fill="#9797ff"/>
<rect x="333.9" y="258.8" width="5.5" height="5.5" fill="#a7a7ff"/>
<rect x="338.9" y="258.8" width="5.5" height="5.5" fill="#b7b7ff"/>
<rect x="343.9" y="258.8" width="5.5" height="5.5" fill="#c3c3ff"/>
<rect x="348.9" y="258.8" width="5.5" height="5.5" fill="#d3d3ff"/>
<rect x="353.9" y="258.8" width="5.5" height="5.5" fill="#e3e3ff"/>
<rect x="358.9" y="258.8" width="5.5" height="5.5" fill="#ebebff"/>
<rect x="363.9" y="258.8" width="5.5" height="5.5" fill="#f3f3ff"/>
<rect x="368.9" y="258.8" width="10.5" height="5.5" fill="#f7f7ff"/>
<rect x="378.9" y="258.8" width="5.5" height="5.5" fill="#fbfbff"/>
<rect x="38.9" y="263.8" width="15.5" height="5.5" fill="#ffefef"/>
<rect x="53.9" y="263.8" width="5.5" height="5.5" fill="#fffbfb"/>
<rect x="58.9" y="263.8" width="5.5" height="5.5" fill="#f7f7ff"/>
<rect x="63.9" y="263.8" width="5.5" height="5.5" fill="#efefff"/>
<rect x="68.9" y="263.8" width="5.5" height="5.5" fill="#ebebff"/>
<rect x="73.9" y="263.8" width="25.5" height="5.5" fill="#e7e7ff"/>
<rect x="98.9" y="263.8" width="15.5" height="5.5" fill="#e3e3ff"/>
<rect x="113.9" y="263.8" width="5.5" height="5.5" fill="#dbdbff"/>
<rect x="118.9" y="263.8" width="5.5" height="5.5" fill="#cfcfff"/>
<rect x="123.9" y="263.8" width="5.5" height="5.5" fill="#c7c7ff"/>
<rect x="128.9" y="263.8" width="5.5" height="5.5" fill="#bfbfff"/>
<rect x="133.9" y="263.8" width="5.5" height="5.5" fill="#bbbbff"/>
<rect x="138.9" y="263.8" width="20.5" height="5.5" fill="#b3b3ff"/>
<rect x="158.9" y="263.8" width="5.5" height="5.5" fill="#afafff"/>
<rect x="163.9" y="263.8" width="5.5" height="5.5" fill="#ababff"/>
<rect x="168.9" y="263.8" width="5.5" height="5.5" fill="#a7a7ff"/>
<rect x="173.9" y="263.8" width="5.5" height="5.5" fill="#a3a3ff"/>
<rect x="178.9" y="263.8" width="10.5" height="5.5" fill="#9f9fff"/>
<rect x="188.9" y="263.8" width="5.5" height="5.5" fill="#9b9bff"/>
<rect x="193.9" y="263.8" width="5.5" height="5.5" fill="#9393ff"/>
<rect x="198.9" y="263.8" width="5.5" height="5.5" fill="#8f8fff"/>
<rect x="203.9" y="263.8" width="5.5" height="5.5" fill="#8787ff"/>
<rect x="208.9" y="263.8" width="5.5" height="5.5" fill="#8383ff"/>
<rect x="213.9" y="263.8" width="5.5" height="5.5" fill="#8080ff"/>
<rect x="218.9" y="263.8" width="5.5" height="5.5" fill="#7c7cff"/>
<rect x="223.9" y="263.8" width="10.5" height="5.5" fill="#7878ff"/>
<rect x="233.9" y="263.8" width="10.5" height="5.5" fill="#7474ff"/>
<rect x="243.9" y="263.8" width="30.5" height="5.5" fill="#7070ff"/>
<rect x="273.9" y="263.8" width="30.5" height="5.5" fill="#7474ff"/>
<rect x="303.9" y="263.8" width="10.5" height="5.5" fill="#7878ff"/>
<rect x="313.9" y="263.8" width="5.5" height="5.5" fill="#8080ff"/>
<rect x="318.9" y="263.8" width="5.5" height="5.5" fill="#8787ff"/>
<rect x="323.9" y="263.8" width="5.5" height="5.5" fill="#8f8fff"/>
<rect x="328.9" y="263.8" width="5.5" height="5.5" fill="#9b9bff"/>
<rect x="333.9" y="263.8" width="5.5" height="5.5" fill="#a7a7ff"/>
<rect x="338.9" y="263.8" width="5.5" height="5.5" fill="#b7b7ff"/>
<rect x="343.9" y="263.8" width="5.5" height="5.5" fill="#c3c3ff"/>
<rect x="348.9" y="263.8" width="5.5" height="5.5" fill="#d3d3ff"/>
<rect x="353.9" y="263.8" width="5.5" height="5.5" fill="#e3e3ff"/>
<rect x="358.9" y="263.8" width="5.5" height="5.5" fill="#ebebff"/>
<rect x="363.9" y="263.8" width="5.5" height="5.5" fill="#f3f3ff"/>
<rect x="368.9" y="263.8" width="10.5" height="5.5" fill="#f7f7ff"/>
<rect x="378.9" y="263.8" width="5.5" height="5.5" fill="#fbfbff"/>
<rect x="38.9" y="268.8" width="20.5" height="5.5" fill="#fbfbff"/>
<rect x="58.9" y="268.8" width="5.5" height="5.5" fill="#f3f3ff"/>
<rect x="63.9" y="268.8" width="20.5" height="5.5" fill="#ebebff"/>
<rect x="83.9" y="268.8" width="30.5" height="5.5" fill="#e7e7ff"/>
<rect x="113.9" y="268.8" width="5.5" height="5.5" fill="#e3e3ff"/>
<rect x="118.9" y="268.8" width="5.5" height="5.5" fill="#dbdbff"/>
<rect x="123.9" y="268.8" width="5.5" height="5.5" fill="#d3d3ff"/>
<rect x="128.9" y="268.8" width="10.5" height="5.5" fill="#cfcfff"/>
<rect x="138.9" y="268.8" width="20.5" height="5.5" fill="#cbcbff"/>
<rect x="158.9" y="268.8" width="5.5" height="5.5" fill="#c7c7ff"/>
<rect x="163.9" y="268.8" width="5.5" height="5.5" fill="#c3c3ff"/>
<rect x="168.9" y="268.8" width="5.5" height="5.5" fill="#bfbfff"/>
<rect x="173.9" y="268.8" width="5.5" height="5.5" fill="#bbbbff"/>
<rect x="178.9" y="268.8" width="5.5" height="5.5" fill="#b3b3ff"/>
<rect x="183.9" y="268.8" width="5.5" height="5.5" fill="#afafff"/>
<rect x="188.9" y="268.8" width="5.5" height="5.5" fill="#a7a7ff"/>
<rect x="193.9" y="268.8" width="5.5" height="5.5" fill="#9f9fff"/>
<rect x="198.9" y="268.8" width="5.5" height="5.5" fill="#9797ff"/>
<rect x="203.9" y="268.8" width="5.5" height="5.5" fill="#9393ff"/>
<rect x="208.9" y="268.8" width="5.5" height="5.5" fill="#8b8bff"/>
<rect x="213.9" y="268.8" width="5.5" height="5.5" fill="#8787ff"/>
<rect x="218.9" y="268.8" width="5.5" height="5.5" fill="#8383ff"/>
<rect x="223.9" y="268.8" width="5.5" height="5.5" fill="#8080ff"/>
<rect x="228.9" y="268.8" width="5.5" height="5.5" fill="#7c7cff"/>
<rect x="233.9" y="268.8" width="45.5" height="5.5" fill="#7878ff"/>
<rect x="278.9" y="268.8" width="15.5" height="5.5" fill="#7c7cff"/>
<rect x="293.9" y="268.8" width="5.5" height="5.5" fill="#7878ff"/>
<rect x="298.9" y="268.8" width="10.5" height="5.5" fill="#7c7cff"/>
<rect x="308.9" y="268.8" width="5.5" height="5.5" fill="#8080ff"/>
<rect x="313.9" y="268.8" width="5.5" height="5.5" fill="#8383ff"/>
<rect x="318.9" y="268.8" width="5.5" height="5.5" fill="#8b8bff"/>
<rect x="323.9" y="268.8" width="5.5" height="5.5" fill="#9393ff"/>
<rect x="328.9" y="268.8" width="5.5" height="5.5" fill="#9b9bff"/>
<rect x="333.9" y="268.8" width="5.5" height="5.5" fill="#ababff"/>
<rect x="338.9" y="268.8" width="5.5" height="5.5" fill="#b7b7ff"/>
<rect x="343.9" y="268.8" width="5.5" height="5.5" fill="#c7c7ff"/>
<rect x="348.9" y="268.8" width="5.5" height="5.5" fill="#d3d3ff"/>
<rect x="353.9" y="268.8" width="5.5" height="5.5" fill="#e3e3ff"/>
<rect x="358.9" y="268.8" width="5.5" height="5.5" fill="#ebebff"/>
<rect x="363.9" y="268.8" width="5.5" height="5.5" fill="#f3f3ff"/>
<rect x="368.9" y="268.8" width="10.5" height="5.5" fill="#f7f7ff"/>
<rect x="378.9" y="268.8" width="5.5" height="5.5" fill="#fbfbff"/>
<rect x="38.9" y="273.8" width="10.5" height="5.5" fill="#d7d7ff"/>
<rect x="48.9" y="273.8" width="5.5" height="5.5" fill="#e3e3ff"/>
<rect x="53.9" y="273.8" width="10.5" height="5.5" fill="#f3f3ff"/>
<rect x="63.9" y="273.8" width="20.5" height="5.5" fill="#efefff"/>
<rect x="83.9" y="273.8" width="15.5" height="5.5" fill="#f3f3ff"/>
<rect x="98.9" y="273.8" width="5.5" height="5.5" fill="#f7f7ff"/>
<rect x="103.9" y="273.8" width="15.5" height="5.5" fill="#fbfbff"/>
<rect x="118.9" y="273.8" width="5.5" height="5.5" fill="#f3f3ff"/>
<rect x="123.9" y="273.8" width="15.5" height="5.5" fill="#efefff"/>
<rect x="138.9" y="273.8" width="20.5" height="5.5" fill="#f3f3ff"/>
<rect x="158.9" y="273.8" width="5.5" height="5.5" fill="#efefff"/>
<rect x="163.9" y="273.8" width="5.5" height="5.5" fill="#ebebff"/>
<rect x="168.9" y="273.8" width="5.5" height="5.5" fill="#e3e3ff"/>
<rect x="173.9" y="273.8" width="5.5" height="5.5" fill="#dfdfff"/>
<rect x="178.9" y="273.8" width="5.5" height="5.5" fill="#d3d3ff"/>
<rect x="183.9" y="273.8" width="5.5" height="5.5" fill="#cbcbff"/>
<rect x="188.9" y="273.8" width="5.5" height="5.5" fill="#bfbfff"/>
<rect x="193.9" y="273.8" width="5.5" height="5.5" fill="#b7b7ff"/>
<rect x="198.9" y="273.8" width="5.5" height="5.5" fill="#ababff"/>
<rect x="203.9" y="273.8" width="5.5" height="5.5" fill="#a3a3ff"/>
<rect x="208.9" y="273.8" width="5.5" height="5.5" fill="#9b9bff"/>
<rect x="213.9" y="273.8" width="5.5" height="5.5" fill="#9797ff"/>
<rect x="218.9" y="273.8" width="5.5" height="5.5" fill="#8f8fff"/>
<rect x="223.9" y="273.8" width="5.5" height="5.5" fill="#8b8bff"/>
<rect x="228.9" y="273.8" width="5.5" height="5.5" fill="#8787ff"/>
<rect x="233.9" y="273.8" width="45.5" height="5.5" fill="#8080ff"/>
<rect x="278.9" y="273.8" width="10.5" height="5.5" fill="#8383ff"/>
<rect x="288.9" y="273.8" width="20.5" height="5.5" fill="#8080ff"/>
<rect x="308.9" y="273.8" width="5.5" height="5.5" fill="#8383ff"/>
<rect x="313.9" y="273.8" width="5.5" height="5.5" fill="#8787ff"/>
<rect x="318.9" y="273.8" width="5.5" height="5.5" fill="#8f8fff"/>
<rect x="323.9" y="273.8" width="5.5" height="5.5" fill="#9393ff"/>
<rect x="328.9" y="273.8" width="5.5" height="5.5" fill="#9f9fff"/>
<rect x="333.9" y="273.8" width="5.5" height="5.5" fill="#ababff"/>
<rect x="338.9" y="273.8" width="5.5" height="5.5" fill="#bbbbff"/>
<rect x="343.9" y="273.8" width="5.5" height="5.5" fill="#cbcbff"/>
<rect x="348.9" y="273.8" width="5.5" height="5.5" fill="#d7d7ff"/>
<rect x="353.9" y="273.8" width="5.5" height="5.5" fill="#e3e3ff"/>
<rect x="358.9" y="273.8" width="5.5" height="5.5" fill="#ebebff"/>
<rect x="363.9" y="273.8" width="5.5" height="5.5" fill="#f3f3ff"/>
<rect x="368.9" y="273.8" width="10.5" height="5.5" fill="#f7f7ff"/>
<rect x="378.9" y="273.8" width="5.5" height="5.5" fill="#fbfbff"/>
<rect x="38.9" y="278.8" width="10.5" height="5.5" fill="#c3c3ff"/>
<rect x="48.9" y="278.8" width="5.5" height="5.5" fill="#d3d3ff"/>
<rect x="53.9" y="278.8" width="5.5" height="5.5" fill="#f3f3ff"/>
<rect x="58.9" y="278.8" width="5.5" height="5.5" fill="#f7f7ff"/>
<rect x="63.9" y="278.8" width="5.5" height="5.5" fill="#f3f3ff"/>
<rect x="68.9" y="278.8" width="10.5" height="5.5" fill="#f7f7ff"/>
<rect x="78.9" y="278.8" width="10.5" height="5.5" fill="#fbfbff"/>
<rect x="98.9" y="278.8" width="5.5" height="5.5" fill="#fffbfb"/>
<rect x="103.9" y="278.8" width="5.5" height="5.5" fill="#fff7f7"/>
<rect x="108.9" y="278.8" width="5.5" height="5.5" fill="#ffefef"/>
<rect x="113.9" y="278.8" width="5.5" height="5.5" fill="#fff3f3"/>
<rect x="118.9" y="278.8" width="5.5" height="5.5" fill="#fff7f7"/>
<rect x="123.9" y="278.8" width="10.5" height="5.5" fill="#fffbfb"/>
<rect x="133.9" y="278.8" width="10.5" height="5.5" fill="#fff7f7"/>
<rect x="143.9" y="278.8" width="15.5" height="5.5" fill="#fff3f3"/>
<rect x="158.9" y="278.8" width="5.5" height="5.5" fill="#fff7f7"/>
<rect x="163.9" y="278.8" width="5.5" height="5.5" fill="#fffbfb"/>
<rect x="173.9" y="278.8" width="5.5" height="5.5" fill="#f7f7ff"/>
<rect x="178.9" y="278.8" width="5.5" height="5.5" fill="#ebebff"/>
<rect x="183.9" y="278.8" width="5.5" height="5.5" fill="#dfdfff"/>
<rect x="188.9" y="278.8" width="5.5" height="5.5" fill="#cfcfff"/>
<rect x="193.9" y="278.8" width="5.5" height="5.5" fill="#c7c7ff"/>
<rect x="198.9" y="278.8" width="5.5" height="5.5" fill="#bfbfff"/>
<rect x="203.9" y="278.8" width="5.5" height="5.5" fill="#b3b3ff"/>
<rect x="208.9" y="278.8" width="5.5" height="5.5" fill="#ababff"/>
<rect x="213.9" y="278.8" width="5.5" height="5.5" fill="#a3a3ff"/>
<rect x="218.9" y="278.8" width="5.5" height="5.5" fill="#9b9bff"/>
<rect x="223.9" y="278.8" width="5.5" height="5.5" fill="#9797ff"/>
<rect x="228.9" y="278.8" width="5.5" height="5.5" fill="#8f8fff"/>
<rect x="233.9" y="278.8" width="5.5" height="5.5" fill="#8b8bff"/>
<rect x="238.9" y="278.8" width="40.5" height="5.5" fill="#8787ff"/>
<rect x="278.9" y="278.8" width="5.5" height="5.5" fill="#8b8bff"/>
<rect x="283.9" y="278.8" width="25.5" height="5.5" fill="#8787ff"/>
<rect x="308.9" y="278.8" width="5.5" height="5.5" fill="#8b8bff"/>
<rect x="313.9" y="278.8" width="5.5" height="5.5" fill="#8f8fff"/>
<rect x="318.9" y="278.8" width="5.5" height="5.5" fill="#9393ff"/>
<rect x="323.9" y="278.8" width="5.5" height="5.5" fill="#9b9bff"/>
<rect x="328.9" y="278.8" width="5.5" height="5.5" fill="#a3a3ff"/>
<rect x="333.9" y="278.8" width="5.5" height="5.5" fill="#b3b3ff"/>
<rect x="338.9" y="278.8" width="5.5" height="5.5" fill="#bfbfff"/>
<rect x="343.9" y="278.8" width="5.5" height="5.5" fill="#cfcfff"/>
<rect x="348.9" y="278.8" width="5.5" height="5.5" fill="#d7d7ff"/>
<rect x="353.9" y="278.8" width="5.5" height="5.5" fill="#e3e3ff"/>
<rect x="358.9" y="278.8" width="5.5" height="5.5" fill="#efefff"/>
<rect x="363.9" y="278.8" width="5.5" height="5.5" fill="#f3f3ff"/>
<rect x="368.9" y="278.8" width="5.5" height="5.5" fill="#f7f7ff"/>
<rect x="373.9" y="278.8" width="10.5" height="5.5" fill="#fbfbff"/>
<rect x="38.9" y="283.8" width="10.5" height="5.5" fill="#cfcfff"/>
<rect x="48.9" y="283.8" width="5.5" height="5.5" fill="#dbdbff"/>
<rect x="53.9" y="283.8" width="10.5" height="5.5" fill="#f3f3ff"/>
<rect x="63.9" y="283.8" width="40.5" height="5.5" fill="#efefff"/>
<rect x="103.9" y="283.8" width="10.5" height="5.5" fill="#f3f3ff"/>
<rect x="113.9" y="283.8" width="5.5" height="5.5" fill="#efefff"/>
<rect x="118.9" y="283.8" width="5.5" height="5.5" fill="#e7e7ff"/>
<rect x="123.9" y="283.8" width="5.5" height="5.5" fill="#dfdfff"/>
<rect x="128.9" y="283.8" width="10.5" height="5.5" fill="#dbdbff"/>
<rect x="138.9" y="283.8" width="5.5" height="5.5" fill="#d7d7ff"/>
<rect x="143.9" y="283.8" width="5.5" height="5.5" fill="#dbdbff"/>
<rect x="148.9" y="283.8" width="10.5" height="5.5" fill="#dfdfff"/>
<rect x="158.9" y="283.8" width="5.5" height="5.5" fill="#e3e3ff"/>
<rect x="163.9" y="283.8" width="10.5" height="5.5" fill="#dfdfff"/>
<rect x="173.9" y="283.8" width="5.5" height="5.5" fill="#dbdbff"/>
<rect x="178.9" y="283.8" width="5.5" height="5.5" fill="#cfcfff"/>
<rect x="183.9" y="283.8" width="5.5" height="5.5" fill="#c3c3ff"/>
<rect x="188.9" y="283.8" width="5.5" height="5.5" fill="#b7b7ff"/>
<rect x="193.9" y="283.8" width="5.5" height="5.5" fill="#b3b3ff"/>
<rect x="198.9" y="283.8" width="5.5" height="5.5" fill="#afafff"/>
<rect x="203.9" y="283.8" width="5.5" height="5.5" fill="#a7a7ff"/>
<rect x="208.9" y="283.8" width="5.5" height="5.5" fill="#a3a3ff"/>
<rect x="213.9" y="283.8" width="5.5" height="5.5" fill="#9b9bff"/>
<rect x="218.9" y="283.8" width="5.5" height="5.5" fill="#9797ff"/>
<rect x="223.9" y="283.8" width="5.5" height="5.5" fill="#9393ff"/>
<rect x="228.9" y="283.8" width="5.5" height="5.5" fill="#8f8fff"/>
<rect x="233.9" y="283.8" width="30.5" height="5.5" fill="#8b8bff"/>
<rect x="263.9" y="283.8" width="30.5" height="5.5" fill="#8f8fff"/>
<rect x="293.9" y="283.8" width="10.5" height="5.5" fill="#8b8bff"/>
<rect x="303.9" y="283.8" width="5.5" height="5.5" fill="#8f8fff"/>
<rect x="308.9" y="283.8" width="5.5" height="5.5" fill="#9393ff"/>
<rect x="313.9" y="283.8" width="5.5" height="5.5" fill="#9797ff"/>
<rect x="318.9" y="283.8" width="5.5" height="5.5" fill="#9b9bff"/>
<rect x="323.9" y="283.8" width="5.5" height="5.5" fill="#a3a3ff"/>
<rect x="328.9" y="283.8" width="5.5" height="5.5" fill="#ababff"/>
<rect x="333.9" y="283.8" width="5.5" height="5.5" fill="#b7b7ff"/>
<rect x="338.9" y="283.8" width="5.5" height="5.5" fill="#c7c7ff"/>
<rect x="343.9" y="283.8" width="5.5" height="5.5" fill="#d3d3ff"/>
<rect x="348.9" y="283.8" width="5.5" height="5.5" fill="#dbdbff"/>
<rect x="353.9" y="283.8" width="5.5" height="5.5" fill="#e7e7ff"/>
<rect x="358.9" y="283.8" width="5.5" height="5.5" fill="#efefff"/>
<rect x="363.9" y="283.8" width="5.5" height="5.5" fill="#f3f3ff"/>
<rect x="368.9" y="283.8" width="5.5" height="5.5" fill="#f7f7ff"/>
<rect x="373.9" y="283.8" width="10.5" height="5.5" fill="#fbfbff"/>
<rect x="403.9" y="283.8" width="20.5" height="5.5" fill="#fffbfb"/>
<rect x="38.9" y="288.8" width="10.5" height="5.5" fill="#e7e7ff"/>
<rect x="48.9" y="288.8" width="5.5" height="5.5" fill="#ebebff"/>
<rect x="53.9" y="288.8" width="10.5" height="5.5" fill="#f3f3ff"/>
<rect x="63.9" y="288.8" width="10.5" height="5.5" fill="#efefff"/>
<rect x="73.9" y="288.8" width="10.5" height="5.5" fill="#ebebff"/>
<rect x="83.9" y="288.8" width="30.5" height="5.5" fill="#e7e7ff"/>
<rect x="113.9" y="288.8" width="5.5" height="5.5" fill="#dfdfff"/>
<rect x="118.9" y="288.8" width="5.5" height="5.5" fill="#d7d7ff"/>
<rect x="123.9" y="288.8" width="5.5" height="5.5" fill="#cbcbff"/>
<rect x="128.9" y="288.8" width="5.5" height="5.5" fill="#c3c3ff"/>
<rect x="133.9" y="288.8" width="5.5" height="5.5" fill="#bfbfff"/>
<rect x="138.9" y="288.8" width="10.5" height="5.5" fill="#bbbbff"/>
<rect x="148.9" y="288.8" width="5.5" height="5.5" fill="#c3c3ff"/>
<rect x="153.9" y="288.8" width="5.5" height="5.5" fill="#c7c7ff"/>
<rect x="158.9" y="288.8" width="15.5" height="5.5" fill="#cbcbff"/>
<rect x="173.9" y="288.8" width="5.5" height="5.5" fill="#c7c7ff"/>
<rect x="178.9" y="288.8" width="5.5" height="5.5" fill="#bfbfff"/>
<rect x="183.9" y="288.8" width="5.5" height="5.5" fill="#b3b3ff"/>
<rect x="188.9" y="288.8" width="5.5" height="5.5" fill="#ababff"/>
<rect x="193.9" y="288.8" width="10.5" height="5.5" fill="#a7a7ff"/>
<rect x="203.9" y="288.8" width="5.5" height="5.5" fill="#a3a3ff"/>
<rect x="208.9" y="288.8" width="5.5" height="5.5" fill="#9f9fff"/>
<rect x="213.9" y="288.8" width="5.5" height="5.5" fill="#9b9bff"/>
<rect x="218.9" y="288.8" width="5.5" height="5.5" fill="#9797ff"/>
<rect x="223.9" y="288.8" width="10.5" height="5.5" fill="#9393ff"/>
<rect x="233.9" y="288.8" width="20.5" height="5.5" fill="#8f8fff"/>
<rect x="253.9" y="288.8" width="10.5" height="5.5" fill="#9393ff"/>
<rect x="263.9" y="288.8" width="30.5" height="5.5" fill="#9797ff"/>
<rect x="293.9" y="288.8" width="10.5" height="5.5" fill="#9393ff"/>
<rect x="303.9" y="288.8" width="10.5" height="5.5" fill="#9797ff"/>
<rect x="313.9" y="288.8" width="5.5" height="5.5" fill="#9f9fff"/>
<rect x="318.9" y="288.8" width="5.5" height="5.5" fill="#a3a3ff"/>
<rect x="323.9" y="288.8" width="5.5" height="5.5" fill="#ababff"/>
<rect x="328.9" y="288.8" width="5.5" height="5.5" fill="#b3b3ff"/>
<rect x="333.9" y="288.8" width="5.5" height="5.5" fill="#bfbfff"/>
<rect x="338.9" y="288.8" width="5.5" height="5.5" fill="#cbcbff"/>
<rect x="343.9" y="288.8" width="5.5" height="5.5" fill="#d7d7ff"/>
<rect x="348.9" y="288.8" width="5.5" height="5.5" fill="#dfdfff"/>
<rect x="353.9" y="288.8" width="5.5" height="5.5" fill="#ebebff"/>
<rect x="358.9" y="288.8" width="5.5" height="5.5" fill="#f3f3ff"/>
<rect x="363.9" y="288.8" width="5.5" height="5.5" fill="#f7f7ff"/>
<rect x="368.9" y="288.8" width="10.5" height="5.5" fill="#fbfbff"/>
<rect x="398.9" y="288.8" width="25.5" height="5.5" fill="#fffbfb"/>
<rect x="38.9" y="293.8" width="10.5" height="5.5" fill="#f7f7ff"/>
<rect x="48.9" y="293.8" width="5.5" height="5.5" fill="#fbfbff"/>
<rect x="53.9" y="293.8" width="5.5" height="5.5" fill="#f7f7ff"/>
<rect x="58.9" y="293.8" width="5.5" height="5.5" fill="#f3f3ff"/>
<rect x="63.9" y="293.8" width="10.5" height="5.5" fill="#efefff"/>
<rect x="73.9" y="293.8" width="10.5" height="5.5" fill="#ebebff"/>
<rect x="83.9" y="293.8" width="30.5" height="5.5" fill="#e7e7ff"/>
<rect x="113.9" y="293.8" width="5.5" height="5.5" fill="#dfdfff"/>
<rect x="118.9" y="293.8" width="5.5" height="5.5" fill="#d3d3ff"/>
<rect x="123.9" y="293.8" width="5.5" height="5.5" fill="#cbcbff"/>
<rect x="128.9" y="293.8" width="5.5" height="5.5" fill="#c3c3ff"/>
<rect x="133.9" y="293.8" width="5.5" height="5.5" fill="#bfbfff"/>
<rect x="138.9" y="293.8" width="10.5" height="5.5" fill="#bbbbff"/>
<rect x="148.9" y="293.8" width="5.5" height="5.5" fill="#bfbfff"/>
<rect x="153.9" y="293.8" width="5.5" height="5.5" fill="#c3c3ff"/>
<rect x="158.9" y="293.8" width="15.5" height="5.5" fill="#c7c7ff"/>
<rect x="173.9" y="293.8" width="5.5" height="5.5" fill="#c3c3ff"/>
<rect x="178.9" y="293.8" width="5.5" height="5.5" fill="#bbbbff"/>
<rect x="183.9" y="293.8" width="5.5" height="5.5" fill="#b3b3ff"/>
<rect x="188.9" y="293.8" width="5.5" height="5.5" fill="#afafff"/>
<rect x="193.9" y="293.8" width="15.5" height="5.5" fill="#ababff"/>
<rect x="208.9" y="293.8" width="5.5" height="5.5" fill="#a7a7ff"/>
<rect x="213.9" y="293.8" width="5.5" height="5.5" fill="#a3a3ff"/>
<rect x="218.9" y="293.8" width="10.5" height="5.5" fill="#9f9fff"/>
<rect x="228.9" y="293.8" width="25.5" height="5.5" fill="#9b9bff"/>
<rect x="253.9" y="293.8" width="10.5" height="5.5" fill="#9f9fff"/>
<rect x="263.9" y="293.8" width="25.5" height="5.5" fill="#a3a3ff"/>
<rect x="288.9" y="293.8" width="20.5" height="5.5" fill="#9f9fff"/>
<rect x="308.9" y="293.8" width="5.5" height="5.5" fill="#a3a3ff"/>
<rect x="313.9" y="293.8" width="5.5" height="5.5" fill="#a7a7ff"/>
<rect x="318.9" y="293.8" width="5.5" height="5.5" fill="#afafff"/>
<rect x="323.9" y="293.8" width="5.5" height="5.5" fill="#b3b3ff"/>
<rect x="328.9" y="293.8" width="5.5" height="5.5" fill="#bbbbff"/>
<rect x="333.9" y="293.8" width="5.5" height="5.5" fill="#c7c7ff"/>
<rect x="338.9" y="293.8" width="5.5" height="5.5" fill="#d3d3ff"/>
<rect x="343.9" y="293.8" width="5.5" height="5.5" fill="#dfdfff"/>
<rect x="348.9" y="293.8" width="5.5" height="5.5" fill="#e7e7ff"/>
<rect x="353.9" y="293.8" width="5.5" height="5.5" fill="#efefff"/>
<rect x="358.9" y="293.8" width="10.5" height="5.5" fill="#f7f7ff"/>
<rect x="368.9" y="293.8" width="5.5" height="5.5" fill="#fbfbff"/>
<rect x="398.9" y="293.8" width="25.5" height="5.5" fill="#fffbfb"/>
<rect x="53.9" y="298.8" width="5.5" height="5.5" fill="#fbfbff"/>
<rect x="58.9" y="298.8" width="5.5" height="5.5" fill="#f3f3ff"/>
<rect x="63.9" y="298.8" width="10.5" height="5.5" fill="#efefff"/>
<rect x="73.9" y="298.8" width="10.5" height="5.5" fill="#ebebff"/>
<rect x="83.9" y="298.8" width="30.5" height="5.5" fill="#e7e7ff"/>
<rect x="113.9" y="298.8" width="5.5" height="5.5" fill="#dfdfff"/>
<rect x="118.9" y="298.8" width="5.5" height="5.5" fill="#d3d3ff"/>
<rect x="123.9" y="298.8" width="5.5" height="5.5" fill="#cbcbff"/>
<rect x="128.9" y="298.8" width="5.5" height="5.5" fill="#c3c3ff"/>
<rect x="133.9" y="298.8" width="5.5" height="5.5" fill="#bfbfff"/>
<rect x="138.9" y="298.8" width="15.5" height="5.5" fill="#bbbbff"/>
<rect x="153.9" y="298.8" width="5.5" height="5.5" fill="#bfbfff"/>
<rect x="158.9" y="298.8" width="15.5" height="5.5" fill="#c3c3ff"/>
<rect x="173.9" y="298.8" width="5.5" height="5.5" fill="#bfbfff"/>
<rect x="178.9" y="298.8" width="5.5" height="5.5" fill="#bbbbff"/>
<rect x="183.9" y="298.8" width="5.5" height="5.5" fill="#b7b7ff"/>
<rect x="188.9" y="298.8" width="20.5" height="5.5" fill="#afafff"/>
<rect x="208.9" y="298.8" width="10.5" height="5.5" fill="#ababff"/>
<rect x="218.9" y="298.8" width="40.5" height="5.5" fill="#a7a7ff"/>
<rect x="258.9" y="298.8" width="10.5" height="5.5" fill="#ababff"/>
<rect x="268.9" y="298.8" width="15.5" height="5.5" fill="#afafff"/>
<rect x="283.9" y="298.8" width="10.5" height="5.5" fill="#ababff"/>
<rect x="293.9" y="298.8" width="10.5" height="5.5" fill="#a7a7ff"/>
<rect x="303.9" y="298.8" width="10.5" height="5.5" fill="#ababff"/>
<rect x="313.9" y="298.8" width="5.5" height="5.5" fill="#b3b3ff"/>
<rect x="318.9" y="298.8" width="5.5" height="5.5" fill="#b7b7ff"/>
<rect x="323.9" y="298.8" width="5.5" height="5.5" fill="#bfbfff"/>
<rect x="328.9" y="298.8" width="5.5" height="5.5" fill="#c7c7ff"/>
<rect x="333.9" y="298.8" width="5.5" height="5.5" fill="#cfcfff"/>
<rect x="338.9" y="298.8" width="5.5" height="5.5" fill="#dbdbff"/>
<rect x="343.9" y="298.8" width="5.5" height="5.5" fill="#e3e3ff"/>
<rect x="348.9" y="298.8" width="5.5" height="5.5" fill="#ebebff"/>
<rect x="353.9" y="298.8" width="5.5" height="5.5" fill="#f3f3ff"/>
<rect x="358.9" y="298.8" width="5.5" height="5.5" fill="#f7f7ff"/>
<rect x="363.9" y="298.8" width="10.5" height="5.5" fill="#fbfbff"/>
<rect x="393.9" y="298.8" width="30.5" height="5.5" fill="#fffbfb"/>
<rect x="53.9" y="303.8" width="5.5" height="5.5" fill="#fbfbff"/>
<rect x="58.9" y="303.8" width="5.5" height="5.5" fill="#f7f7ff"/>
<rect x="63.9" y="303.8" width="5.5" height="5.5" fill="#f3f3ff"/>
<rect x="68.9" y="303.8" width="10.5" height="5.5" fill="#efefff"/>
<rect x="78.9" y="303.8" width="10.5" height="5.5" fill="#ebebff"/>
<rect x="88.9" y="303.8" width="25.5" height="5.5" fill="#e7e7ff"/>
<rect x="113.9" y="303.8" width="5.5" height="5.5" fill="#dfdfff"/>
<rect x="118.9" y="303.8" width="5.5" height="5.5" fill="#d7d7ff"/>
<rect x="123.9" y="303.8" width="5.5" height="5.5" fill="#cfcfff"/>
<rect x="128.9" y="303.8" width="5.5" height="5.5" fill="#c7c7ff"/>
<rect x="133.9" y="303.8" width="5.5" height="5.5" fill="#c3c3ff"/>
<rect x="138.9" y="303.8" width="40.5" height="5.5" fill="#bfbfff"/>
<rect x="178.9" y="303.8" width="5.5" height="5.5" fill="#bbbbff"/>
<rect x="183.9" y="303.8" width="20.5" height="5.5" fill="#b7b7ff"/>
<rect x="203.9" y="303.8" width="15.5" height="5.5" fill="#b3b3ff"/>
<rect x="218.9" y="303.8" width="35.5" height="5.5" fill="#afafff"/>
<rect x="253.9" y="303.8" width="10.5" height="5.5" fill="#b3b3ff"/>
<rect x="263.9" y="303.8" width="25.5" height="5.5" fill="#b7b7ff"/>
<rect x="288.9" y="303.8" width="20.5" height="5.5" fill="#b3b3ff"/>
<rect x="308.9" y="303.8" width="5.5" height="5.5" fill="#b7b7ff"/>
<rect x="313.9" y="303.8" width="5.5" height="5.5" fill="#bbbbff"/>
<rect x="318.9" y="303.8" width="5.5" height="5.5" fill="#c3c3ff"/>
<rect x="323.9" y="303.8" width="5.5" height="5.5" fill="#c7c7ff"/>
<rect x="328.9" y="303.8" width="5.5" height="5.5" fill="#cfcfff"/>
<rect x="333.9" y="303.8" width="5.5" height="5.5" fill="#d7d7ff"/>
<rect x="338.9" y="303.8" width="5.5" height="5.5" fill="#e3e3ff"/>
<rect x="343.9" y="303.8" width="5.5" height="5.5" fill="#ebebff"/>
<rect x="348.9" y="303.8" width="5.5" height="5.5" fill="#efefff"/>
<rect x="353.9" y="303.8" width="5.5" height="5.5" fill="#f7f7ff"/>
<rect x="358.9" y="303.8" width="10.5" height="5.5" fill="#fbfbff"/>
<rect x="393.9" y="303.8" width="30.5" height="5.5" fill="#fffbfb"/>
<rect x="53.9" y="308.8" width="5.5" height="5.5" fill="#fbfbff"/>
<rect x="58.9" y="308.8" width="10.5" height="5.5" fill="#f7f7ff"/>
<rect x="68.9" y="308.8" width="10.5" height="5.5" fill="#f3f3ff"/>
<rect x="78.9" y="308.8" width="10.5" height="5.5" fill="#efefff"/>
<rect x="88.9" y="308.8" width="15.5" height="5.5" fill="#ebebff"/>
<rect x="103.9" y="308.8" width="10.5" height="5.5" fill="#e7e7ff"/>
<rect x="113.9" y="308.8" width="5.5" height="5.5" fill="#e3e3ff"/>
<rect x="118.9" y="308.8" width="5.5" height="5.5" fill="#dbdbff"/>
<rect x="123.9" y="308.8" width="5.5" height="5.5" fill="#d3d3ff"/>
<rect x="128.9" y="308.8" width="5.5" height="5.5" fill="#cfcfff"/>
<rect x="133.9" y="308.8" width="5.5" height="5.5" fill="#cbcbff"/>
<rect x="138.9" y="308.8" width="5.5" height="5.5" fill="#c7c7ff"/>
<rect x="143.9" y="308.8" width="35.5" height="5.5" fill="#c3c3ff"/>
<rect x="178.9" y="308.8" width="5.5" height="5.5" fill="#bfbfff"/>
<rect x="183.9" y="308.8" width="30.5" height="5.5" fill="#bbbbff"/>
<rect x="213.9" y="308.8" width="40.5" height="5.5" fill="#b7b7ff"/>
<rect x="253.9" y="308.8" width="10.5" height="5.5" fill="#bbbbff"/>
<rect x="263.9" y="308.8" width="15.5" height="5.5" fill="#bfbfff"/>
<rect x="278.9" y="308.8" width="5.5" height="5.5" fill="#c3c3ff"/>
<rect x="283.9" y="308.8" width="10.5" height="5.5" fill="#bfbfff"/>
<rect x="293.9" y="308.8" width="10.5" height="5.5" fill="#bbbbff"/>
<rect x="303.9" y="308.8" width="5.5" height="5.5" fill="#bfbfff"/>
<rect x="308.9" y="308.8" width="5.5" height="5.5" fill="#c3c3ff"/>
<rect x="313.9" y="308.8" width="5.5" height="5.5" fill="#c7c7ff"/>
<rect x="318.9" y="308.8" width="5.5" height="5.5" fill="#cbcbff"/>
<rect x="323.9" y="308.8" width="5.5" height="5.5" fill="#d3d3ff"/>
<rect x="328.9" y="308.8" width="5.5" height="5.5" fill="#d7d7ff"/>
<rect x="333.9" y="308.8" width="5.5" height="5.5" fill="#dfdfff"/>
<rect x="338.9" y="308.8" width="5.5" height="5.5" fill="#e7e7ff"/>
<rect x="343.9" y="308.8" width="5.5" height="5.5" fill="#efefff"/>
<rect x="348.9" y="308.8" width="5.5" height="5.5" fill="#f3f3ff"/>
<rect x="353.9" y="308.8" width="5.5" height="5.5" fill="#f7f7ff"/>
<rect x="358.9" y="308.8" width="10.5" height="5.5" fill="#fbfbff"/>
<rect x="398.9" y="308.8" width="25.5" height="5.5" fill="#fffbfb"/>
<rect x="53.9" y="313.8" width="10.5" height="5.5" fill="#fbfbff"/>
<rect x="63.9" y="313.8" width="10.5" height="5.5" fill="#f7f7ff"/>
<rect x="73.9" y="313.8" width="10.5" height="5.5" fill="#f3f3ff"/>
<rect x="83.9" y="313.8" width="15.5" height="5.5" fill="#efefff"/>
<rect x="98.9" y="313.8" width="5.5" height="5.5" fill="#ebebff"/>
<rect x="103.9" y="313.8" width="5.5" height="5.5" fill="#e7e7ff"/>
<rect x="108.9" y="313.8" width="5.5" height="5.5" fill="#e3e3ff"/>
<rect x="113.9" y="313.8" width="5.5" height="5.5" fill="#dfdfff"/>
<rect x="118.9" y="313.8" width="5.5" height="5.5" fill="#dbdbff"/>
<rect x="123.9" y="313.8" width="5.5" height="5.5" fill="#d7d7ff"/>
<rect x="128.9" y="313.8" width="5.5" height="5.5" fill="#d3d3ff"/>
<rect x="133.9" y="313.8" width="5.5" height="5.5" fill="#cfcfff"/>
<rect x="138.9" y="313.8" width="5.5" height="5.5" fill="#cbcbff"/>
<rect x="143.9" y="313.8" width="5.5" height="5.5" fill="#c7c7ff"/>
<rect x="148.9" y="313.8" width="10.5" height="5.5" fill="#c3c3ff"/>
<rect x="158.9" y="313.8" width="25.5" height="5.5" fill="#bfbfff"/>
<rect x="183.9" y="313.8" width="35.5" height="5.5" fill="#bbbbff"/>
<rect x="218.9" y="313.8" width="40.5" height="5.5" fill="#bfbfff"/>
<rect x="258.9" y="313.8" width="5.5" height="5.5" fill="#c3c3ff"/>
<rect x="263.9" y="313.8" width="10.5" height="5.5" fill="#c7c7ff"/>
<rect x="273.9" y="313.8" width="15.5" height="5.5" fill="#cbcbff"/>
<rect x="288.9" y="313.8" width="15.5" height="5.5" fill="#c7c7ff"/>
<rect x="303.9" y="313.8" width="10.5" height="5.5" fill="#cbcbff"/>
<rect x="313.9" y="313.8" width="5.5" height="5.5" fill="#cfcfff"/>
<rect x="318.9" y="313.8" width="5.5" height="5.5" fill="#d7d7ff"/>
<rect x="323.9" y="313.8" width="5.5" height="5.5" fill="#dbdbff"/>
<rect x="328.9" y="313.8" width="5.5" height="5.5" fill="#e3e3ff"/>
<rect x="333.9" y="313.8" width="5.5" height="5.5" fill="#e7e7ff"/>
<rect x="338.9" y="313.8" width="5.5" height="5.5" fill="#efefff"/>
<rect x="343.9" y="313.8" width="5.5" height="5.5" fill="#f3f3ff"/>
<rect x="348.9" y="313.8" width="5.5" height="5.5" fill="#f7f7ff"/>
<rect x="353.9" y="313.8" width="10.5" height="5.5" fill="#fbfbff"/>
<rect x="398.9" y="313.8" width="25.5" height="5.5" fill="#fffbfb"/>
<rect x="53.9" y="318.8" width="10.5" height="5.5" fill="#fbfbff"/>
<rect x="63.9" y="318.8" width="10.5" height="5.5" fill="#f7f7ff"/>
<rect x="73.9" y="318.8" width="5.5" height="5.5" fill="#f3f3ff"/>
<rect x="78.9" y="318.8" width="10.5" height="5.5" fill="#efefff"/>
<rect x="88.9" y="318.8" width="10.5" height="5.5" fill="#ebebff"/>
<rect x="98.9" y="318.8" width="5.5" height="5.5" fill="#e3e3ff"/>
<rect x="103.9" y="318.8" width="5.5" height="5.5" fill="#dfdfff"/>
<rect x="108.9" y="318.8" width="5.5" height="5.5" fill="#d7d7ff"/>
<rect x="113.9" y="318.8" width="5.5" height="5.5" fill="#d3d3ff"/>
<rect x="118.9" y="318.8" width="5.5" height="5.5" fill="#cbcbff"/>
<rect x="123.9" y="318.8" width="5.5" height="5.5" fill="#c3c3ff"/>
<rect x="128.9" y="318.8" width="5.5" height="5.5" fill="#bbbbff"/>
<rect x="133.9" y="318.8" width="5.5" height="5.5" fill="#b7b7ff"/>
<rect x="138.9" y="318.8" width="5.5" height="5.5" fill="#afafff"/>
<rect x="143.9" y="318.8" width="10.5" height="5.5" fill="#a7a7ff"/>
<rect x="153.9" y="318.8" width="15.5" height="5.5" fill="#a3a3ff"/>
<rect x="168.9" y="318.8" width="20.5" height="5.5" fill="#a7a7ff"/>
<rect x="188.9" y="318.8" width="10.5" height="5.5" fill="#ababff"/>
<rect x="198.9" y="318.8" width="5.5" height="5.5" fill="#afafff"/>
<rect x="203.9" y="318.8" width="5.5" height="5.5" fill="#b3b3ff"/>
<rect x="208.9" y="318.8" width="5.5" height="5.5" fill="#b7b7ff"/>
<rect x="213.9" y="318.8" width="5.5" height="5.5" fill="#bbbbff"/>
<rect x="218.9" y="318.8" width="10.5" height="5.5" fill="#bfbfff"/>
<rect x="228.9" y="318.8" width="10.5" height="5.5" fill="#c3c3ff"/>
<rect x="238.9" y="318.8" width="15.5" height="5.5" fill="#c7c7ff"/>
<rect x="253.9" y="318.8" width="5.5" height="5.5" fill="#cbcbff"/>
<rect x="258.9" y="318.8" width="10.5" height="5.5" fill="#cfcfff"/>
<rect x="268.9" y="318.8" width="10.5" height="5.5" fill="#d3d3ff"/>
<rect x="278.9" y="318.8" width="5.5" height="5.5" fill="#d7d7ff"/>
<rect x="283.9" y="318.8" width="10.5" height="5.5" fill="#d3d3ff"/>
<rect x="293.9" y="318.8" width="10.5" height="5.5" fill="#cfcfff"/>
<rect x="303.9" y="318.8" width="5.5" height="5.5" fill="#d3d3ff"/>
<rect x="308.9" y="318.8" width="10.5" height="5.5" fill="#d7d7ff"/>
<rect x="318.9" y="318.8" width="5.5" height="5.5" fill="#dfdfff"/>
<rect x="323.9" y="318.8" width="5.5" height="5.5" fill="#e3e3ff"/>
<rect x="328.9" y="318.8" width="5.5" height="5.5" fill="#e7e7ff"/>
<rect x="333.9" y="318.8" width="5.5" height="5.5" fill="#ebebff"/>
<rect x="338.9" y="318.8" width="5.5" height="5.5" fill="#f3f3ff"/>
<rect x="343.9" y="318.8" width="10.5" height="5.5" fill="#f7f7ff"/>
<rect x="353.9" y="318.8" width="5.5" height="5.5" fill="#fbfbff"/>
<rect x="53.9" y="323.8" width="10.5" height="5.5" fill="#fbfbff"/>
<rect x="63.9" y="323.8" width="10.5" height="5.5" fill="#f7f7ff"/>
<rect x="73.9" y="323.8" width="5.5" height="5.5" fill="#f3f3ff"/>
<rect x="78.9" y="323.8" width="5.5" height="5.5" fill="#efefff"/>
<rect x="83.9" y="323.8" width="5.5" height="5.5" fill="#ebebff"/>
<rect x="88.9" y="323.8" width="5.5" height="5.5" fill="#e7e7ff"/>
<rect x="93.9" y="323.8" width="5.5" height="5.5" fill="#e3e3ff"/>
<rect x="98.9" y="323.8" width="5.5" height="5.5" fill="#dfdfff"/>
<rect x="103.9" y="323.8" width="5.5" height="5.5" fill="#d3d3ff"/>
<rect x="108.9" y="323.8" width="5.5" height="5.5" fill="#cbcbff"/>
<rect x="113.9" y="323.8" width="5.5" height="5.5" fill="#c3c3ff"/>
<rect x="118.9" y="323.8" width="5.5" height="5.5" fill="#bbbbff"/>
<rect x="123.9" y="323.8" width="5.5" height="5.5" fill="#afafff"/>
<rect x="128.9" y="323.8" width="5.5" height="5.5" fill="#a7a7ff"/>
<rect x="133.9" y="323.8" width="5.5" height="5.5" fill="#9b9bff"/>
<rect x="138.9" y="323.8" width="5.5" height="5.5" fill="#8f8fff"/>
<rect x="143.9" y="323.8" width="5.5" height="5.5" fill="#8b8bff"/>
<rect x="148.9" y="323.8" width="5.5" height="5.5" fill="#8787ff"/>
<rect x="153.9" y="323.8" width="10.5" height="5.5" fill="#8383ff"/>
<rect x="163.9" y="323.8" width="10.5" height="5.5" fill="#8787ff"/>
<rect x="173.9" y="323.8" width="5.5" height="5.5" fill="#8b8bff"/>
<rect x="178.9" y="323.8" width="5.5" height="5.5" fill="#8f8fff"/>
<rect x="183.9" y="323.8" width="5.5" height="5.5" fill="#9393ff"/>
<rect x="188.9" y="323.8" width="5.5" height="5.5" fill="#9797ff"/>
<rect x="193.9" y="323.8" width="5.5" height="5.5" fill="#9b9bff"/>
<rect x="198.9" y="323.8" width="5.5" height="5.5" fill="#a3a3ff"/>
<rect x="203.9" y="323.8" width="5.5" height="5.5" fill="#ababff"/>
<rect x="208.9" y="323.8" width="5.5" height="5.5" fill="#b3b3ff"/>
<rect x="213.9" y="323.8" width="5.5" height="5.5" fill="#b7b7ff"/>
<rect x="218.9" y="323.8" width="5.5" height="5.5" fill="#bfbfff"/>
<rect x="223.9" y="323.8" width="5.5" height="5.5" fill="#c3c3ff"/>
<rect x="228.9" y="323.8" width="5.5" height="5.5" fill="#c7c7ff"/>
<rect x="233.9" y="323.8" width="5.5" height="5.5" fill="#cbcbff"/>
<rect x="238.9" y="323.8" width="10.5" height="5.5" fill="#cfcfff"/>
<rect x="248.9" y="323.8" width="10.5" height="5.5" fill="#d3d3ff"/>
<rect x="258.9" y="323.8" width="5.5" height="5.5" fill="#d7d7ff"/>
<rect x="263.9" y="323.8" width="10.5" height="5.5" fill="#dbdbff"/>
<rect x="273.9" y="323.8" width="15.5" height="5.5" fill="#dfdfff"/>
<rect x="288.9" y="323.8" width="20.5" height="5.5" fill="#dbdbff"/>
<rect x="308.9" y="323.8" width="5.5" height="5.5" fill="#dfdfff"/>
<rect x="313.9" y="323.8" width="5.5" height="5.5" fill="#e3e3ff"/>
<rect x="318.9" y="323.8" width="5.5" height="5.5" fill="#e7e7ff"/>
<rect x="323.9" y="323.8" width="5.5" height="5.5" fill="#ebebff"/>
<rect x="328.9" y="323.8" width="5.5" height="5.5" fill="#efefff"/>
<rect x="333.9" y="323.8" width="10.5" height="5.5" fill="#f3f3ff"/>
<rect x="343.9" y="323.8" width="5.5" height="5.5" fill="#f7f7ff"/>
<rect x="348.9" y="323.8" width="10.5" height="5.5" fill="#fbfbff"/>
<rect x="58.9" y="328.8" width="10.5" height="5.5" fill="#fbfbff"/>
<rect x="68.9" y="328.8" width="10.5" height="5.5" fill="#f7f7ff"/>
<rect x="78.9" y="328.8" width="5.5" height="5.5" fill="#f3f3ff"/>
<rect x="83.9" y="328.8" width="10.5" height="5.5" fill="#efefff"/>
<rect x="93.9" y="328.8" width="5.5" height="5.5" fill="#ebebff"/>
<rect x="98.9" y="328.8" width="5.5" height="5.5" fill="#e3e3ff"/>
<rect x="103.9" y="328.8" width="5.5" height="5.5" fill="#dbdbff"/>
<rect x="108.9" y="328.8" width="5.5" height="5.5" fill="#d3d3ff"/>
<rect x="113.9" y="328.8" width="5.5" height="5.5" fill="#cbcbff"/>
<rect x="118.9" y="328.8" width="5.5" height="5.5" fill="#c3c3ff"/>
<rect x="123.9" y="328.8" width="5.5" height="5.5" fill="#bbbbff"/>
<rect x="128.9" y="328.8" width="5.5" height="5.5" fill="#b3b3ff"/>
<rect x="133.9" y="328.8" width="5.5" height="5.5" fill="#a7a7ff"/>
<rect x="138.9" y="328.8" width="5.5" height="5.5" fill="#9f9fff"/>
<rect x="143.9" y="328.8" width="25.5" height="5.5" fill="#9797ff"/>
<rect x="168.9" y="328.8" width="10.5" height="5.5" fill="#9b9bff"/>
<rect x="178.9" y="328.8" width="5.5" height="5.5" fill="#9f9fff"/>
<rect x="183.9" y="328.8" width="5.5" height="5.5" fill="#a3a3ff"/>
<rect x="188.9" y="328.8" width="5.5" height="5.5" fill="#a7a7ff"/>
<rect x="193.9" y="328.8" width="5.5" height="5.5" fill="#afafff"/>
<rect x="198.9" y="328.8" width="5.5" height="5.5" fill="#b3b3ff"/>
<rect x="203.9" y="328.8" width="5.5" height="5.5" fill="#bbbbff"/>
<rect x="208.9" y="328.8" width="5.5" height="5.5" fill="#bfbfff"/>
<rect x="213.9" y="328.8" width="5.5" height="5.5" fill="#c7c7ff"/>
<rect x="218.9" y="328.8" width="5.5" height="5.5" fill="#cbcbff"/>
<rect x="223.9" y="328.8" width="5.5" height="5.5" fill="#cfcfff"/>
<rect x="228.9" y="328.8" width="5.5" height="5.5" fill="#d3d3ff"/>
<rect x="233.9" y="328.8" width="10.5" height="5.5" fill="#d7d7ff"/>
<rect x="243.9" y="328.8" width="10.5" height="5.5" fill="#dbdbff"/>
<rect x="253.9" y="328.8" width="10.5" height="5.5" fill="#dfdfff"/>
<rect x="263.9" y="328.8" width="15.5" height="5.5" fill="#e3e3ff"/>
<rect x="278.9" y="328.8" width="5.5" height="5.5" fill="#e7e7ff"/>
<rect x="283.9" y="328.8" width="25.5" height="5.5" fill="#e3e3ff"/>
<rect x="308.9" y="328.8" width="5.5" height="5.5" fill="#e7e7ff"/>
<rect x="313.9" y="328.8" width="10.5" height="5.5" fill="#ebebff"/>
<rect x="323.9" y="328.8" width="5.5" height="5.5" fill="#efefff"/>
<rect x="328.9" y="328.8" width="10.5" height="5.5" fill="#f3f3ff"/>
<rect x="338.9" y="328.8" width="5.5" height="5.5" fill="#f7f7ff"/>
<rect x="343.9" y="328.8" width="10.5" height="5.5" fill="#fbfbff"/>
<rect x="68.9" y="333.8" width="10.5" height="5.5" fill="#fbfbff"/>
<rect x="78.9" y="333.8" width="15.5" height="5.5" fill="#f7f7ff"/>
<rect x="93.9" y="333.8" width="5.5" height="5.5" fill="#f3f3ff"/>
<rect x="98.9" y="333.8" width="5.5" height="5.5" fill="#efefff"/>
<rect x="103.9" y="333.8" width="5.5" height="5.5" fill="#e7e7ff"/>
<rect x="108.9" y="333.8" width="5.5" height="5.5" fill="#e3e3ff"/>
<rect x="113.9" y="333.8" width="5.5" height="5.5" fill="#dbdbff"/>
<rect x="118.9" y="333.8" width="5.5" height="5.5" fill="#d7d7ff"/>
<rect x="123.9" y="333.8" width="5.5" height="5.5" fill="#d3d3ff"/>
<rect x="128.9" y="333.8" width="5.5" height="5.5" fill="#cfcfff"/>
<rect x="133.9" y="333.8" width="5.5" height="5.5" fill="#c7c7ff"/>
<rect x="138.9" y="333.8" width="5.5" height="5.5" fill="#bfbfff"/>
<rect x="143.9" y="333.8" width="25.5" height="5.5" fill="#bbbbff"/>
<rect x="168.9" y="333.8" width="10.5" height="5.5" fill="#bfbfff"/>
<rect x="178.9" y="333.8" width="10.5" height="5.5" fill="#c3c3ff"/>
<rect x="188.9" y="333.8" width="5.5" height="5.5" fill="#c7c7ff"/>
<rect x="193.9" y="333.8" width="5.5" height="5.5" fill="#cbcbff"/>
<rect x="198.9" y="333.8" width="5.5" height="5.5" fill="#cfcfff"/>
<rect x="203.9" y="333.8" width="10.5" height="5.5" fill="#d3d3ff"/>
<rect x="213.9" y="333.8" width="10.5" height="5.5" fill="#d7d7ff"/>
<rect x="223.9" y="333.8" width="5.5" height="5.5" fill="#dbdbff"/>
<rect x="228.9" y="333.8" width="20.5" height="5.5" fill="#dfdfff"/>
<rect x="248.9" y="333.8" width="10.5" height="5.5" fill="#e3e3ff"/>
<rect x="258.9" y="333.8" width="45.5" height="5.5" fill="#e7e7ff"/>
<rect x="303.9" y="333.8" width="10.5" height="5.5" fill="#ebebff"/>
<rect x="313.9" y="333.8" width="10.5" height="5.5" fill="#efefff"/>
<rect x="323.9" y="333.8" width="5.5" height="5.5" fill="#f3f3ff"/>
<rect x="328.9" y="333.8" width="15.5" height="5.5" fill="#f7f7ff"/>
<rect x="343.9" y="333.8" width="15.5" height="5.5" fill="#fbfbff"/>
<rect x="38.9" y="338.8" width="20.5" height="5.5" fill="#fffbfb"/>
<rect x="73.9" y="338.8" width="20.5" height="5.5" fill="#fbfbff"/>
<rect x="93.9" y="338.8" width="5.5" height="5.5" fill="#f7f7ff"/>
<rect x="98.9" y="338.8" width="5.5" height="5.5" fill="#f3f3ff"/>
<rect x="103.9" y="338.8" width="5.5" height="5.5" fill="#efefff"/>
<rect x="108.9" y="338.8" width="5.5" height="5.5" fill="#e7e7ff"/>
<rect x="113.9" y="338.8" width="10.5" height="5.5" fill="#e3e3ff"/>
<rect x="123.9" y="338.8" width="5.5" height="5.5" fill="#dfdfff"/>
<rect x="128.9" y="338.8" width="5.5" height="5.5" fill="#dbdbff"/>
<rect x="133.9" y="338.8" width="5.5" height="5.5" fill="#d7d7ff"/>
<rect x="138.9" y="338.8" width="5.5" height="5.5" fill="#d3d3ff"/>
<rect x="143.9" y="338.8" width="30.5" height="5.5" fill="#cfcfff"/>
<rect x="173.9" y="338.8" width="10.5" height="5.5" fill="#d3d3ff"/>
<rect x="183.9" y="338.8" width="10.5" height="5.5" fill="#d7d7ff"/>
<rect x="193.9" y="338.8" width="10.5" height="5.5" fill="#dbdbff"/>
<rect x="203.9" y="338.8" width="25.5" height="5.5" fill="#dfdfff"/>
<rect x="228.9" y="338.8" width="10.5" height="5.5" fill="#e3e3ff"/>
<rect x="238.9" y="338.8" width="25.5" height="5.5" fill="#e7e7ff"/>
<rect x="263.9" y="338.8" width="40.5" height="5.5" fill="#ebebff"/>
<rect x="303.9" y="338.8" width="10.5" height="5.5" fill="#efefff"/>
<rect x="313.9" y="338.8" width="5.5" height="5.5" fill="#f3f3ff"/>
<rect x="318.9" y="338.8" width="30.5" height="5.5" fill="#f7f7ff"/>
<rect x="348.9" y="338.8" width="15.5" height="5.5" fill="#fbfbff"/>
<rect x="38.9" y="343.8" width="20.5" height="5.5" fill="#fffbfb"/>
<rect x="83.9" y="343.8" width="15.5" height="5.5" fill="#fbfbff"/>
<rect x="98.9" y="343.8" width="5.5" height="5.5" fill="#f7f7ff"/>
<rect x="103.9" y="343.8" width="5.5" height="5.5" fill="#efefff"/>
<rect x="108.9" y="343.8" width="5.5" height="5.5" fill="#ebebff"/>
<rect x="113.9" y="343.8" width="10.5" height="5.5" fill="#e7e7ff"/>
<rect x="123.9" y="343.8" width="10.5" height="5.5" fill="#e3e3ff"/>
<rect x="133.9" y="343.8" width="5.5" height="5.5" fill="#dfdfff"/>
<rect x="138.9" y="343.8" width="50.5" height="5.5" fill="#dbdbff"/>
<rect x="188.9" y="343.8" width="10.5" height="5.5" fill="#dfdfff"/>
<rect x="198.9" y="343.8" width="25.5" height="5.5" fill="#e3e3ff"/>
<rect x="223.9" y="343.8" width="20.5" height="5.5" fill="#e7e7ff"/>
<rect x="243.9" y="343.8" width="20.5" height="5.5" fill="#ebebff"/>
<rect x="263.9" y="343.8" width="45.5" height="5.5" fill="#efefff"/>
<rect x="308.9" y="343.8" width="10.5" height="5.5" fill="#f3f3ff"/>
<rect x="318.9" y="343.8" width="15.5" height="5.5" fill="#f7f7ff"/>
<rect x="333.9" y="343.8" width="25.5" height="5.5" fill="#fbfbff"/>
<rect x="38.9" y="348.8" width="30.5" height="5.5" fill="#fffbfb"/>
<rect x="88.9" y="348.8" width="10.5" height="5.5" fill="#fbfbff"/>
<rect x="98.9" y="348.8" width="5.5" height="5.5" fill="#f7f7ff"/>
<rect x="103.9" y="348.8" width="5.5" height="5.5" fill="#f3f3ff"/>
<rect x="108.9" y="348.8" width="15.5" height="5.5" fill="#ebebff"/>
<rect x="123.9" y="348.8" width="10.5" height="5.5" fill="#e7e7ff"/>
<rect x="133.9" y="348.8" width="10.5" height="5.5" fill="#e3e3ff"/>
<rect x="143.9" y="348.8" width="35.5" height="5.5" fill="#dfdfff"/>
<rect x="178.9" y="348.8" width="20.5" height="5.5" fill="#e3e3ff"/>
<rect x="198.9" y="348.8" width="25.5" height="5.5" fill="#e7e7ff"/>
<rect x="223.9" y="348.8" width="20.5" height="5.5" fill="#ebebff"/>
<rect x="243.9" y="348.8" width="55.5" height="5.5" fill="#efefff"/>
<rect x="298.9" y="348.8" width="15.5" height="5.5" fill="#f3f3ff"/>
<rect x="313.9" y="348.8" width="20.5" height="5.5" fill="#f7f7ff"/>
<rect x="333.9" y="348.8" width="20.5" height="5.5" fill="#fbfbff"/>
<rect x="38.9" y="353.8" width="30.5" height="5.5" fill="#fffbfb"/>
<rect x="93.9" y="353.8" width="10.5" height="5.5" fill="#fbfbff"/>
<rect x="103.9" y="353.8" width="5.5" height="5.5" fill="#f7f7ff"/>
<rect x="108.9" y="353.8" width="5.5" height="5.5" fill="#f3f3ff"/>
<rect x="113.9" y="353.8" width="15.5" height="5.5" fill="#efefff"/>
<rect x="128.9" y="353.8" width="10.5" height="5.5" fill="#ebebff"/>
<rect x="138.9" y="353.8" width="60.5" height="5.5" fill="#e7e7ff"/>
<rect x="198.9" y="353.8" width="30.5" height="5.5" fill="#ebebff"/>
<rect x="228.9" y="353.8" width="20.5" height="5.5" fill="#efefff"/>
<rect x="248.9" y="353.8" width="60.5" height="5.5" fill="#f3f3ff"/>
<rect x="308.9" y="353.8" width="20.5" height="5.5" fill="#f7f7ff"/>
<rect x="328.9" y="353.8" width="20.5" height="5.5" fill="#fbfbff"/>
<rect x="73.9" y="358.8" width="15.5" height="5.5" fill="#fbfbff"/>
<rect x="103.9" y="358.8" width="10.5" height="5.5" fill="#fbfbff"/>
<rect x="113.9" y="358.8" width="10.5" height="5.5" fill="#f7f7ff"/>
<rect x="123.9" y="358.8" width="10.5" height="5.5" fill="#f3f3ff"/>
<rect x="133.9" y="358.8" width="10.5" height="5.5" fill="#efefff"/>
<rect x="143.9" y="358.8" width="30.5" height="5.5" fill="#ebebff"/>
<rect x="173.9" y="358.8" width="15.5" height="5.5" fill="#e7e7ff"/>
<rect x="188.9" y="358.8" width="15.5" height="5.5" fill="#ebebff"/>
<rect x="203.9" y="358.8" width="35.5" height="5.5" fill="#efefff"/>
<rect x="238.9" y="358.8" width="10.5" height="5.5" fill="#f3f3ff"/>
<rect x="248.9" y="358.8" width="70.5" height="5.5" fill="#f7f7ff"/>
<rect x="318.9" y="358.8" width="20.5" height="5.5" fill="#fbfbff"/>
<rect x="378.9" y="358.8" width="25.5" height="5.5" fill="#fbfbff"/>
<rect x="63.9" y="363.8" width="25.5" height="5.5" fill="#fbfbff"/>
<rect x="98.9" y="363.8" width="20.5" height="5.5" fill="#fffbfb"/>
<rect x="123.9" y="363.8" width="5.5" height="5.5" fill="#fbfbff"/>
<rect x="128.9" y="363.8" width="5.5" height="5.5" fill="#f7f7ff"/>
<rect x="133.9" y="363.8" width="25.5" height="5.5" fill="#f3f3ff"/>
<rect x="158.9" y="363.8" width="10.5" height="5.5" fill="#efefff"/>
<rect x="168.9" y="363.8" width="30.5" height="5.5" fill="#ebebff"/>
<rect x="198.9" y="363.8" width="20.5" height="5.5" fill="#efefff"/>
<rect x="218.9" y="363.8" width="20.5" height="5.5" fill="#f3f3ff"/>
<rect x="238.9" y="363.8" width="75.5" height="5.5" fill="#f7f7ff"/>
<rect x="313.9" y="363.8" width="10.5" height="5.5" fill="#fbfbff"/>
<rect x="353.9" y="363.8" width="70.5" height="5.5" fill="#fbfbff"/>
<rect x="53.9" y="368.8" width="35.5" height="5.5" fill="#fbfbff"/>
<rect x="98.9" y="368.8" width="20.5" height="5.5" fill="#fffbfb"/>
<rect x="128.9" y="368.8" width="5.5" height="5.5" fill="#fbfbff"/>
<rect x="133.9" y="368.8" width="10.5" height="5.5" fill="#f7f7ff"/>
<rect x="143.9" y="368.8" width="25.5" height="5.5" fill="#f3f3ff"/>
<rect x="168.9" y="368.8" width="40.5" height="5.5" fill="#efefff"/>
<rect x="208.9" y="368.8" width="20.5" height="5.5" fill="#f3f3ff"/>
<rect x="228.9" y="368.8" width="85.5" height="5.5" fill="#f7f7ff"/>
<rect x="313.9" y="368.8" width="15.5" height="5.5" fill="#fbfbff"/>
<rect x="353.9" y="368.8" width="35.5" height="5.5" fill="#fbfbff"/>
<rect x="388.9" y="368.8" width="5.5" height="5.5" fill="#f7f7ff"/>
<rect x="393.9" y="368.8" width="30.5" height="5.5" fill="#fbfbff"/>
<rect x="38.9" y="373.8" width="50.5" height="5.5" fill="#fbfbff"/>
<rect x="103.9" y="373.8" width="20.5" height="5.5" fill="#fffbfb"/>
<rect x="133.9" y="373.8" width="5.5" height="5.5" fill="#fbfbff"/>
<rect x="138.9" y="373.8" width="25.5" height="5.5" fill="#f7f7ff"/>
<rect x="163.9" y="373.8" width="10.5" height="5.5" fill="#f3f3ff"/>
<rect x="173.9" y="373.8" width="25.5" height="5.5" fill="#efefff"/>
<rect x="198.9" y="373.8" width="25.5" height="5.5" fill="#f3f3ff"/>
<rect x="223.9" y="373.8" width="90.5" height="5.5" fill="#f7f7ff"/>
<rect x="313.9" y="373.8" width="15.5" height="5.5" fill="#fbfbff"/>
<rect x="353.9" y="373.8" width="35.5" height="5.5" fill="#fbfbff"/>
<rect x="388.9" y="373.8" width="5.5" height="5.5" fill="#f7f7ff"/>
<rect x="393.9" y="373.8" width="30.5" height="5.5" fill="#fbfbff"/>
<rect x="38.9" y="378.8" width="25.5" height="5.5" fill="#fbfbff"/>
<rect x="63.9" y="378.8" width="5.5" height="5.5" fill="#f7f7ff"/>
<rect x="68.9" y="378.8" width="20.5" height="5.5" fill="#fbfbff"/>
<rect x="108.9" y="378.8" width="20.5" height="5.5" fill="#fffbfb"/>
<rect x="138.9" y="378.8" width="20.5" height="5.5" fill="#fbfbff"/>
<rect x="158.9" y="378.8" width="10.5" height="5.5" fill="#f7f7ff"/>
<rect x="168.9" y="378.8" width="50.5" height="5.5" fill="#f3f3ff"/>
<rect x="218.9" y="378.8" width="95.5" height="5.5" fill="#f7f7ff"/>
<rect x="313.9" y="378.8" width="25.5" height="5.5" fill="#fbfbff"/>
<rect x="353.9" y="378.8" width="35.5" height="5.5" fill="#fbfbff"/>
<rect x="388.9" y="378.8" width="5.5" height="5.5" fill="#f7f7ff"/>
<rect x="393.9" y="378.8" width="30.5" height="5.5" fill="#fbfbff"/>
<rect x="38.9" y="383.8" width="25.5" height="5.5" fill="#fbfbff"/>
<rect x="63.9" y="383.8" width="5.5" height="5.5" fill="#f7f7ff"/>
<rect x="68.9" y="383.8" width="35.5" height="5.5" fill="#fbfbff"/>
<rect x="123.9" y="383.8" width="10.5" height="5.5" fill="#fffbfb"/>
<rect x="138.9" y="383.8" width="25.5" height="5.5" fill="#fbfbff"/>
<rect x="163.9" y="383.8" width="15.5" height="5.5" fill="#f7f7ff"/>
<rect x="178.9" y="383.8" width="35.5" height="5.5" fill="#f3f3ff"/>
<rect x="213.9" y="383.8" width="105.5" height="5.5" fill="#f7f7ff"/>
<rect x="318.9" y="383.8" width="70.5" height="5.5" fill="#fbfbff"/>
<rect x="388.9" y="383.8" width="5.5" height="5.5" fill="#f7f7ff"/>
<rect x="393.9" y="383.8" width="30.5" height="5.5" fill="#fbfbff"/>
<rect x="38.9" y="388.8" width="25.5" height="5.5" fill="#fbfbff"/>
<rect x="63.9" y="388.8" width="20.5" height="5.5" fill="#f7f7ff"/>
<rect x="83.9" y="388.8" width="30.5" height="5.5" fill="#fbfbff"/>
<rect x="123.9" y="388.8" width="10.5" height="5.5" fill="#fffbfb"/>
<rect x="148.9" y="388.8" width="20.5" height="5.5" fill="#fbfbff"/>
<rect x="168.9" y="388.8" width="165.5" height="5.5" fill="#f7f7ff"/>
<rect x="333.9" y="388.8" width="25.5" height="5.5" fill="#fbfbff"/>
<rect x="358.9" y="388.8" width="65.5" height="5.5" fill="#f7f7ff"/>
<rect x="38.9" y="393.8" width="35.5" height="5.5" fill="#fbfbff"/>
<rect x="73.9" y="393.8" width="25.5" height="5.5" fill="#f7f7ff"/>
<rect x="98.9" y="393.8" width="20.5" height="5.5" fill="#fbfbff"/>
<rect x="158.9" y="393.8" width="10.5" height="5.5" fill="#fbfbff"/>
<rect x="168.9" y="393.8" width="20.5" height="5.5" fill="#f7f7ff"/>
<rect x="188.9" y="393.8" width="20.5" height="5.5" fill="#f3f3ff"/>
<rect x="208.9" y="393.8" width="215.5" height="5.5" fill="#f7f7ff"/>
<rect x="38.9" y="398.8" width="35.5" height="5.5" fill="#fbfbff"/>
<rect x="73.9" y="398.8" width="25.5" height="5.5" fill="#f7f7ff"/>
<rect x="98.9" y="398.8" width="20.5" height="5.5" fill="#fbfbff"/>
<rect x="163.9" y="398.8" width="5.5" height="5.5" fill="#fbfbff"/>
<rect x="168.9" y="398.8" width="15.5" height="5.5" fill="#f7f7ff"/>
<rect x="183.9" y="398.8" width="45.5" height="5.5" fill="#f3f3ff"/>
<rect x="228.9" y="398.8" width="195.5" height="5.5" fill="#f7f7ff"/>
<rect x="38.9" y="403.8" width="35.5" height="5.5" fill="#fbfbff"/>
<rect x="73.9" y="403.8" width="25.5" height="5.5" fill="#f7f7ff"/>
<rect x="98.9" y="403.8" width="20.5" height="5.5" fill="#fbfbff"/>
<rect x="163.9" y="403.8" width="5.5" height="5.5" fill="#fbfbff"/>
<rect x="168.9" y="403.8" width="10.5" height="5.5" fill="#f7f7ff"/>
<rect x="178.9" y="403.8" width="55.5" height="5.5" fill="#f3f3ff"/>
<rect x="233.9" y="403.8" width="190.5" height="5.5" fill="#f7f7ff"/>
<rect x="53.9" y="408.8" width="25.5" height="5.5" fill="#fbfbff"/>
<rect x="78.9" y="408.8" width="10.5" height="5.5" fill="#f7f7ff"/>
<rect x="88.9" y="408.8" width="25.5" height="5.5" fill="#fbfbff"/>
<rect x="133.9" y="408.8" width="35.5" height="5.5" fill="#fbfbff"/>
<rect x="168.9" y="408.8" width="25.5" height="5.5" fill="#f7f7ff"/>
<rect x="193.9" y="408.8" width="50.5" height="5.5" fill="#f3f3ff"/>
<rect x="243.9" y="408.8" width="180.5" height="5.5" fill="#f7f7ff"/>
<rect x="58.9" y="413.8" width="45.5" height="5.5" fill="#fbfbff"/>
<rect x="123.9" y="413.8" width="40.5" height="5.5" fill="#fbfbff"/>
<rect x="163.9" y="413.8" width="40.5" height="5.5" fill="#f7f7ff"/>
<rect x="203.9" y="413.8" width="45.5" height="5.5" fill="#f3f3ff"/>
<rect x="248.9" y="413.8" width="175.5" height="5.5" fill="#f7f7ff"/>
<rect x="63.9" y="418.8" width="10.5" height="5.5" fill="#fbfbff"/>
<rect x="133.9" y="418.8" width="60.5" height="5.5" fill="#fbfbff"/>
<rect x="193.9" y="418.8" width="50.5" height="5.5" fill="#f7f7ff"/>
<rect x="243.9" y="418.8" width="80.5" height="5.5" fill="#fbfbff"/>
<rect x="323.9" y="418.8" width="100.5" height="5.5" fill="#f7f7ff"/>
<rect x="88.9" y="423.8" width="45.5" height="5.5" fill="#fffbfb"/>
<rect x="158.9" y="423.8" width="65.5" height="5.5" fill="#fbfbff"/>
<rect x="248.9" y="423.8" width="35.5" height="5.5" fill="#fffbfb"/>
<rect x="298.9" y="423.8" width="25.5" height="5.5" fill="#fbfbff"/>
<rect x="323.9" y="423.8" width="100.5" height="5.5" fill="#f7f7ff"/>
<rect x="73.9" y="428.8" width="20.5" height="5.5" fill="#fffbfb"/>
<rect x="93.9" y="428.8" width="40.5" height="5.5" fill="#fff7f7"/>
<rect x="133.9" y="428.8" width="20.5" height="5.5" fill="#fffbfb"/>
<rect x="173.9" y="428.8" width="20.5" height="5.5" fill="#fbfbff"/>
<rect x="213.9" y="428.8" width="20.5" height="5.5" fill="#fffbfb"/>
<rect x="233.9" y="428.8" width="55.5" height="5.5" fill="#fff7f7"/>
<rect x="288.9" y="428.8" width="5.5" height="5.5" fill="#fffbfb"/>
<rect x="308.9" y="428.8" width="20.5" height="5.5" fill="#fbfbff"/>
<rect x="328.9" y="428.8" width="95.5" height="5.5" fill="#f7f7ff"/>
<rect x="58.9" y="433.8" width="15.5" height="5.5" fill="#fffbfb"/>
<rect x="73.9" y="433.8" width="15.5" height="5.5" fill="#fff7f7"/>
<rect x="88.9" y="433.8" width="15.5" height="5.5" fill="#fff3f3"/>
<rect x="103.9" y="433.8" width="30.5" height="5.5" fill="#ffefef"/>
<rect x="133.9" y="433.8" width="15.5" height="5.5" fill="#fff3f3"/>
<rect x="148.9" y="433.8" width="20.5" height="5.5" fill="#fff7f7"/>
<rect x="168.9" y="433.8" width="15.5" height="5.5" fill="#fffbfb"/>
<rect x="208.9" y="433.8" width="15.5" height="5.5" fill="#fffbfb"/>
<rect x="223.9" y="433.8" width="20.5" height="5.5" fill="#fff7f7"/>
<rect x="243.9" y="433.8" width="15.5" height="5.5" fill="#fff3f3"/>
<rect x="258.9" y="433.8" width="30.5" height="5.5" fill="#fff7f7"/>
<rect x="288.9" y="433.8" width="15.5" height="5.5" fill="#fffbfb"/>
<rect x="328.9" y="433.8" width="95.5" height="5.5" fill="#fbfbff"/>
<rect x="38.9" y="438.8" width="25.5" height="5.5" fill="#fffbfb"/>
<rect x="63.9" y="438.8" width="10.5" height="5.5" fill="#fff7f7"/>
<rect x="73.9" y="438.8" width="5.5" height="5.5" fill="#fff3f3"/>
<rect x="78.9" y="438.8" width="5.5" height="5.5" fill="#ffefef"/>
<rect x="83.9" y="438.8" width="10.5" height="5.5" fill="#ffebeb"/>
<rect x="93.9" y="438.8" width="45.5" height="5.5" fill="#ffe7e7"/>
<rect x="138.9" y="438.8" width="15.5" height="5.5" fill="#ffebeb"/>
<rect x="153.9" y="438.8" width="10.5" height="5.5" fill="#ffefef"/>
<rect x="163.9" y="438.8" width="10.5" height="5.5" fill="#fff3f3"/>
<rect x="173.9" y="438.8" width="15.5" height="5.5" fill="#fff7f7"/>
<rect x="188.9" y="438.8" width="35.5" height="5.5" fill="#fffbfb"/>
<rect x="223.9" y="438.8" width="10.5" height="5.5" fill="#fff7f7"/>
<rect x="233.9" y="438.8" width="25.5" height="5.5" fill="#fff3f3"/>
<rect x="258.9" y="438.8" width="35.5" height="5.5" fill="#fff7f7"/>
<rect x="293.9" y="438.8" width="35.5" height="5.5" fill="#fffbfb"/>
<rect x="38.9" y="443.8" width="20.5" height="5.5" fill="#fff7f7"/>
<rect x="58.9" y="443.8" width="5.5" height="5.5" fill="#fff3f3"/>
<rect x="63.9" y="443.8" width="5.5" height="5.5" fill="#ffefef"/>
<rect x="68.9" y="443.8" width="5.5" height="5.5" fill="#ffebeb"/>
<rect x="73.9" y="443.8" width="5.5" height="5.5" fill="#ffe3e3"/>
<rect x="78.9" y="443.8" width="5.5" height="5.5" fill="#ffdfdf"/>
<rect x="83.9" y="443.8" width="5.5" height="5.5" fill="#ffd7d7"/>
<rect x="88.9" y="443.8" width="5.5" height="5.5" fill="#ffd3d3"/>
<rect x="93.9" y="443.8" width="30.5" height="5.5" fill="#ffcfcf"/>
<rect x="123.9" y="443.8" width="5.5" height="5.5" fill="#ffd3d3"/>
<rect x="128.9" y="443.8" width="5.5" height="5.5" fill="#ffd7d7"/>
<rect x="133.9" y="443.8" width="5.5" height="5.5" fill="#ffdbdb"/>
<rect x="138.9" y="443.8" width="5.5" height="5.5" fill="#ffdfdf"/>
<rect x="143.9" y="443.8" width="5.5" height="5.5" fill="#ffe3e3"/>
<rect x="148.9" y="443.8" width="5.5" height="5.5" fill="#ffe7e7"/>
<rect x="153.9" y="443.8" width="10.5" height="5.5" fill="#ffebeb"/>
<rect x="163.9" y="443.8" width="5.5" height="5.5" fill="#ffefef"/>
<rect x="168.9" y="443.8" width="5.5" height="5.5" fill="#fff3f3"/>
<rect x="173.9" y="443.8" width="5.5" height="5.5" fill="#fff7f7"/>
<rect x="178.9" y="443.8" width="10.5" height="5.5" fill="#fffbfb"/>
<rect x="208.9" y="443.8" width="15.5" height="5.5" fill="#fffbfb"/>
<rect x="223.9" y="443.8" width="10.5" height="5.5" fill="#fff7f7"/>
<rect x="233.9" y="443.8" width="25.5" height="5.5" fill="#fff3f3"/>
<rect x="258.9" y="443.8" width="55.5" height="5.5" fill="#fff7f7"/>
<rect x="313.9" y="443.8" width="25.5" height="5.5" fill="#fffbfb"/>
<rect x="353.9" y="443.8" width="45.5" height="5.5" fill="#fffbfb"/>
<rect x="38.9" y="448.8" width="15.5" height="5.5" fill="#fff7f7"/>
<rect x="53.9" y="448.8" width="5.5" height="5.5" fill="#fff3f3"/>
<rect x="58.9" y="448.8" width="5.5" height="5.5" fill="#ffefef"/>
<rect x="63.9" y="448.8" width="5.5" height="5.5" fill="#ffebeb"/>
<rect x="68.9" y="448.8" width="5.5" height="5.5" fill="#ffe3e3"/>
<rect x="73.9" y="448.8" width="5.5" height="5.5" fill="#ffdbdb"/>
<rect x="78.9" y="448.8" width="5.5" height="5.5" fill="#ffd3d3"/>
<rect x="83.9" y="448.8" width="5.5" height="5.5" fill="#ffcfcf"/>
<rect x="88.9" y="448.8" width="5.5" height="5.5" fill="#ffcbcb"/>
<rect x="93.9" y="448.8" width="25.5" height="5.5" fill="#ffc3c3"/>
<rect x="118.9" y="448.8" width="5.5" height="5.5" fill="#ffc7c7"/>
<rect x="123.9" y="448.8" width="5.5" height="5.5" fill="#ffcbcb"/>
<rect x="128.9" y="448.8" width="5.5" height="5.5" fill="#ffd3d3"/>
<rect x="133.9" y="448.8" width="5.5" height="5.5" fill="#ffd7d7"/>
<rect x="138.9" y="448.8" width="5.5" height="5.5" fill="#ffdfdf"/>
<rect x="143.9" y="448.8" width="5.5" height="5.5" fill="#ffe3e3"/>
<rect x="148.9" y="448.8" width="5.5" height="5.5" fill="#ffebeb"/>
<rect x="153.9" y="448.8" width="5.5" height="5.5" fill="#ffefef"/>
<rect x="158.9" y="448.8" width="5.5" height="5.5" fill="#fff3f3"/>
<rect x="163.9" y="448.8" width="5.5" height="5.5" fill="#fff7f7"/>
<rect x="173.9" y="448.8" width="10.5" height="5.5" fill="#fbfbff"/>
<rect x="183.9" y="448.8" width="15.5" height="5.5" fill="#f7f7ff"/>
<rect x="198.9" y="448.8" width="10.5" height="5.5" fill="#fbfbff"/>
<rect x="223.9" y="448.8" width="5.5" height="5.5" fill="#fffbfb"/>
<rect x="228.9" y="448.8" width="15.5" height="5.5" fill="#fff7f7"/>
<rect x="243.9" y="448.8" width="25.5" height="5.5" fill="#fff3f3"/>
<rect x="268.9" y="448.8" width="50.5" height="5.5" fill="#fff7f7"/>
<rect x="318.9" y="448.8" width="85.5" height="5.5" fill="#fffbfb"/>
<rect x="38.9" y="453.8" width="15.5" height="5.5" fill="#fffbfb"/>
<rect x="53.9" y="453.8" width="10.5" height="5.5" fill="#fff7f7"/>
<rect x="63.9" y="453.8" width="5.5" height="5.5" fill="#fff3f3"/>
<rect x="68.9" y="453.8" width="5.5" height="5.5" fill="#ffefef"/>
<rect x="73.9" y="453.8" width="5.5" height="5.5" fill="#ffebeb"/>
<rect x="78.9" y="453.8" width="5.5" height="5.5" fill="#ffe7e7"/>
<rect x="83.9" y="453.8" width="5.5" height="5.5" fill="#ffe3e3"/>
<rect x="88.9" y="453.8" width="5.5" height="5.5" fill="#ffdfdf"/>
<rect x="93.9" y="453.8" width="15.5" height="5.5" fill="#ffdbdb"/>
<rect x="108.9" y="453.8" width="10.5" height="5.5" fill="#ffdfdf"/>
<rect x="118.9" y="453.8" width="5.5" height="5.5" fill="#ffe3e3"/>
<rect x="123.9" y="453.8" width="5.5" height="5.5" fill="#ffe7e7"/>
<rect x="128.9" y="453.8" width="5.5" height="5.5" fill="#ffebeb"/>
<rect x="133.9" y="453.8" width="5.5" height="5.5" fill="#ffefef"/>
<rect x="138.9" y="453.8" width="5.5" height="5.5" fill="#fff7f7"/>
<rect x="143.9" y="453.8" width="5.5" height="5.5" fill="#fffbfb"/>
<rect x="148.9" y="453.8" width="5.5" height="5.5" fill="#fbfbff"/>
<rect x="153.9" y="453.8" width="5.5" height="5.5" fill="#f7f7ff"/>
<rect x="158.9" y="453.8" width="5.5" height="5.5" fill="#f3f3ff"/>
<rect x="163.9" y="453.8" width="5.5" height="5.5" fill="#ebebff"/>
<rect x="168.9" y="453.8" width="5.5" height="5.5" fill="#e3e3ff"/>
<rect x="173.9" y="453.8" width="5.5" height="5.5" fill="#dfdfff"/>
<rect x="178.9" y="453.8" width="5.5" height="5.5" fill="#dbdbff"/>
<rect x="183.9" y="453.8" width="10.5" height="5.5" fill="#d7d7ff"/>
<rect x="193.9" y="453.8" width="5.5" height="5.5" fill="#dbdbff"/>
<rect x="198.9" y="453.8" width="5.5" height="5.5" fill="#dfdfff"/>
<rect x="203.9" y="453.8" width="10.5" height="5.5" fill="#e7e7ff"/>
<rect x="213.9" y="453.8" width="5.5" height="5.5" fill="#ebebff"/>
<rect x="218.9" y="453.8" width="5.5" height="5.5" fill="#efefff"/>
<rect x="223.9" y="453.8" width="5.5" height="5.5" fill="#f3f3ff"/>
<rect x="228.9" y="453.8" width="5.5" height="5.5" fill="#f7f7ff"/>
<rect x="233.9" y="453.8" width="5.5" height="5.5" fill="#fbfbff"/>
<rect x="243.9" y="453.8" width="10.5" height="5.5" fill="#fffbfb"/>
<rect x="253.9" y="453.8" width="25.5" height="5.5" fill="#fff7f7"/>
<rect x="278.9" y="453.8" width="25.5" height="5.5" fill="#fffbfb"/>
<rect x="303.9" y="453.8" width="25.5" height="5.5" fill="#fff7f7"/>
<rect x="328.9" y="453.8" width="95.5" height="5.5" fill="#fffbfb"/>
<rect x="38.9" y="458.8" width="25.5" height="5.5" fill="#fffbfb"/>
<rect x="63.9" y="458.8" width="5.5" height="5.5" fill="#fff7f7"/>
<rect x="68.9" y="458.8" width="5.5" height="5.5" fill="#fff3f3"/>
<rect x="73.9" y="458.8" width="5.5" height="5.5" fill="#ffefef"/>
<rect x="78.9" y="458.8" width="10.5" height="5.5" fill="#ffebeb"/>
<rect x="88.9" y="458.8" width="25.5" height="5.5" fill="#ffe7e7"/>
<rect x="113.9" y="458.8" width="10.5" height="5.5" fill="#ffebeb"/>
<rect x="123.9" y="458.8" width="5.5" height="5.5" fill="#ffefef"/>
<rect x="128.9" y="458.8" width="5.5" height="5.5" fill="#fff3f3"/>
<rect x="133.9" y="458.8" width="5.5" height="5.5" fill="#fff7f7"/>
<rect x="138.9" y="458.8" width="5.5" height="5.5" fill="#fffbfb"/>
<rect x="148.9" y="458.8" width="5.5" height="5.5" fill="#f7f7ff"/>
<rect x="153.9" y="458.8" width="5.5" height="5.5" fill="#f3f3ff"/>
<rect x="158.9" y="458.8" width="5.5" height="5.5" fill="#efefff"/>
<rect x="163.9" y="458.8" width="5.5" height="5.5" fill="#e7e7ff"/>
<rect x="168.9" y="458.8" width="5.5" height="5.5" fill="#dfdfff"/>
<rect x="173.9" y="458.8" width="5.5" height="5.5" fill="#dbdbff"/>
<rect x="178.9" y="458.8" width="10.5" height="5.5" fill="#d7d7ff"/>
<rect x="188.9" y="458.8" width="5.5" height="5.5" fill="#d3d3ff"/>
<rect x="193.9" y="458.8" width="5.5" height="5.5" fill="#dbdbff"/>
<rect x="198.9" y="458.8" width="5.5" height="5.5" fill="#dfdfff"/>
<rect x="203.9" y="458.8" width="5.5" height="5.5" fill="#e3e3ff"/>
<rect x="208.9" y="458.8" width="5.5" height="5.5" fill="#e7e7ff"/>
<rect x="213.9" y="458.8" width="5.5" height="5.5" fill="#ebebff"/>
<rect x="218.9" y="458.8" width="5.5" height="5.5" fill="#efefff"/>
<rect x="223.9" y="458.8" width="5.5" height="5.5" fill="#f3f3ff"/>
<rect x="228.9" y="458.8" width="5.5" height="5.5" fill="#f7f7ff"/>
<rect x="233.9" y="458.8" width="10.5" height="5.5" fill="#fbfbff"/>
<rect x="248.9" y="458.8" width="5.5" height="5.5" fill="#fffbfb"/>
<rect x="253.9" y="458.8" width="25.5" height="5.5" fill="#fff7f7"/>
<rect x="278.9" y="458.8" width="25.5" height="5.5" fill="#fffbfb"/>
<rect x="303.9" y="458.8" width="25.5" height="5.5" fill="#fff7f7"/>
<rect x="328.9" y="458.8" width="95.5" height="5.5" fill="#fffbfb"/>
<rect x="38.9" y="463.8" width="25.5" height="5.5" fill="#fffbfb"/>
<rect x="63.9" y="463.8" width="5.5" height="5.5" fill="#fff7f7"/>
<rect x="68.9" y="463.8" width="5.5" height="5.5" fill="#fff3f3"/>
<rect x="73.9" y="463.8" width="5.5" height="5.5" fill="#ffefef"/>
<rect x="78.9" y="463.8" width="10.5" height="5.5" fill="#ffebeb"/>
<rect x="88.9" y="463.8" width="25.5" height="5.5" fill="#ffe7e7"/>
<rect x="113.9" y="463.8" width="10.5" height="5.5" fill="#ffebeb"/>
<rect x="123.9" y="463.8" width="5.5" height="5.5" fill="#ffefef"/>
<rect x="128.9" y="463.8" width="5.5" height="5.5" fill="#fff3f3"/>
<rect x="133.9" y="463.8" width="5.5" height="5.5" fill="#fff7f7"/>
<rect x="138.9" y="463.8" width="5.5" height="5.5" fill="#fffbfb"/>
<rect x="148.9" y="463.8" width="5.5" height="5.5" fill="#f7f7ff"/>
<rect x="153.9" y="463.8" width="5.5" height="5.5" fill="#f3f3ff"/>
<rect x="158.9" y="463.8" width="5.5" height="5.5" fill="#efefff"/>
<rect x="163.9" y="463.8" width="5.5" height="5.5" fill="#e7e7ff"/>
<rect x="168.9" y="463.8" width="5.5" height="5.5" fill="#dfdfff"/>
<rect x="173.9" y="463.8" width="5.5" height="5.5" fill="#dbdbff"/>
<rect x="178.9" y="463.8" width="10.5" height="5.5" fill="#d7d7ff"/>
<rect x="188.9" y="463.8" width="5.5" height="5.5" fill="#d3d3ff"/>
<rect x="193.9" y="463.8" width="5.5" height="5.5" fill="#dbdbff"/>
<rect x="198.9" y="463.8" width="5.5" height="5.5" fill="#dfdfff"/>
<rect x="203.9" y="463.8" width="5.5" height="5.5" fill="#e3e3ff"/>
<rect x="208.9" y="463.8" width="5.5" height="5.5" fill="#e7e7ff"/>
<rect x="213.9" y="463.8" width="5.5" height="5.5" fill="#ebebff"/>
<rect x="218.9" y="463.8" width="5.5" height="5.5" fill="#efefff"/>
<rect x="223.9" y="463.8" width="5.5" height="5.5" fill="#f3f3ff"/>
<rect x="228.9" y="463.8" width="5.5" height="5.5" fill="#f7f7ff"/>
<rect x="233.9" y="463.8" width="10.5" height="5.5" fill="#fbfbff"/>
<rect x="248.9" y="463.8" width="5.5" height="5.5" fill="#fffbfb"/>
<rect x="253.9" y="463.8" width="25.5" height="5.5" fill="#fff7f7"/>
<rect x="278.9" y="463.8" width="25.5" height="5.5" fill="#fffbfb"/>
<rect x="303.9" y="463.8" width="25.5" height="5.5" fill="#fff7f7"/>
<rect x="328.9" y="463.8" width="95.5" height="5.5" fill="#fffbfb"/>
</g></g>
<g clip-path="url(#ca)" fill="none" stroke-linecap="round" stroke-linejoin="round">
<circle cx="60.0" cy="17.6" r="0.55" fill="#808080"/>
<circle cx="60.0" cy="29.6" r="0.55" fill="#808080"/>
<circle cx="60.0" cy="41.6" r="0.55" fill="#808080"/>
<circle cx="60.0" cy="53.5" r="0.55" fill="#808080"/>
<circle cx="60.0" cy="65.5" r="0.55" fill="#808080"/>
<circle cx="60.0" cy="77.5" r="0.55" fill="#808080"/>
<circle cx="60.0" cy="89.5" r="0.55" fill="#808080"/>
<circle cx="60.0" cy="101.5" r="0.55" fill="#808080"/>
<circle cx="60.0" cy="113.4" r="0.55" fill="#808080"/>
<circle cx="60.0" cy="125.4" r="0.55" fill="#808080"/>
<circle cx="60.0" cy="137.4" r="0.55" fill="#808080"/>
<circle cx="60.0" cy="149.4" r="0.55" fill="#808080"/>
<circle cx="60.0" cy="161.4" r="0.55" fill="#808080"/>
<circle cx="60.0" cy="173.3" r="0.55" fill="#808080"/>
<circle cx="60.0" cy="185.3" r="0.55" fill="#808080"/>
<circle cx="60.0" cy="197.3" r="0.55" fill="#808080"/>
<circle cx="60.0" cy="209.3" r="0.55" fill="#808080"/>
<circle cx="60.0" cy="221.3" r="0.55" fill="#808080"/>
<circle cx="76.5" cy="17.6" r="0.55" fill="#808080"/>
<circle cx="76.5" cy="29.6" r="0.55" fill="#808080"/>
<circle cx="76.5" cy="41.6" r="0.55" fill="#808080"/>
<circle cx="76.5" cy="53.5" r="0.55" fill="#808080"/>
<circle cx="76.5" cy="65.5" r="0.55" fill="#808080"/>
<circle cx="76.5" cy="77.5" r="0.55" fill="#808080"/>
<circle cx="76.5" cy="89.5" r="0.55" fill="#808080"/>
<circle cx="76.5" cy="101.5" r="0.55" fill="#808080"/>
<circle cx="76.5" cy="113.4" r="0.55" fill="#808080"/>
<circle cx="76.5" cy="125.4" r="0.55" fill="#808080"/>
<circle cx="76.5" cy="137.4" r="0.55" fill="#808080"/>
<circle cx="76.5" cy="149.4" r="0.55" fill="#808080"/>
<circle cx="76.5" cy="161.4" r="0.55" fill="#808080"/>
<circle cx="76.5" cy="173.3" r="0.55" fill="#808080"/>
<circle cx="76.5" cy="185.3" r="0.55" fill="#808080"/>
<circle cx="76.5" cy="197.3" r="0.55" fill="#808080"/>
<circle cx="76.5" cy="209.3" r="0.55" fill="#808080"/>
<circle cx="76.5" cy="221.3" r="0.55" fill="#808080"/>
<circle cx="92.9" cy="17.6" r="0.55" fill="#808080"/>
<circle cx="92.9" cy="29.6" r="0.55" fill="#808080"/>
<circle cx="92.9" cy="41.6" r="0.55" fill="#808080"/>
<circle cx="92.9" cy="53.5" r="0.55" fill="#808080"/>
<circle cx="92.9" cy="65.5" r="0.55" fill="#808080"/>
<circle cx="92.9" cy="77.5" r="0.55" fill="#808080"/>
<circle cx="92.9" cy="89.5" r="0.55" fill="#808080"/>
<circle cx="92.9" cy="101.5" r="0.55" fill="#808080"/>
<circle cx="92.9" cy="113.4" r="0.55" fill="#808080"/>
<circle cx="92.9" cy="125.4" r="0.55" fill="#808080"/>
<circle cx="92.9" cy="137.4" r="0.55" fill="#808080"/>
<circle cx="92.9" cy="149.4" r="0.55" fill="#808080"/>
<circle cx="92.9" cy="161.4" r="0.55" fill="#808080"/>
<circle cx="92.9" cy="173.3" r="0.55" fill="#808080"/>
<circle cx="92.9" cy="185.3" r="0.55" fill="#808080"/>
<circle cx="92.9" cy="197.3" r="0.55" fill="#808080"/>
<circle cx="92.9" cy="209.3" r="0.55" fill="#808080"/>
<circle cx="92.9" cy="221.3" r="0.55" fill="#808080"/>
<circle cx="109.4" cy="17.6" r="0.55" fill="#808080"/>
<circle cx="109.4" cy="29.6" r="0.55" fill="#808080"/>
<circle cx="109.4" cy="41.6" r="0.55" fill="#808080"/>
<circle cx="109.4" cy="53.5" r="0.55" fill="#808080"/>
<circle cx="109.4" cy="65.5" r="0.55" fill="#808080"/>
<circle cx="109.4" cy="77.5" r="0.55" fill="#808080"/>
<circle cx="109.4" cy="89.5" r="0.55" fill="#808080"/>
<circle cx="109.4" cy="101.5" r="0.55" fill="#808080"/>
<circle cx="109.4" cy="113.4" r="0.55" fill="#808080"/>
<circle cx="109.4" cy="125.4" r="0.55" fill="#808080"/>
<circle cx="109.4" cy="137.4" r="0.55" fill="#808080"/>
<circle cx="109.4" cy="149.4" r="0.55" fill="#808080"/>
<circle cx="109.4" cy="161.4" r="0.55" fill="#808080"/>
<circle cx="109.4" cy="173.3" r="0.55" fill="#808080"/>
<circle cx="109.4" cy="185.3" r="0.55" fill="#808080"/>
<circle cx="109.4" cy="197.3" r="0.55" fill="#808080"/>
<circle cx="109.4" cy="209.3" r="0.55" fill="#808080"/>
<circle cx="109.4" cy="221.3" r="0.55" fill="#808080"/>
<circle cx="125.9" cy="17.6" r="0.55" fill="#808080"/>
<circle cx="125.9" cy="29.6" r="0.55" fill="#808080"/>
<path d="M125.9 41.6L125.9 39.6M125.9 40.2L125.9 39.6L125.8 40.2" stroke="#242424" stroke-width="1.30"/>
<path d="M125.9 53.5L125.9 51.5M125.9 52.2L125.9 51.5L125.8 52.2" stroke="#242424" stroke-width="1.30"/>
<circle cx="125.9" cy="65.5" r="0.55" fill="#808080"/>
<path d="M125.9 77.5L125.4 75.0M125.6 75.6L125.4 75.0L125.5 76.1" stroke="#7c7c7c" stroke-width="0.95"/>
<path d="M125.9 89.5L125.4 87.0M125.6 87.6L125.4 87.0L125.5 88.0" stroke="#7c7c7c" stroke-width="0.95"/>
<path d="M125.9 101.5L125.4 99.0M125.6 99.6L125.4 99.0L125.5 100.0" stroke="#7c7c7c" stroke-width="0.95"/>
<path d="M125.9 113.4L125.4 110.9M125.6 111.5L125.4 110.9L125.5 112.0" stroke="#7c7c7c" stroke-width="0.95"/>
<path d="M125.9 125.4L125.4 123.4M125.6 123.8L125.4 123.4L125.5 124.3" stroke="#7c7c7c" stroke-width="0.95"/>
<circle cx="125.9" cy="137.4" r="0.55" fill="#808080"/>
<circle cx="125.9" cy="149.4" r="0.55" fill="#808080"/>
<circle cx="125.9" cy="161.4" r="0.55" fill="#808080"/>
<path d="M125.9 173.3L124.9 170.8M125.3 171.2L124.9 170.8L125.1 172.1" stroke="#7c7c7c" stroke-width="0.95"/>
<path d="M125.9 185.3L124.9 182.8M125.3 183.2L124.9 182.8L125.1 184.1" stroke="#7c7c7c" stroke-width="0.95"/>
<path d="M125.9 197.3L125.4 195.8M125.6 196.1L125.4 195.8L125.5 196.5" stroke="#7c7c7c" stroke-width="0.95"/>
<path d="M125.9 209.3L125.4 207.8M125.6 208.0L125.4 207.8L125.5 208.5" stroke="#7c7c7c" stroke-width="0.95"/>
<circle cx="125.9" cy="221.3" r="0.55" fill="#808080"/>
<circle cx="142.3" cy="17.6" r="0.55" fill="#808080"/>
<path d="M142.3 29.6L141.9 26.1M142.2 27.1L141.9 26.1L142.0 27.4" stroke="#7c7c7c" stroke-width="0.95"/>
<path d="M142.3 41.6L141.9 37.1M142.2 38.4L141.9 37.1L142.0 38.7" stroke="#242424" stroke-width="1.30"/>
<path d="M142.3 53.5L141.9 48.5M142.2 50.0L141.9 48.5L141.9 50.4" stroke="#242424" stroke-width="1.30"/>
<path d="M142.3 65.5L141.9 60.5M142.2 62.0L141.9 60.5L141.9 62.4" stroke="#242424" stroke-width="1.30"/>
<path d="M142.3 77.5L141.9 72.5M142.2 74.0L141.9 72.5L141.9 74.3" stroke="#242424" stroke-width="1.30"/>
<path d="M142.3 89.5L141.9 84.5M142.2 85.9L141.9 84.5L141.9 86.3" stroke="#242424" stroke-width="1.30"/>
<path d="M142.3 101.5L141.9 97.5M142.2 98.6L141.9 97.5L142.0 99.0" stroke="#242424" stroke-width="1.30"/>
<path d="M142.3 113.4L141.7 109.4M142.0 110.4L141.7 109.4L141.8 111.1" stroke="#7c7c7c" stroke-width="0.95"/>
<path d="M142.3 125.4L141.8 122.4M142.1 123.2L141.8 122.4L141.9 123.6" stroke="#7c7c7c" stroke-width="0.95"/>
<circle cx="142.3" cy="137.4" r="0.55" fill="#808080"/>
<circle cx="142.3" cy="149.4" r="0.55" fill="#808080"/>
<circle cx="142.3" cy="161.4" r="0.55" fill="#808080"/>
<path d="M142.3 173.3L140.8 171.8M141.4 171.6L140.8 171.8L141.3 173.0" stroke="#7c7c7c" stroke-width="0.95"/>
<path d="M142.3 185.3L140.8 183.8M141.4 183.6L140.8 183.8L141.3 185.0" stroke="#7c7c7c" stroke-width="0.95"/>
<path d="M142.3 197.3L140.8 195.3M141.4 195.3L140.8 195.3L141.3 196.7" stroke="#7c7c7c" stroke-width="0.95"/>
<path d="M142.3 209.3L140.8 207.3M141.4 207.2L140.8 207.3L141.3 208.6" stroke="#7c7c7c" stroke-width="0.95"/>
<circle cx="142.3" cy="221.3" r="0.55" fill="#808080"/>
<path d="M158.8 17.6L157.6 12.6M158.1 13.7L157.6 12.6L157.9 14.8" stroke="#242424" stroke-width="1.30"/>
<path d="M158.8 29.6L157.6 24.6M158.1 25.7L157.6 24.6L157.9 26.8" stroke="#242424" stroke-width="1.30"/>
<path d="M158.8 41.6L157.6 36.1M158.1 37.3L157.6 36.1L157.8 38.5" stroke="#242424" stroke-width="1.30"/>
<path d="M158.8 53.5L157.7 47.5M158.2 49.0L157.7 47.5L157.9 50.0" stroke="#242424" stroke-width="1.30"/>
<path d="M158.8 65.5L157.7 59.0M158.2 60.6L157.7 59.0L157.9 61.7" stroke="#242424" stroke-width="1.30"/>
<path d="M158.8 77.5L157.5 69.5M158.2 71.5L157.5 69.5L157.7 72.7" stroke="#242424" stroke-width="1.30"/>
<path d="M158.8 89.5L157.8 82.5M158.3 84.3L157.8 82.5L158.0 85.3" stroke="#242424" stroke-width="1.30"/>
<path d="M158.8 101.5L157.8 94.5M158.3 96.3L157.8 94.5L158.0 97.2" stroke="#242424" stroke-width="1.30"/>
<path d="M158.8 113.4L157.8 106.4M158.3 108.3L157.8 106.4L158.0 109.2" stroke="#242424" stroke-width="1.30"/>
<path d="M158.8 125.4L158.3 120.4M158.6 121.8L158.3 120.4L158.4 122.3" stroke="#7c7c7c" stroke-width="0.95"/>
<path d="M158.8 137.4L158.3 134.9M158.6 135.5L158.3 134.9L158.4 136.0" stroke="#7c7c7c" stroke-width="0.95"/>
<circle cx="158.8" cy="149.4" r="0.55" fill="#808080"/>
<circle cx="158.8" cy="161.4" r="0.55" fill="#808080"/>
<circle cx="158.8" cy="173.3" r="0.55" fill="#808080"/>
<circle cx="158.8" cy="185.3" r="0.55" fill="#808080"/>
<path d="M158.8 197.3L157.8 195.3M158.2 195.5L157.8 195.3L158.1 196.4" stroke="#7c7c7c" stroke-width="0.95"/>
<path d="M158.8 209.3L160.8 213.8M160.0 213.2L160.8 213.8L160.3 211.4" stroke="#242424" stroke-width="1.30"/>
<circle cx="158.8" cy="221.3" r="0.55" fill="#808080"/>
<path d="M175.3 17.6L173.3 12.6M174.1 13.3L173.3 12.6L173.8 15.2" stroke="#242424" stroke-width="1.30"/>
<path d="M175.3 29.6L173.3 25.6M174.1 26.0L173.3 25.6L173.8 27.8" stroke="#7c7c7c" stroke-width="0.95"/>
<path d="M175.3 41.6L171.8 36.1M173.1 36.3L171.8 36.1L172.8 39.5" stroke="#242424" stroke-width="1.30"/>
<path d="M175.3 53.5L172.3 47.5M173.4 48.1L172.3 47.5L173.1 50.9" stroke="#242424" stroke-width="1.30"/>
<path d="M175.3 65.5L171.8 59.0M173.1 59.5L171.8 59.0L172.8 62.8" stroke="#242424" stroke-width="1.30"/>
<path d="M175.3 77.5L172.1 69.5M173.4 70.7L172.1 69.5L172.9 73.6" stroke="#242424" stroke-width="1.30"/>
<path d="M175.3 89.5L172.3 81.0M173.5 82.4L172.3 81.0L173.1 85.2" stroke="#242424" stroke-width="1.30"/>
<path d="M175.3 101.5L172.3 93.0M173.5 94.4L172.3 93.0L173.1 97.2" stroke="#242424" stroke-width="1.30"/>
<path d="M175.3 113.4L172.8 104.9M173.8 106.6L172.8 104.9L173.4 108.9" stroke="#242424" stroke-width="1.30"/>
<path d="M175.3 125.4L172.8 117.9M173.8 119.2L172.8 117.9L173.4 121.6" stroke="#242424" stroke-width="1.30"/>
<path d="M175.3 137.4L173.3 131.4M174.1 132.5L173.3 131.4L173.8 134.3" stroke="#242424" stroke-width="1.30"/>
<path d="M175.3 149.4L174.0 144.9M174.5 145.8L174.0 144.9L174.3 147.0" stroke="#7c7c7c" stroke-width="0.95"/>
<path d="M175.3 161.4L174.3 157.9M174.7 158.6L174.3 157.9L174.5 159.5" stroke="#7c7c7c" stroke-width="0.95"/>
<path d="M175.3 173.3L174.3 171.3M174.7 171.5L174.3 171.3L174.6 172.5" stroke="#7c7c7c" stroke-width="0.95"/>
<path d="M175.3 185.3L174.3 183.8M174.7 183.9L174.3 183.8L174.6 184.8" stroke="#7c7c7c" stroke-width="0.95"/>
<circle cx="175.3" cy="197.3" r="0.55" fill="#808080"/>
<circle cx="175.3" cy="209.3" r="0.55" fill="#808080"/>
<circle cx="175.3" cy="221.3" r="0.55" fill="#808080"/>
<path d="M191.8 17.6L189.8 14.6M190.5 14.7L189.8 14.6L190.3 16.5" stroke="#7c7c7c" stroke-width="0.95"/>
<path d="M191.8 29.6L189.8 27.1M190.5 27.0L189.8 27.1L190.4 28.8" stroke="#7c7c7c" stroke-width="0.95"/>
<path d="M191.8 41.6L189.8 38.6M190.5 38.6L189.8 38.6L190.3 40.5" stroke="#7c7c7c" stroke-width="0.95"/>
<path d="M191.8 53.5L189.8 50.0M190.5 50.3L189.8 50.0L190.3 52.1" stroke="#7c7c7c" stroke-width="0.95"/>
<path d="M191.8 65.5L189.2 59.3M190.2 60.2L189.2 59.3L189.9 62.6" stroke="#242424" stroke-width="1.30"/>
<path d="M191.8 77.5L189.2 71.3M190.2 72.1L189.2 71.3L189.9 74.5" stroke="#242424" stroke-width="1.30"/>
<path d="M191.8 89.5L189.2 83.3M190.2 84.1L189.2 83.3L189.9 86.5" stroke="#242424" stroke-width="1.30"/>
<path d="M191.8 101.5L189.2 95.3M190.2 96.1L189.2 95.3L189.9 98.5" stroke="#242424" stroke-width="1.30"/>
<path d="M191.8 113.4L189.2 107.2M190.2 108.1L189.2 107.2L189.9 110.5" stroke="#242424" stroke-width="1.30"/>
<path d="M191.8 125.4L189.2 119.2M190.2 120.1L189.2 119.2L189.9 122.5" stroke="#242424" stroke-width="1.30"/>
<path d="M191.8 137.4L189.4 131.4M190.3 132.3L189.4 131.4L190.0 134.5" stroke="#242424" stroke-width="1.30"/>
<path d="M191.8 149.4L189.4 143.4M190.3 144.3L189.4 143.4L190.0 146.5" stroke="#242424" stroke-width="1.30"/>
<path d="M191.8 161.4L189.4 155.4M190.3 156.2L189.4 155.4L190.0 158.4" stroke="#242424" stroke-width="1.30"/>
<path d="M191.8 173.3L189.8 169.3M190.5 169.7L189.8 169.3L190.3 171.6" stroke="#7c7c7c" stroke-width="0.95"/>
<path d="M191.8 185.3L190.3 181.8M190.8 182.3L190.3 181.8L190.7 183.7" stroke="#7c7c7c" stroke-width="0.95"/>
<path d="M191.8 197.3L190.3 194.3M190.8 194.6L190.3 194.3L190.7 196.0" stroke="#7c7c7c" stroke-width="0.95"/>
<path d="M191.8 209.3L190.3 206.3M190.8 206.6L190.3 206.3L190.7 208.0" stroke="#7c7c7c" stroke-width="0.95"/>
<circle cx="191.8" cy="221.3" r="0.55" fill="#808080"/>
<path d="M208.2 17.6L204.2 18.6M205.5 16.4L204.2 18.6L205.6 20.1" stroke="#242424" stroke-width="1.30"/>
<path d="M208.2 29.6L204.2 30.1M205.5 28.1L204.2 30.1L205.6 31.8" stroke="#242424" stroke-width="1.30"/>
<path d="M208.2 41.6L203.2 41.1M204.9 38.9L203.2 41.1L204.9 43.5" stroke="#7c7c7c" stroke-width="0.95"/>
<path d="M208.2 53.5L203.2 53.0M204.9 50.9L203.2 53.0L204.9 55.5" stroke="#7c7c7c" stroke-width="0.95"/>
<path d="M208.2 65.5L203.2 65.5M204.9 63.2L203.2 65.5L204.9 67.8" stroke="#7c7c7c" stroke-width="0.95"/>
<path d="M208.2 77.5L203.2 73.5M205.0 72.5L203.2 73.5L204.8 77.1" stroke="#7c7c7c" stroke-width="0.95"/>
<path d="M208.2 89.5L203.2 85.5M205.0 84.5L203.2 85.5L204.8 89.1" stroke="#7c7c7c" stroke-width="0.95"/>
<path d="M208.2 101.5L203.7 97.5M205.3 96.7L203.7 97.5L205.1 100.9" stroke="#7c7c7c" stroke-width="0.95"/>
<path d="M208.2 113.4L204.2 109.4M205.7 108.9L204.2 109.4L205.4 112.6" stroke="#242424" stroke-width="1.30"/>
<path d="M208.2 125.4L204.2 121.4M205.7 120.9L204.2 121.4L205.4 124.6" stroke="#242424" stroke-width="1.30"/>
<path d="M208.2 137.4L204.2 133.4M205.7 132.9L204.2 133.4L205.4 136.6" stroke="#242424" stroke-width="1.30"/>
<path d="M208.2 149.4L204.2 145.4M205.7 144.9L204.2 145.4L205.4 148.5" stroke="#242424" stroke-width="1.30"/>
<path d="M208.2 161.4L205.2 158.4M206.3 158.0L205.2 158.4L206.1 160.7" stroke="#7c7c7c" stroke-width="0.95"/>
<path d="M208.2 173.3L205.2 170.3M206.3 169.9L205.2 170.3L206.1 172.7" stroke="#7c7c7c" stroke-width="0.95"/>
<path d="M208.2 185.3L205.2 182.3M206.3 181.9L205.2 182.3L206.1 184.7" stroke="#7c7c7c" stroke-width="0.95"/>
<path d="M208.2 197.3L205.7 194.8M206.6 194.5L205.7 194.8L206.5 196.8" stroke="#7c7c7c" stroke-width="0.95"/>
<path d="M208.2 209.3L205.7 206.8M206.6 206.4L205.7 206.8L206.5 208.8" stroke="#7c7c7c" stroke-width="0.95"/>
<path d="M208.2 221.3L205.7 218.8M206.6 218.4L205.7 218.8L206.5 220.7" stroke="#7c7c7c" stroke-width="0.95"/>
<path d="M224.7 17.6L219.7 17.6M221.3 15.3L219.7 17.6L221.3 19.9" stroke="#7c7c7c" stroke-width="0.95"/>
<path d="M224.7 29.6L218.2 28.6M220.4 25.9L218.2 28.6L220.3 31.9" stroke="#7c7c7c" stroke-width="0.95"/>
<path d="M224.7 41.6L217.7 40.6M220.0 37.7L217.7 40.6L220.0 44.1" stroke="#7c7c7c" stroke-width="0.95"/>
<path d="M224.7 53.5L218.2 53.0M220.4 50.2L218.2 53.0L220.3 56.2" stroke="#7c7c7c" stroke-width="0.95"/>
<path d="M224.7 65.5L218.7 65.5M220.7 62.7L218.7 65.5L220.7 68.3" stroke="#7c7c7c" stroke-width="0.95"/>
<path d="M224.7 77.5L219.7 74.0M221.4 72.8L219.7 74.0L221.3 77.5" stroke="#7c7c7c" stroke-width="0.95"/>
<path d="M224.7 89.5L219.7 86.0M221.4 84.8L219.7 86.0L221.3 89.4" stroke="#7c7c7c" stroke-width="0.95"/>
<path d="M224.7 101.5L219.7 98.0M221.4 96.8L219.7 98.0L221.3 101.4" stroke="#7c7c7c" stroke-width="0.95"/>
<path d="M224.7 113.4L220.7 109.9M222.1 109.2L220.7 109.9L221.9 112.9" stroke="#7c7c7c" stroke-width="0.95"/>
<path d="M224.7 125.4L220.7 121.4M222.1 120.9L220.7 121.4L221.9 124.6" stroke="#242424" stroke-width="1.30"/>
<path d="M224.7 137.4L220.7 133.9M222.1 133.2L220.7 133.9L221.9 136.9" stroke="#242424" stroke-width="1.30"/>
<path d="M224.7 149.4L220.7 145.9M222.1 145.2L220.7 145.9L221.9 148.9" stroke="#242424" stroke-width="1.30"/>
<path d="M224.7 161.4L220.7 158.4M222.1 157.5L220.7 158.4L221.9 161.2" stroke="#242424" stroke-width="1.30"/>
<path d="M224.7 173.3L220.7 170.3M222.1 169.5L220.7 170.3L221.9 173.2" stroke="#242424" stroke-width="1.30"/>
<path d="M224.7 185.3L220.7 182.3M222.1 181.5L220.7 182.3L221.9 185.2" stroke="#242424" stroke-width="1.30"/>
<path d="M224.7 197.3L220.7 194.3M222.1 193.4L220.7 194.3L221.9 197.1" stroke="#242424" stroke-width="1.30"/>
<path d="M224.7 209.3L220.7 206.3M222.1 205.4L220.7 206.3L221.9 209.1" stroke="#242424" stroke-width="1.30"/>
<path d="M224.7 221.3L220.7 218.3M222.1 217.4L220.7 218.3L221.9 221.1" stroke="#242424" stroke-width="1.30"/>
<path d="M241.2 17.6L230.2 17.6M233.8 12.5L230.2 17.6L233.8 22.7" stroke="#242424" stroke-width="1.30"/>
<path d="M241.2 29.6L233.2 29.6M235.8 25.9L233.2 29.6L235.8 33.3" stroke="#242424" stroke-width="1.30"/>
<path d="M241.2 41.6L233.7 41.1M236.2 37.8L233.7 41.1L236.1 44.7" stroke="#7c7c7c" stroke-width="0.95"/>
<path d="M241.2 53.5L234.2 53.5M236.5 50.3L234.2 53.5L236.5 56.8" stroke="#7c7c7c" stroke-width="0.95"/>
<path d="M241.2 65.5L234.7 65.5M236.8 62.5L234.7 65.5L236.8 68.5" stroke="#7c7c7c" stroke-width="0.95"/>
<path d="M241.2 77.5L236.7 74.0M238.2 73.1L236.7 74.0L238.1 77.2" stroke="#7c7c7c" stroke-width="0.95"/>
<path d="M241.2 89.5L237.2 86.5M238.6 85.6L237.2 86.5L238.4 89.3" stroke="#7c7c7c" stroke-width="0.95"/>
<path d="M241.2 101.5L237.7 98.5M238.9 97.8L237.7 98.5L238.7 101.1" stroke="#7c7c7c" stroke-width="0.95"/>
<path d="M241.2 113.4L238.2 110.4M239.2 110.0L238.2 110.4L239.1 112.8" stroke="#7c7c7c" stroke-width="0.95"/>
<path d="M241.2 125.4L238.2 122.4M239.2 122.0L238.2 122.4L239.1 124.8" stroke="#7c7c7c" stroke-width="0.95"/>
<path d="M241.2 137.4L238.2 134.9M239.2 134.3L238.2 134.9L239.1 137.1" stroke="#7c7c7c" stroke-width="0.95"/>
<path d="M241.2 149.4L238.2 146.9M239.2 146.3L238.2 146.9L239.1 149.1" stroke="#7c7c7c" stroke-width="0.95"/>
<path d="M241.2 161.4L237.7 158.9M238.9 158.1L237.7 158.9L238.8 161.3" stroke="#242424" stroke-width="1.30"/>
<path d="M241.2 173.3L237.7 170.8M238.9 170.0L237.7 170.8L238.8 173.3" stroke="#242424" stroke-width="1.30"/>
<path d="M241.2 185.3L237.7 182.8M238.9 182.0L237.7 182.8L238.8 185.3" stroke="#242424" stroke-width="1.30"/>
<path d="M241.2 197.3L237.7 194.8M238.9 194.0L237.7 194.8L238.8 197.2" stroke="#242424" stroke-width="1.30"/>
<path d="M241.2 209.3L237.7 206.8M238.9 206.0L237.7 206.8L238.8 209.2" stroke="#242424" stroke-width="1.30"/>
<path d="M241.2 221.3L237.7 218.8M238.9 218.0L237.7 218.8L238.8 221.2" stroke="#242424" stroke-width="1.30"/>
<path d="M257.6 17.6L254.6 19.6M255.6 17.6L254.6 19.6L255.7 20.3" stroke="#242424" stroke-width="1.30"/>
<path d="M257.6 29.6L249.6 29.6M252.3 25.9L249.6 29.6L252.3 33.3" stroke="#242424" stroke-width="1.30"/>
<path d="M257.6 41.6L249.6 41.6M252.3 37.9L249.6 41.6L252.3 45.3" stroke="#7c7c7c" stroke-width="0.95"/>
<path d="M257.6 53.5L249.6 53.5M252.3 49.8L249.6 53.5L252.3 57.2" stroke="#7c7c7c" stroke-width="0.95"/>
<path d="M257.6 65.5L251.1 65.5M253.3 62.5L251.1 65.5L253.3 68.5" stroke="#242424" stroke-width="1.30"/>
<path d="M257.6 77.5L251.6 75.0M253.7 73.1L251.6 75.0L253.6 78.6" stroke="#242424" stroke-width="1.30"/>
<path d="M257.6 89.5L252.1 87.0M254.0 85.3L252.1 87.0L253.9 90.3" stroke="#242424" stroke-width="1.30"/>
<path d="M257.6 101.5L252.1 99.5M254.0 97.6L252.1 99.5L253.9 102.7" stroke="#242424" stroke-width="1.30"/>
<path d="M257.6 113.4L252.6 111.4M254.3 109.8L252.6 111.4L254.2 114.4" stroke="#242424" stroke-width="1.30"/>
<path d="M257.6 125.4L253.1 123.4M254.7 122.0L253.1 123.4L254.6 126.2" stroke="#242424" stroke-width="1.30"/>
<path d="M257.6 137.4L254.1 135.4M255.3 134.4L254.1 135.4L255.2 137.7" stroke="#242424" stroke-width="1.30"/>
<path d="M257.6 149.4L254.1 147.4M255.3 146.4L254.1 147.4L255.2 149.7" stroke="#242424" stroke-width="1.30"/>
<path d="M257.6 161.4L254.1 159.4M255.3 158.4L254.1 159.4L255.2 161.6" stroke="#242424" stroke-width="1.30"/>
<path d="M257.6 173.3L254.1 171.3M255.3 170.4L254.1 171.3L255.2 173.6" stroke="#242424" stroke-width="1.30"/>
<path d="M257.6 185.3L254.1 183.3M255.3 182.4L254.1 183.3L255.2 185.6" stroke="#242424" stroke-width="1.30"/>
<path d="M257.6 197.3L254.1 195.3M255.3 194.3L254.1 195.3L255.2 197.6" stroke="#242424" stroke-width="1.30"/>
<path d="M257.6 209.3L254.1 206.8M255.4 206.0L254.1 206.8L255.2 209.2" stroke="#242424" stroke-width="1.30"/>
<circle cx="257.6" cy="221.3" r="0.55" fill="#808080"/>
<path d="M274.1 17.6L270.1 17.6M271.4 15.8L270.1 17.6L271.4 19.4" stroke="#7c7c7c" stroke-width="0.95"/>
<path d="M274.1 29.6L268.6 29.6M270.4 27.0L268.6 29.6L270.4 32.1" stroke="#7c7c7c" stroke-width="0.95"/>
<path d="M274.1 41.6L268.6 41.6M270.4 39.0L268.6 41.6L270.4 44.1" stroke="#7c7c7c" stroke-width="0.95"/>
<path d="M274.1 53.5L268.6 53.5M270.4 51.0L268.6 53.5L270.4 56.1" stroke="#7c7c7c" stroke-width="0.95"/>
<path d="M274.1 65.5L269.1 65.5M270.8 63.2L269.1 65.5L270.8 67.8" stroke="#7c7c7c" stroke-width="0.95"/>
<path d="M274.1 77.5L269.1 76.5M270.8 74.5L269.1 76.5L270.7 79.1" stroke="#7c7c7c" stroke-width="0.95"/>
<path d="M274.1 89.5L270.1 88.5M271.5 87.0L270.1 88.5L271.4 90.7" stroke="#242424" stroke-width="1.30"/>
<path d="M274.1 101.5L270.1 100.5M271.5 98.9L270.1 100.5L271.4 102.6" stroke="#242424" stroke-width="1.30"/>
<path d="M274.1 113.4L270.1 112.4M271.5 110.9L270.1 112.4L271.4 114.6" stroke="#242424" stroke-width="1.30"/>
<path d="M274.1 125.4L270.1 124.4M271.5 122.9L270.1 124.4L271.4 126.6" stroke="#242424" stroke-width="1.30"/>
<path d="M274.1 137.4L271.1 137.1M272.1 135.8L271.1 137.1L272.1 138.6" stroke="#242424" stroke-width="1.30"/>
<path d="M274.1 149.4L271.1 149.1M272.1 147.8L271.1 149.1L272.1 150.6" stroke="#242424" stroke-width="1.30"/>
<path d="M274.1 161.4L271.1 161.1M272.1 159.8L271.1 161.1L272.1 162.5" stroke="#242424" stroke-width="1.30"/>
<path d="M274.1 173.3L271.1 173.0M272.1 171.8L271.1 173.0L272.1 174.5" stroke="#242424" stroke-width="1.30"/>
<path d="M274.1 185.3L271.1 185.0M272.1 183.7L271.1 185.0L272.1 186.5" stroke="#242424" stroke-width="1.30"/>
<path d="M274.1 197.3L271.1 197.0M272.1 195.7L271.1 197.0L272.1 198.5" stroke="#242424" stroke-width="1.30"/>
<path d="M274.1 209.3L271.1 209.0M272.1 207.7L271.1 209.0L272.1 210.5" stroke="#242424" stroke-width="1.30"/>
<circle cx="274.1" cy="221.3" r="0.55" fill="#808080"/>
<path d="M290.6 17.6L286.6 18.6M287.9 16.4L286.6 18.6L287.9 20.1" stroke="#242424" stroke-width="1.30"/>
<path d="M290.6 29.6L286.6 31.1M287.9 28.7L286.6 31.1L287.9 32.4" stroke="#242424" stroke-width="1.30"/>
<path d="M290.6 41.6L287.1 42.6M288.2 40.6L287.1 42.6L288.3 43.8" stroke="#7c7c7c" stroke-width="0.95"/>
<path d="M290.6 53.5L287.6 55.0M288.5 53.2L287.6 55.0L288.6 55.9" stroke="#7c7c7c" stroke-width="0.95"/>
<path d="M290.6 65.5L287.6 67.0M288.5 65.1L287.6 67.0L288.6 67.9" stroke="#7c7c7c" stroke-width="0.95"/>
<path d="M290.6 77.5L287.6 78.5M288.5 76.8L287.6 78.5L288.6 79.6" stroke="#7c7c7c" stroke-width="0.95"/>
<path d="M290.6 89.5L287.6 90.0M288.6 88.4L287.6 90.0L288.6 91.2" stroke="#7c7c7c" stroke-width="0.95"/>
<path d="M290.6 101.5L287.6 102.0M288.6 100.4L287.6 102.0L288.6 103.2" stroke="#7c7c7c" stroke-width="0.95"/>
<path d="M290.6 113.4L287.6 113.4M288.6 112.1L287.6 113.4L288.6 114.8" stroke="#242424" stroke-width="1.30"/>
<path d="M290.6 125.4L287.6 125.4M288.6 124.0L287.6 125.4L288.6 126.8" stroke="#242424" stroke-width="1.30"/>
<path d="M290.6 137.4L288.1 137.4M288.9 136.2L288.1 137.4L288.9 138.6" stroke="#242424" stroke-width="1.30"/>
<path d="M290.6 149.4L288.1 149.4M288.9 148.2L288.1 149.4L288.9 150.5" stroke="#242424" stroke-width="1.30"/>
<path d="M290.6 161.4L288.1 161.4M288.9 160.2L288.1 161.4L288.9 162.5" stroke="#242424" stroke-width="1.30"/>
<path d="M290.6 173.3L288.1 173.3M288.9 172.2L288.1 173.3L288.9 174.5" stroke="#242424" stroke-width="1.30"/>
<path d="M290.6 185.3L288.1 185.3M288.9 184.2L288.1 185.3L288.9 186.5" stroke="#242424" stroke-width="1.30"/>
<path d="M290.6 197.3L288.1 197.3M288.9 196.1L288.1 197.3L288.9 198.5" stroke="#242424" stroke-width="1.30"/>
<path d="M290.6 209.3L288.6 209.3M289.2 208.4L288.6 209.3L289.2 210.2" stroke="#7c7c7c" stroke-width="0.95"/>
<circle cx="290.6" cy="221.3" r="0.55" fill="#808080"/>
<path d="M307.0 17.6L305.0 17.6M305.7 16.7L305.0 17.6L305.7 18.5" stroke="#7c7c7c" stroke-width="0.95"/>
<path d="M307.0 29.6L304.0 29.6M305.0 28.2L304.0 29.6L305.0 31.0" stroke="#7c7c7c" stroke-width="0.95"/>
<path d="M307.0 41.6L305.0 42.1M305.7 41.0L305.0 42.1L305.7 42.8" stroke="#7c7c7c" stroke-width="0.95"/>
<path d="M307.0 53.5L305.0 54.0M305.7 53.0L305.0 54.0L305.7 54.8" stroke="#7c7c7c" stroke-width="0.95"/>
<path d="M307.0 65.5L305.0 66.0M305.7 64.9L305.0 66.0L305.7 66.8" stroke="#7c7c7c" stroke-width="0.95"/>
<path d="M307.0 77.5L305.0 78.0M305.7 76.9L305.0 78.0L305.7 78.8" stroke="#7c7c7c" stroke-width="0.95"/>
<path d="M307.0 89.5L305.0 89.5M305.7 88.6L305.0 89.5L305.7 90.4" stroke="#242424" stroke-width="1.30"/>
<path d="M307.0 101.5L305.0 102.0M305.7 100.9L305.0 102.0L305.7 102.7" stroke="#7c7c7c" stroke-width="0.95"/>
<path d="M307.0 113.4L305.0 113.9M305.7 112.9L305.0 113.9L305.7 114.7" stroke="#7c7c7c" stroke-width="0.95"/>
<path d="M307.0 125.4L305.0 125.9M305.7 124.8L305.0 125.9L305.7 126.7" stroke="#7c7c7c" stroke-width="0.95"/>
<path d="M307.0 137.4L305.0 137.9M305.7 136.8L305.0 137.9L305.7 138.7" stroke="#7c7c7c" stroke-width="0.95"/>
<circle cx="307.0" cy="149.4" r="0.55" fill="#808080"/>
<circle cx="307.0" cy="161.4" r="0.55" fill="#808080"/>
<circle cx="307.0" cy="173.3" r="0.55" fill="#808080"/>
<circle cx="307.0" cy="185.3" r="0.55" fill="#808080"/>
<circle cx="307.0" cy="197.3" r="0.55" fill="#808080"/>
<circle cx="307.0" cy="209.3" r="0.55" fill="#808080"/>
<circle cx="307.0" cy="221.3" r="0.55" fill="#808080"/>
<path d="M323.5 17.6L321.5 17.6M322.2 16.7L321.5 17.6L322.2 18.5" stroke="#242424" stroke-width="1.30"/>
<path d="M323.5 29.6L320.5 29.6M321.5 28.2L320.5 29.6L321.5 31.0" stroke="#242424" stroke-width="1.30"/>
<path d="M323.5 41.6L321.5 41.6M322.2 40.6L321.5 41.6L322.2 42.5" stroke="#7c7c7c" stroke-width="0.95"/>
<circle cx="323.5" cy="53.5" r="0.55" fill="#808080"/>
<circle cx="323.5" cy="65.5" r="0.55" fill="#808080"/>
<circle cx="323.5" cy="77.5" r="0.55" fill="#808080"/>
<circle cx="323.5" cy="89.5" r="0.55" fill="#808080"/>
<circle cx="323.5" cy="101.5" r="0.55" fill="#808080"/>
<circle cx="323.5" cy="113.4" r="0.55" fill="#808080"/>
<circle cx="323.5" cy="125.4" r="0.55" fill="#808080"/>
<circle cx="323.5" cy="137.4" r="0.55" fill="#808080"/>
<circle cx="323.5" cy="149.4" r="0.55" fill="#808080"/>
<circle cx="323.5" cy="161.4" r="0.55" fill="#808080"/>
<circle cx="323.5" cy="173.3" r="0.55" fill="#808080"/>
<circle cx="323.5" cy="185.3" r="0.55" fill="#808080"/>
<circle cx="323.5" cy="197.3" r="0.55" fill="#808080"/>
<circle cx="323.5" cy="209.3" r="0.55" fill="#808080"/>
<circle cx="323.5" cy="221.3" r="0.55" fill="#808080"/>
<path d="M340.0 17.6L338.0 17.6M338.7 16.7L338.0 17.6L338.7 18.5" stroke="#242424" stroke-width="1.30"/>
<path d="M340.0 29.6L337.0 29.6M338.0 28.2L337.0 29.6L338.0 31.0" stroke="#242424" stroke-width="1.30"/>
<path d="M340.0 41.6L337.5 41.6M338.3 40.4L337.5 41.6L338.3 42.7" stroke="#7c7c7c" stroke-width="0.95"/>
<path d="M340.0 53.5L338.5 53.5M339.0 52.8L338.5 53.5L339.0 54.2" stroke="#7c7c7c" stroke-width="0.95"/>
<path d="M340.0 65.5L338.5 65.5M339.0 64.8L338.5 65.5L339.0 66.2" stroke="#7c7c7c" stroke-width="0.95"/>
<circle cx="340.0" cy="77.5" r="0.55" fill="#808080"/>
<circle cx="340.0" cy="89.5" r="0.55" fill="#808080"/>
<circle cx="340.0" cy="101.5" r="0.55" fill="#808080"/>
<circle cx="340.0" cy="113.4" r="0.55" fill="#808080"/>
<circle cx="340.0" cy="125.4" r="0.55" fill="#808080"/>
<circle cx="340.0" cy="137.4" r="0.55" fill="#808080"/>
<circle cx="340.0" cy="149.4" r="0.55" fill="#808080"/>
<circle cx="340.0" cy="161.4" r="0.55" fill="#808080"/>
<circle cx="340.0" cy="173.3" r="0.55" fill="#808080"/>
<circle cx="340.0" cy="185.3" r="0.55" fill="#808080"/>
<circle cx="340.0" cy="197.3" r="0.55" fill="#808080"/>
<circle cx="340.0" cy="209.3" r="0.55" fill="#808080"/>
<circle cx="340.0" cy="221.3" r="0.55" fill="#808080"/>
<circle cx="356.5" cy="17.6" r="0.55" fill="#808080"/>
<path d="M356.5 29.6L355.0 29.6M355.5 28.9L355.0 29.6L355.5 30.3" stroke="#242424" stroke-width="1.30"/>
<circle cx="356.5" cy="41.6" r="0.55" fill="#808080"/>
<circle cx="356.5" cy="53.5" r="0.55" fill="#808080"/>
<circle cx="356.5" cy="65.5" r="0.55" fill="#808080"/>
<circle cx="356.5" cy="77.5" r="0.55" fill="#808080"/>
<circle cx="356.5" cy="89.5" r="0.55" fill="#808080"/>
<circle cx="356.5" cy="101.5" r="0.55" fill="#808080"/>
<circle cx="356.5" cy="113.4" r="0.55" fill="#808080"/>
<circle cx="356.5" cy="125.4" r="0.55" fill="#808080"/>
<circle cx="356.5" cy="137.4" r="0.55" fill="#808080"/>
<circle cx="356.5" cy="149.4" r="0.55" fill="#808080"/>
<circle cx="356.5" cy="161.4" r="0.55" fill="#808080"/>
<circle cx="356.5" cy="173.3" r="0.55" fill="#808080"/>
<circle cx="356.5" cy="185.3" r="0.55" fill="#808080"/>
<circle cx="356.5" cy="197.3" r="0.55" fill="#808080"/>
<circle cx="356.5" cy="209.3" r="0.55" fill="#808080"/>
<circle cx="356.5" cy="221.3" r="0.55" fill="#808080"/>
<circle cx="372.9" cy="17.6" r="0.55" fill="#808080"/>
<circle cx="372.9" cy="29.6" r="0.55" fill="#808080"/>
<circle cx="372.9" cy="41.6" r="0.55" fill="#808080"/>
<circle cx="372.9" cy="53.5" r="0.55" fill="#808080"/>
<circle cx="372.9" cy="65.5" r="0.55" fill="#808080"/>
<circle cx="372.9" cy="77.5" r="0.55" fill="#808080"/>
<circle cx="372.9" cy="89.5" r="0.55" fill="#808080"/>
<circle cx="372.9" cy="101.5" r="0.55" fill="#808080"/>
<circle cx="372.9" cy="113.4" r="0.55" fill="#808080"/>
<circle cx="372.9" cy="125.4" r="0.55" fill="#808080"/>
<circle cx="372.9" cy="137.4" r="0.55" fill="#808080"/>
<circle cx="372.9" cy="149.4" r="0.55" fill="#808080"/>
<circle cx="372.9" cy="161.4" r="0.55" fill="#808080"/>
<circle cx="372.9" cy="173.3" r="0.55" fill="#808080"/>
<circle cx="372.9" cy="185.3" r="0.55" fill="#808080"/>
<circle cx="372.9" cy="197.3" r="0.55" fill="#808080"/>
<circle cx="372.9" cy="209.3" r="0.55" fill="#808080"/>
<circle cx="372.9" cy="221.3" r="0.55" fill="#808080"/>
<circle cx="389.4" cy="17.6" r="0.55" fill="#808080"/>
<circle cx="389.4" cy="29.6" r="0.55" fill="#808080"/>
<circle cx="389.4" cy="41.6" r="0.55" fill="#808080"/>
<circle cx="389.4" cy="53.5" r="0.55" fill="#808080"/>
<circle cx="389.4" cy="65.5" r="0.55" fill="#808080"/>
<circle cx="389.4" cy="77.5" r="0.55" fill="#808080"/>
<circle cx="389.4" cy="89.5" r="0.55" fill="#808080"/>
<circle cx="389.4" cy="101.5" r="0.55" fill="#808080"/>
<circle cx="389.4" cy="113.4" r="0.55" fill="#808080"/>
<circle cx="389.4" cy="125.4" r="0.55" fill="#808080"/>
<circle cx="389.4" cy="137.4" r="0.55" fill="#808080"/>
<circle cx="389.4" cy="149.4" r="0.55" fill="#808080"/>
<circle cx="389.4" cy="161.4" r="0.55" fill="#808080"/>
<circle cx="389.4" cy="173.3" r="0.55" fill="#808080"/>
<circle cx="389.4" cy="185.3" r="0.55" fill="#808080"/>
<circle cx="389.4" cy="197.3" r="0.55" fill="#808080"/>
<circle cx="389.4" cy="209.3" r="0.55" fill="#808080"/>
<circle cx="389.4" cy="221.3" r="0.55" fill="#808080"/>
<circle cx="405.9" cy="17.6" r="0.55" fill="#808080"/>
<circle cx="405.9" cy="29.6" r="0.55" fill="#808080"/>
<circle cx="405.9" cy="41.6" r="0.55" fill="#808080"/>
<circle cx="405.9" cy="53.5" r="0.55" fill="#808080"/>
<circle cx="405.9" cy="65.5" r="0.55" fill="#808080"/>
<circle cx="405.9" cy="77.5" r="0.55" fill="#808080"/>
<circle cx="405.9" cy="89.5" r="0.55" fill="#808080"/>
<circle cx="405.9" cy="101.5" r="0.55" fill="#808080"/>
<circle cx="405.9" cy="113.4" r="0.55" fill="#808080"/>
<circle cx="405.9" cy="125.4" r="0.55" fill="#808080"/>
<circle cx="405.9" cy="137.4" r="0.55" fill="#808080"/>
<circle cx="405.9" cy="149.4" r="0.55" fill="#808080"/>
<circle cx="405.9" cy="161.4" r="0.55" fill="#808080"/>
<circle cx="405.9" cy="173.3" r="0.55" fill="#808080"/>
<circle cx="405.9" cy="185.3" r="0.55" fill="#808080"/>
<circle cx="405.9" cy="197.3" r="0.55" fill="#808080"/>
<circle cx="405.9" cy="209.3" r="0.55" fill="#808080"/>
<circle cx="405.9" cy="221.3" r="0.55" fill="#808080"/>
</g>
<g clip-path="url(#cb)" fill="none" stroke-linecap="round" stroke-linejoin="round">
<circle cx="60.0" cy="257.8" r="0.55" fill="#808080"/>
<circle cx="60.0" cy="268.5" r="0.55" fill="#808080"/>
<circle cx="60.0" cy="279.2" r="0.55" fill="#808080"/>
<circle cx="60.0" cy="289.8" r="0.55" fill="#808080"/>
<circle cx="60.0" cy="300.5" r="0.55" fill="#808080"/>
<circle cx="60.0" cy="311.1" r="0.55" fill="#808080"/>
<circle cx="60.0" cy="321.8" r="0.55" fill="#808080"/>
<circle cx="60.0" cy="332.5" r="0.55" fill="#808080"/>
<circle cx="60.0" cy="343.1" r="0.55" fill="#808080"/>
<circle cx="60.0" cy="353.8" r="0.55" fill="#808080"/>
<circle cx="60.0" cy="364.4" r="0.55" fill="#808080"/>
<circle cx="60.0" cy="375.1" r="0.55" fill="#808080"/>
<circle cx="60.0" cy="385.8" r="0.55" fill="#808080"/>
<circle cx="60.0" cy="396.4" r="0.55" fill="#808080"/>
<circle cx="60.0" cy="407.1" r="0.55" fill="#808080"/>
<circle cx="60.0" cy="417.7" r="0.55" fill="#808080"/>
<circle cx="60.0" cy="428.4" r="0.55" fill="#808080"/>
<circle cx="60.0" cy="439.1" r="0.55" fill="#808080"/>
<circle cx="60.0" cy="449.7" r="0.55" fill="#808080"/>
<circle cx="60.0" cy="460.4" r="0.55" fill="#808080"/>
<path d="M76.5 257.8L76.5 256.4M76.6 256.9L76.5 256.4L76.4 256.9" stroke="#242424" stroke-width="1.30"/>
<path d="M76.5 268.5L76.5 267.1M76.6 267.6L76.5 267.1L76.4 267.6" stroke="#242424" stroke-width="1.30"/>
<path d="M76.5 279.2L76.5 277.8M76.6 278.2L76.5 277.8L76.4 278.2" stroke="#242424" stroke-width="1.30"/>
<path d="M76.5 289.8L76.5 288.4M76.6 288.9L76.5 288.4L76.4 288.9" stroke="#242424" stroke-width="1.30"/>
<path d="M76.5 300.5L76.5 299.1M76.6 299.5L76.5 299.1L76.4 299.5" stroke="#242424" stroke-width="1.30"/>
<path d="M76.5 311.1L76.5 309.7M76.6 310.2L76.5 309.7L76.4 310.2" stroke="#242424" stroke-width="1.30"/>
<path d="M76.5 321.8L76.5 320.4M76.6 320.9L76.5 320.4L76.4 320.9" stroke="#242424" stroke-width="1.30"/>
<path d="M76.5 332.5L76.5 331.1M76.6 331.5L76.5 331.1L76.4 331.5" stroke="#242424" stroke-width="1.30"/>
<path d="M76.5 343.1L76.5 341.7M76.6 342.2L76.5 341.7L76.4 342.2" stroke="#242424" stroke-width="1.30"/>
<path d="M76.5 353.8L76.5 352.4M76.6 352.8L76.5 352.4L76.4 352.8" stroke="#242424" stroke-width="1.30"/>
<path d="M76.5 364.4L76.5 363.0M76.6 363.5L76.5 363.0L76.4 363.5" stroke="#242424" stroke-width="1.30"/>
<circle cx="76.5" cy="375.1" r="0.55" fill="#808080"/>
<circle cx="76.5" cy="385.8" r="0.55" fill="#808080"/>
<circle cx="76.5" cy="396.4" r="0.55" fill="#808080"/>
<circle cx="76.5" cy="407.1" r="0.55" fill="#808080"/>
<circle cx="76.5" cy="417.7" r="0.55" fill="#808080"/>
<circle cx="76.5" cy="428.4" r="0.55" fill="#808080"/>
<circle cx="76.5" cy="439.1" r="0.55" fill="#808080"/>
<circle cx="76.5" cy="449.7" r="0.55" fill="#808080"/>
<circle cx="76.5" cy="460.4" r="0.55" fill="#808080"/>
<path d="M92.9 257.8L92.9 256.4M93.0 256.9L92.9 256.4L92.8 256.9" stroke="#242424" stroke-width="1.30"/>
<path d="M92.9 268.5L92.9 267.1M93.0 267.6L92.9 267.1L92.8 267.6" stroke="#242424" stroke-width="1.30"/>
<path d="M92.9 279.2L92.9 277.8M93.0 278.2L92.9 277.8L92.8 278.2" stroke="#242424" stroke-width="1.30"/>
<path d="M92.9 289.8L92.9 288.4M93.0 288.9L92.9 288.4L92.8 288.9" stroke="#242424" stroke-width="1.30"/>
<path d="M92.9 300.5L92.9 299.1M93.0 299.5L92.9 299.1L92.8 299.5" stroke="#242424" stroke-width="1.30"/>
<path d="M92.9 311.1L92.9 309.7M93.0 310.2L92.9 309.7L92.8 310.2" stroke="#242424" stroke-width="1.30"/>
<path d="M92.9 321.8L92.9 320.4M93.0 320.9L92.9 320.4L92.8 320.9" stroke="#242424" stroke-width="1.30"/>
<path d="M92.9 332.5L92.9 331.1M93.0 331.5L92.9 331.1L92.8 331.5" stroke="#242424" stroke-width="1.30"/>
<path d="M92.9 343.1L92.9 341.7M93.0 342.2L92.9 341.7L92.8 342.2" stroke="#242424" stroke-width="1.30"/>
<path d="M92.9 353.8L92.9 352.4M93.0 352.8L92.9 352.4L92.8 352.8" stroke="#242424" stroke-width="1.30"/>
<path d="M92.9 364.4L92.9 363.0M93.0 363.5L92.9 363.0L92.8 363.5" stroke="#242424" stroke-width="1.30"/>
<circle cx="92.9" cy="375.1" r="0.55" fill="#808080"/>
<circle cx="92.9" cy="385.8" r="0.55" fill="#808080"/>
<circle cx="92.9" cy="396.4" r="0.55" fill="#808080"/>
<circle cx="92.9" cy="407.1" r="0.55" fill="#808080"/>
<circle cx="92.9" cy="417.7" r="0.55" fill="#808080"/>
<circle cx="92.9" cy="428.4" r="0.55" fill="#808080"/>
<circle cx="92.9" cy="439.1" r="0.55" fill="#808080"/>
<circle cx="92.9" cy="449.7" r="0.55" fill="#808080"/>
<circle cx="92.9" cy="460.4" r="0.55" fill="#808080"/>
<path d="M109.4 257.8L109.6 255.3M109.7 256.2L109.6 255.3L109.4 256.2" stroke="#242424" stroke-width="1.30"/>
<path d="M109.4 268.5L109.6 266.0M109.7 266.8L109.6 266.0L109.4 266.8" stroke="#242424" stroke-width="1.30"/>
<path d="M109.4 279.2L109.6 276.7M109.7 277.5L109.6 276.7L109.4 277.5" stroke="#242424" stroke-width="1.30"/>
<path d="M109.4 289.8L109.6 287.3M109.7 288.2L109.6 287.3L109.4 288.1" stroke="#242424" stroke-width="1.30"/>
<path d="M109.4 300.5L109.6 298.0M109.7 298.8L109.6 298.0L109.4 298.8" stroke="#242424" stroke-width="1.30"/>
<path d="M109.4 311.1L109.6 308.6M109.7 309.5L109.6 308.6L109.4 309.5" stroke="#242424" stroke-width="1.30"/>
<path d="M109.4 321.8L109.6 319.3M109.7 320.1L109.6 319.3L109.4 320.1" stroke="#242424" stroke-width="1.30"/>
<path d="M109.4 332.5L109.6 330.0M109.7 330.8L109.6 330.0L109.4 330.8" stroke="#242424" stroke-width="1.30"/>
<path d="M109.4 343.1L109.6 340.6M109.7 341.5L109.6 340.6L109.4 341.4" stroke="#242424" stroke-width="1.30"/>
<path d="M109.4 353.8L109.6 351.3M109.7 352.1L109.6 351.3L109.4 352.1" stroke="#242424" stroke-width="1.30"/>
<path d="M109.4 364.4L109.6 361.9M109.7 362.8L109.6 361.9L109.4 362.8" stroke="#242424" stroke-width="1.30"/>
<path d="M109.4 375.1L109.4 373.1M109.6 373.8L109.4 373.1L109.3 373.8" stroke="#242424" stroke-width="1.30"/>
<path d="M109.4 385.8L109.4 383.8M109.6 384.4L109.4 383.8L109.3 384.4" stroke="#242424" stroke-width="1.30"/>
<path d="M109.4 396.4L109.7 391.9M109.9 393.4L109.7 391.9L109.3 393.4" stroke="#7c7c7c" stroke-width="0.95"/>
<path d="M109.4 407.1L108.6 402.6M109.2 404.0L108.6 402.6L108.5 404.1" stroke="#7c7c7c" stroke-width="0.95"/>
<path d="M109.4 417.7L108.6 413.7M109.2 415.0L108.6 413.7L108.6 415.1" stroke="#7c7c7c" stroke-width="0.95"/>
<path d="M109.4 428.4L108.9 425.4M109.3 426.4L108.9 425.4L108.9 426.4" stroke="#7c7c7c" stroke-width="0.95"/>
<path d="M109.4 439.1L109.4 436.1M109.6 437.1L109.4 436.1L109.2 437.1" stroke="#7c7c7c" stroke-width="0.95"/>
<circle cx="109.4" cy="449.7" r="0.55" fill="#808080"/>
<circle cx="109.4" cy="460.4" r="0.55" fill="#808080"/>
<path d="M125.9 257.8L127.1 252.3M127.1 254.2L127.1 252.3L126.3 254.1" stroke="#242424" stroke-width="1.30"/>
<path d="M125.9 268.5L127.4 263.0M127.3 264.9L127.4 263.0L126.5 264.7" stroke="#242424" stroke-width="1.30"/>
<path d="M125.9 279.2L127.1 273.7M127.1 275.6L127.1 273.7L126.3 275.4" stroke="#242424" stroke-width="1.30"/>
<path d="M125.9 289.8L126.9 284.8M126.9 286.5L126.9 284.8L126.2 286.4" stroke="#242424" stroke-width="1.30"/>
<path d="M125.9 300.5L126.9 295.0M126.9 296.9L126.9 295.0L126.2 296.7" stroke="#242424" stroke-width="1.30"/>
<path d="M125.9 311.1L126.9 305.6M126.9 307.5L126.9 305.6L126.2 307.4" stroke="#242424" stroke-width="1.30"/>
<path d="M125.9 321.8L126.7 316.8M126.8 318.5L126.7 316.8L126.1 318.4" stroke="#242424" stroke-width="1.30"/>
<path d="M125.9 332.5L126.7 327.5M126.8 329.2L126.7 327.5L126.1 329.1" stroke="#242424" stroke-width="1.30"/>
<path d="M125.9 343.1L126.7 338.1M126.8 339.8L126.7 338.1L126.1 339.7" stroke="#242424" stroke-width="1.30"/>
<path d="M125.9 353.8L126.7 348.8M126.8 350.5L126.7 348.8L126.1 350.4" stroke="#242424" stroke-width="1.30"/>
<path d="M125.9 364.4L126.7 359.4M126.8 361.1L126.7 359.4L126.1 361.0" stroke="#242424" stroke-width="1.30"/>
<path d="M125.9 375.1L126.3 370.7M126.5 372.2L126.3 370.7L125.8 372.1" stroke="#242424" stroke-width="1.30"/>
<path d="M125.9 385.8L126.3 381.4M126.5 382.9L126.3 381.4L125.8 382.8" stroke="#242424" stroke-width="1.30"/>
<path d="M125.9 396.4L126.3 392.0M126.5 393.5L126.3 392.0L125.8 393.5" stroke="#242424" stroke-width="1.30"/>
<path d="M125.9 407.1L126.3 402.7M126.5 404.2L126.3 402.7L125.8 404.1" stroke="#242424" stroke-width="1.30"/>
<path d="M125.9 417.7L126.3 413.4M126.5 414.8L126.3 413.4L125.8 414.8" stroke="#242424" stroke-width="1.30"/>
<path d="M125.9 428.4L126.3 424.0M126.5 425.5L126.3 424.0L125.8 425.4" stroke="#242424" stroke-width="1.30"/>
<path d="M125.9 439.1L125.9 433.1M126.3 435.0L125.9 433.1L125.4 435.0" stroke="#7c7c7c" stroke-width="0.95"/>
<path d="M125.9 449.7L125.9 444.7M126.2 446.4L125.9 444.7L125.5 446.4" stroke="#7c7c7c" stroke-width="0.95"/>
<path d="M125.9 460.4L126.2 457.4M126.3 458.4L126.2 457.4L125.9 458.3" stroke="#7c7c7c" stroke-width="0.95"/>
<path d="M142.3 257.8L144.8 248.8M144.7 252.0L144.8 248.8L143.4 251.6" stroke="#242424" stroke-width="1.30"/>
<path d="M142.3 268.5L144.8 260.0M144.6 263.0L144.8 260.0L143.4 262.6" stroke="#242424" stroke-width="1.30"/>
<path d="M142.3 279.2L145.3 268.7M145.1 272.3L145.3 268.7L143.6 271.9" stroke="#242424" stroke-width="1.30"/>
<path d="M142.3 289.8L144.8 280.8M144.6 284.0L144.8 280.8L143.3 283.6" stroke="#242424" stroke-width="1.30"/>
<path d="M142.3 300.5L145.0 291.2M144.8 294.4L145.0 291.2L143.5 294.1" stroke="#242424" stroke-width="1.30"/>
<path d="M142.3 311.1L145.0 301.5M144.9 304.9L145.0 301.5L143.5 304.5" stroke="#242424" stroke-width="1.30"/>
<path d="M142.3 321.8L143.8 311.8M144.1 315.2L143.8 311.8L142.6 315.0" stroke="#242424" stroke-width="1.30"/>
<path d="M142.3 332.5L143.8 322.5M144.1 325.9L143.8 322.5L142.6 325.7" stroke="#242424" stroke-width="1.30"/>
<path d="M142.3 343.1L143.8 333.1M144.1 336.5L143.8 333.1L142.6 336.3" stroke="#242424" stroke-width="1.30"/>
<path d="M142.3 353.8L143.8 343.8M144.1 347.2L143.8 343.8L142.6 347.0" stroke="#242424" stroke-width="1.30"/>
<path d="M142.3 364.4L143.8 354.4M144.1 357.8L143.8 354.4L142.6 357.6" stroke="#242424" stroke-width="1.30"/>
<path d="M142.3 375.1L143.0 368.9M143.2 371.0L143.0 368.9L142.3 370.9" stroke="#242424" stroke-width="1.30"/>
<path d="M142.3 385.8L143.0 379.5M143.2 381.6L143.0 379.5L142.3 381.5" stroke="#242424" stroke-width="1.30"/>
<path d="M142.3 396.4L143.0 390.2M143.2 392.3L143.0 390.2L142.3 392.2" stroke="#242424" stroke-width="1.30"/>
<path d="M142.3 407.1L143.0 400.8M143.2 402.9L143.0 400.8L142.3 402.8" stroke="#242424" stroke-width="1.30"/>
<path d="M142.3 417.7L143.0 411.5M143.2 413.6L143.0 411.5L142.3 413.5" stroke="#242424" stroke-width="1.30"/>
<path d="M142.3 428.4L143.0 422.1M143.2 424.3L143.0 422.1L142.3 424.2" stroke="#242424" stroke-width="1.30"/>
<path d="M142.3 439.1L142.7 434.7M142.9 436.2L142.7 434.7L142.3 436.1" stroke="#242424" stroke-width="1.30"/>
<path d="M142.3 449.7L142.7 445.3M142.9 446.8L142.7 445.3L142.3 446.8" stroke="#242424" stroke-width="1.30"/>
<path d="M142.3 460.4L142.7 456.9M142.8 458.1L142.7 456.9L142.3 458.0" stroke="#242424" stroke-width="1.30"/>
<path d="M158.8 257.8L163.8 243.3M163.2 248.5L163.8 243.3L161.1 247.8" stroke="#242424" stroke-width="1.30"/>
<path d="M158.8 268.5L163.8 254.0M163.2 259.1L163.8 254.0L161.1 258.4" stroke="#242424" stroke-width="1.30"/>
<path d="M158.8 279.2L164.4 264.2M163.7 269.5L164.4 264.2L161.5 268.7" stroke="#242424" stroke-width="1.30"/>
<path d="M158.8 289.8L163.6 275.4M163.1 280.5L163.6 275.4L161.0 279.8" stroke="#242424" stroke-width="1.30"/>
<path d="M158.8 300.5L163.6 286.1M163.1 291.2L163.6 286.1L161.0 290.5" stroke="#242424" stroke-width="1.30"/>
<path d="M158.8 311.1L163.6 297.5M163.0 302.4L163.6 297.5L161.0 301.7" stroke="#242424" stroke-width="1.30"/>
<path d="M158.8 321.8L163.6 306.8M163.1 312.1L163.6 306.8L160.9 311.4" stroke="#242424" stroke-width="1.30"/>
<path d="M158.8 332.5L160.3 322.0M160.6 325.5L160.3 322.0L159.1 325.3" stroke="#242424" stroke-width="1.30"/>
<path d="M158.8 343.1L160.3 332.6M160.6 336.2L160.3 332.6L159.1 336.0" stroke="#242424" stroke-width="1.30"/>
<path d="M158.8 353.8L160.3 343.3M160.6 346.9L160.3 343.3L159.1 346.6" stroke="#242424" stroke-width="1.30"/>
<path d="M158.8 364.4L160.3 353.9M160.6 357.5L160.3 353.9L159.1 357.3" stroke="#242424" stroke-width="1.30"/>
<path d="M158.8 375.1L159.8 367.6M160.0 370.1L159.8 367.6L158.9 370.0" stroke="#242424" stroke-width="1.30"/>
<path d="M158.8 385.8L159.8 378.3M160.0 380.8L159.8 378.3L158.9 380.7" stroke="#242424" stroke-width="1.30"/>
<path d="M158.8 396.4L159.8 388.9M160.0 391.5L159.8 388.9L158.9 391.3" stroke="#242424" stroke-width="1.30"/>
<path d="M158.8 407.1L159.8 399.6M160.0 402.1L159.8 399.6L158.9 402.0" stroke="#242424" stroke-width="1.30"/>
<path d="M158.8 417.7L159.8 410.2M160.0 412.8L159.8 410.2L158.9 412.6" stroke="#242424" stroke-width="1.30"/>
<path d="M158.8 428.4L159.8 420.9M160.0 423.4L159.8 420.9L158.9 423.3" stroke="#242424" stroke-width="1.30"/>
<path d="M158.8 439.1L159.4 434.1M159.6 435.8L159.4 434.1L158.9 435.7" stroke="#242424" stroke-width="1.30"/>
<path d="M158.8 449.7L159.4 444.7M159.6 446.4L159.4 444.7L158.9 446.3" stroke="#242424" stroke-width="1.30"/>
<path d="M158.8 460.4L159.3 456.4M159.4 457.7L159.3 456.4L158.9 457.7" stroke="#242424" stroke-width="1.30"/>
<path d="M175.3 257.8L182.8 240.3M181.6 246.7L182.8 240.3L179.0 245.6" stroke="#242424" stroke-width="1.30"/>
<path d="M175.3 268.5L182.8 251.0M181.6 257.3L182.8 251.0L179.0 256.2" stroke="#242424" stroke-width="1.30"/>
<path d="M175.3 279.2L182.8 261.7M181.6 268.0L182.8 261.7L179.0 266.9" stroke="#242424" stroke-width="1.30"/>
<path d="M175.3 289.8L181.8 271.8M181.0 278.2L181.8 271.8L178.3 277.3" stroke="#242424" stroke-width="1.30"/>
<path d="M175.3 300.5L181.3 282.5M180.6 288.9L181.3 282.5L178.0 288.0" stroke="#242424" stroke-width="1.30"/>
<path d="M175.3 311.1L180.3 296.1M179.7 301.5L180.3 296.1L177.6 300.7" stroke="#242424" stroke-width="1.30"/>
<path d="M175.3 321.8L179.8 307.8M179.3 312.7L179.8 307.8L177.3 312.1" stroke="#242424" stroke-width="1.30"/>
<path d="M175.3 332.5L176.8 322.0M177.1 325.5L176.8 322.0L175.5 325.3" stroke="#242424" stroke-width="1.30"/>
<path d="M175.3 343.1L176.8 332.6M177.1 336.2L176.8 332.6L175.5 336.0" stroke="#242424" stroke-width="1.30"/>
<path d="M175.3 353.8L176.8 343.3M177.1 346.9L176.8 343.3L175.5 346.6" stroke="#242424" stroke-width="1.30"/>
<path d="M175.3 364.4L176.8 353.9M177.1 357.5L176.8 353.9L175.5 357.3" stroke="#242424" stroke-width="1.30"/>
<path d="M175.3 375.1L176.0 368.9M176.2 371.0L176.0 368.9L175.3 370.9" stroke="#242424" stroke-width="1.30"/>
<path d="M175.3 385.8L176.0 379.5M176.2 381.6L176.0 379.5L175.3 381.5" stroke="#242424" stroke-width="1.30"/>
<path d="M175.3 396.4L176.0 390.2M176.2 392.3L176.0 390.2L175.3 392.2" stroke="#242424" stroke-width="1.30"/>
<path d="M175.3 407.1L176.0 400.8M176.2 402.9L176.0 400.8L175.3 402.8" stroke="#242424" stroke-width="1.30"/>
<path d="M175.3 417.7L176.0 411.5M176.2 413.6L176.0 411.5L175.3 413.5" stroke="#242424" stroke-width="1.30"/>
<path d="M175.3 428.4L176.0 422.1M176.2 424.3L176.0 422.1L175.3 424.2" stroke="#242424" stroke-width="1.30"/>
<path d="M175.3 439.1L176.0 432.8M176.2 434.9L176.0 432.8L175.3 434.8" stroke="#242424" stroke-width="1.30"/>
<path d="M175.3 449.7L175.9 444.7M176.1 446.4L175.9 444.7L175.3 446.3" stroke="#242424" stroke-width="1.30"/>
<path d="M175.3 460.4L173.8 450.4M175.0 453.6L173.8 450.4L173.6 453.8" stroke="#7c7c7c" stroke-width="0.95"/>
<path d="M191.8 257.8L201.8 240.3M199.7 246.8L201.8 240.3L197.2 245.4" stroke="#242424" stroke-width="1.30"/>
<path d="M191.8 268.5L201.8 251.0M199.7 257.5L201.8 251.0L197.2 256.0" stroke="#242424" stroke-width="1.30"/>
<path d="M191.8 279.2L201.8 261.7M199.7 268.2L201.8 261.7L197.2 266.7" stroke="#242424" stroke-width="1.30"/>
<path d="M191.8 289.8L199.8 272.8M198.4 279.0L199.8 272.8L195.9 277.8" stroke="#242424" stroke-width="1.30"/>
<path d="M191.8 300.5L198.8 284.5M197.6 290.3L198.8 284.5L195.3 289.3" stroke="#242424" stroke-width="1.30"/>
<path d="M191.8 311.1L198.8 297.1M197.5 302.3L198.8 297.1L195.4 301.3" stroke="#242424" stroke-width="1.30"/>
<path d="M191.8 321.8L194.8 311.8M194.5 315.3L194.8 311.8L193.0 314.9" stroke="#242424" stroke-width="1.30"/>
<path d="M191.8 332.5L194.2 321.5M194.2 325.3L194.2 321.5L192.6 324.9" stroke="#242424" stroke-width="1.30"/>
<path d="M191.8 343.1L193.8 333.1M193.8 336.6L193.8 333.1L192.4 336.3" stroke="#242424" stroke-width="1.30"/>
<path d="M191.8 353.8L193.4 344.8M193.5 347.9L193.4 344.8L192.2 347.6" stroke="#242424" stroke-width="1.30"/>
<path d="M191.8 364.4L193.0 356.8M193.1 359.4L193.0 356.8L192.0 359.3" stroke="#242424" stroke-width="1.30"/>
<path d="M191.8 375.1L192.8 369.1M192.9 371.2L192.8 369.1L192.0 371.0" stroke="#242424" stroke-width="1.30"/>
<path d="M191.8 385.8L192.8 380.8M192.8 382.5L192.8 380.8L192.1 382.3" stroke="#242424" stroke-width="1.30"/>
<path d="M191.8 396.4L192.3 392.4M192.4 393.8L192.3 392.4L191.8 393.7" stroke="#242424" stroke-width="1.30"/>
<path d="M191.8 407.1L192.3 404.1M192.3 405.1L192.3 404.1L191.9 405.0" stroke="#242424" stroke-width="1.30"/>
<path d="M191.8 417.7L196.8 404.7M196.1 409.4L196.8 404.7L194.2 408.7" stroke="#7c7c7c" stroke-width="0.95"/>
<path d="M191.8 428.4L195.8 416.4M195.3 420.7L195.8 416.4L193.6 420.1" stroke="#7c7c7c" stroke-width="0.95"/>
<path d="M191.8 439.1L194.8 428.1M194.6 431.9L194.8 428.1L193.0 431.5" stroke="#7c7c7c" stroke-width="0.95"/>
<path d="M191.8 449.7L192.8 440.3M193.1 443.5L192.8 440.3L191.7 443.3" stroke="#7c7c7c" stroke-width="0.95"/>
<path d="M191.8 460.4L188.8 455.4M190.1 456.8L188.8 455.4L189.4 457.2" stroke="#7c7c7c" stroke-width="0.95"/>
<path d="M208.2 257.8L218.2 245.8M215.8 250.5L218.2 245.8L214.1 249.1" stroke="#242424" stroke-width="1.30"/>
<path d="M208.2 268.5L218.2 256.5M215.8 261.2L218.2 256.5L214.1 259.7" stroke="#242424" stroke-width="1.30"/>
<path d="M208.2 279.2L218.7 266.2M216.2 271.2L218.7 266.2L214.3 269.7" stroke="#242424" stroke-width="1.30"/>
<path d="M208.2 289.8L217.2 276.8M215.2 281.8L217.2 276.8L213.3 280.5" stroke="#242424" stroke-width="1.30"/>
<path d="M208.2 300.5L216.2 289.0M214.4 293.4L216.2 289.0L212.8 292.2" stroke="#242424" stroke-width="1.30"/>
<path d="M208.2 311.1L215.2 300.5M213.7 304.5L215.2 300.5L212.2 303.5" stroke="#242424" stroke-width="1.30"/>
<path d="M208.2 321.8L213.2 313.8M212.2 316.8L213.2 313.8L211.0 316.1" stroke="#242424" stroke-width="1.30"/>
<path d="M208.2 332.5L211.2 324.5M210.8 327.3L211.2 324.5L209.7 326.9" stroke="#242424" stroke-width="1.30"/>
<path d="M208.2 343.1L210.2 336.7M210.0 339.0L210.2 336.7L209.1 338.7" stroke="#242424" stroke-width="1.30"/>
<path d="M208.2 353.8L209.8 348.8M209.7 350.5L209.8 348.8L208.9 350.3" stroke="#242424" stroke-width="1.30"/>
<path d="M208.2 364.4L209.6 360.8M209.4 362.1L209.6 360.8L208.9 361.9" stroke="#242424" stroke-width="1.30"/>
<path d="M208.2 375.1L212.2 358.1M212.1 364.0L212.2 358.1L209.7 363.4" stroke="#7c7c7c" stroke-width="0.95"/>
<path d="M208.2 385.8L212.2 372.8M211.9 377.3L212.2 372.8L210.0 376.8" stroke="#7c7c7c" stroke-width="0.95"/>
<path d="M208.2 396.4L213.2 387.4M212.2 390.8L213.2 387.4L210.9 390.0" stroke="#7c7c7c" stroke-width="0.95"/>
<path d="M208.2 407.1L213.2 400.1M212.1 402.8L213.2 400.1L211.1 402.0" stroke="#7c7c7c" stroke-width="0.95"/>
<path d="M208.2 417.7L212.2 412.7M211.3 414.7L212.2 412.7L210.5 414.1" stroke="#7c7c7c" stroke-width="0.95"/>
<path d="M208.2 428.4L212.2 423.4M211.3 425.3L212.2 423.4L210.5 424.8" stroke="#7c7c7c" stroke-width="0.95"/>
<path d="M208.2 439.1L209.2 435.1M209.2 436.5L209.2 435.1L208.6 436.3" stroke="#7c7c7c" stroke-width="0.95"/>
<path d="M208.2 449.7L203.2 450.7M204.8 450.0L203.2 450.7L205.0 450.8" stroke="#7c7c7c" stroke-width="0.95"/>
<path d="M208.2 460.4L205.2 460.4M206.2 460.2L205.2 460.4L206.2 460.6" stroke="#7c7c7c" stroke-width="0.95"/>
<path d="M224.7 257.8L236.7 249.6M233.3 253.2L236.7 249.6L232.1 251.5" stroke="#242424" stroke-width="1.30"/>
<path d="M224.7 268.5L236.7 260.3M233.3 263.9L236.7 260.3L232.1 262.1" stroke="#242424" stroke-width="1.30"/>
<path d="M224.7 279.2L235.7 271.0M232.7 274.5L235.7 271.0L231.5 272.9" stroke="#242424" stroke-width="1.30"/>
<path d="M224.7 289.8L234.1 281.8M231.6 285.1L234.1 281.8L230.4 283.8" stroke="#242424" stroke-width="1.30"/>
<path d="M224.7 300.5L232.7 293.1M230.6 296.1L232.7 293.1L229.5 294.9" stroke="#242424" stroke-width="1.30"/>
<path d="M224.7 311.1L230.7 304.5M229.2 307.2L230.7 304.5L228.2 306.3" stroke="#242424" stroke-width="1.30"/>
<path d="M224.7 321.8L228.7 316.8M227.7 318.7L228.7 316.8L227.0 318.2" stroke="#242424" stroke-width="1.30"/>
<path d="M224.7 332.5L227.7 328.5M227.0 330.0L227.7 328.5L226.4 329.6" stroke="#242424" stroke-width="1.30"/>
<path d="M224.7 343.1L226.7 340.7M226.2 341.7L226.7 340.7L225.9 341.4" stroke="#242424" stroke-width="1.30"/>
<path d="M224.7 353.8L229.7 342.8M228.8 346.8L229.7 342.8L227.3 346.0" stroke="#7c7c7c" stroke-width="0.95"/>
<path d="M224.7 364.4L227.7 357.8M227.2 360.2L227.7 357.8L226.2 359.8" stroke="#7c7c7c" stroke-width="0.95"/>
<path d="M224.7 375.1L227.7 370.1M227.1 372.0L227.7 370.1L226.3 371.5" stroke="#7c7c7c" stroke-width="0.95"/>
<path d="M224.7 385.8L228.3 383.4M227.3 384.4L228.3 383.4L226.9 383.9" stroke="#7c7c7c" stroke-width="0.95"/>
<path d="M224.7 396.4L228.3 396.4M227.1 396.7L228.3 396.4L227.1 396.2" stroke="#7c7c7c" stroke-width="0.95"/>
<path d="M224.7 407.1L227.7 407.1M226.7 407.3L227.7 407.1L226.7 406.9" stroke="#7c7c7c" stroke-width="0.95"/>
<path d="M224.7 417.7L228.3 418.7M227.0 418.7L228.3 418.7L227.2 418.1" stroke="#7c7c7c" stroke-width="0.95"/>
<circle cx="224.7" cy="428.4" r="0.55" fill="#808080"/>
<circle cx="224.7" cy="439.1" r="0.55" fill="#808080"/>
<path d="M224.7 449.7L216.7 452.7M219.1 451.1L216.7 452.7L219.6 452.3" stroke="#7c7c7c" stroke-width="0.95"/>
<circle cx="224.7" cy="460.4" r="0.55" fill="#808080"/>
<path d="M241.2 257.8L252.8 252.8M249.3 255.3L252.8 252.8L248.6 253.6" stroke="#242424" stroke-width="1.30"/>
<path d="M241.2 268.5L252.8 263.5M249.3 266.0L252.8 263.5L248.6 264.3" stroke="#242424" stroke-width="1.30"/>
<path d="M241.2 279.2L251.4 274.4M248.4 276.7L251.4 274.4L247.7 275.2" stroke="#242424" stroke-width="1.30"/>
<path d="M241.2 289.8L249.8 285.4M247.3 287.5L249.8 285.4L246.6 286.2" stroke="#242424" stroke-width="1.30"/>
<path d="M241.2 300.5L247.8 296.5M245.9 298.3L247.8 296.5L245.3 297.3" stroke="#242424" stroke-width="1.30"/>
<path d="M241.2 311.1L246.8 307.5M245.2 309.1L246.8 307.5L244.7 308.3" stroke="#242424" stroke-width="1.30"/>
<path d="M241.2 321.8L244.2 319.8M243.3 320.7L244.2 319.8L243.0 320.2" stroke="#242424" stroke-width="1.30"/>
<path d="M241.2 332.5L243.8 331.3M243.0 331.8L243.8 331.3L242.8 331.5" stroke="#242424" stroke-width="1.30"/>
<path d="M241.2 343.1L245.8 340.7M244.4 341.8L245.8 340.7L244.1 341.2" stroke="#7c7c7c" stroke-width="0.95"/>
<path d="M241.2 353.8L244.2 352.8M243.3 353.3L244.2 352.8L243.1 352.9" stroke="#7c7c7c" stroke-width="0.95"/>
<path d="M241.2 364.4L243.2 366.2M242.4 365.8L243.2 366.2L242.6 365.5" stroke="#7c7c7c" stroke-width="0.95"/>
<path d="M241.2 375.1L243.2 376.9M242.4 376.5L243.2 376.9L242.6 376.2" stroke="#7c7c7c" stroke-width="0.95"/>
<path d="M241.2 385.8L243.2 388.8M242.3 387.9L243.2 388.8L242.7 387.6" stroke="#7c7c7c" stroke-width="0.95"/>
<path d="M241.2 396.4L243.2 398.4M242.4 397.9L243.2 398.4L242.7 397.6" stroke="#7c7c7c" stroke-width="0.95"/>
<path d="M241.2 407.1L243.2 409.1M242.4 408.6L243.2 409.1L242.7 408.3" stroke="#7c7c7c" stroke-width="0.95"/>
<path d="M241.2 417.7L243.2 419.7M242.4 419.2L243.2 419.7L242.7 418.9" stroke="#7c7c7c" stroke-width="0.95"/>
<path d="M241.2 428.4L242.8 430.0M242.1 429.6L242.8 430.0L242.4 429.4" stroke="#7c7c7c" stroke-width="0.95"/>
<circle cx="241.2" cy="439.1" r="0.55" fill="#808080"/>
<path d="M241.2 449.7L233.4 449.3M236.0 448.9L233.4 449.3L235.9 450.0" stroke="#7c7c7c" stroke-width="0.95"/>
<path d="M241.2 460.4L233.2 460.4M235.8 459.8L233.2 460.4L235.8 461.0" stroke="#242424" stroke-width="1.30"/>
<path d="M257.6 257.8L267.6 256.2M264.5 257.5L267.6 256.2L264.2 256.0" stroke="#242424" stroke-width="1.30"/>
<path d="M257.6 268.5L267.6 266.9M264.5 268.2L267.6 266.9L264.2 266.7" stroke="#242424" stroke-width="1.30"/>
<path d="M257.6 279.2L266.6 276.8M263.8 278.2L266.6 276.8L263.5 276.9" stroke="#242424" stroke-width="1.30"/>
<path d="M257.6 289.8L265.6 287.0M263.2 288.5L265.6 287.0L262.8 287.4" stroke="#242424" stroke-width="1.30"/>
<path d="M257.6 300.5L263.6 298.3M261.8 299.4L263.6 298.3L261.5 298.6" stroke="#242424" stroke-width="1.30"/>
<path d="M257.6 311.1L261.6 309.5M260.4 310.4L261.6 309.5L260.2 309.8" stroke="#242424" stroke-width="1.30"/>
<path d="M257.6 321.8L259.6 321.8M259.0 321.9L259.6 321.8L259.0 321.7" stroke="#242424" stroke-width="1.30"/>
<path d="M257.6 332.5L261.6 332.9M260.3 333.0L261.6 332.9L260.3 332.4" stroke="#7c7c7c" stroke-width="0.95"/>
<path d="M257.6 343.1L259.2 344.7M258.6 344.3L259.2 344.7L258.8 344.1" stroke="#7c7c7c" stroke-width="0.95"/>
<path d="M257.6 353.8L258.6 355.3M258.2 354.9L258.6 355.3L258.4 354.7" stroke="#7c7c7c" stroke-width="0.95"/>
<path d="M257.6 364.4L258.0 366.4M257.8 365.8L258.0 366.4L258.1 365.8" stroke="#7c7c7c" stroke-width="0.95"/>
<path d="M257.6 375.1L258.0 377.1M257.8 376.5L258.0 377.1L258.1 376.4" stroke="#7c7c7c" stroke-width="0.95"/>
<path d="M257.6 385.8L258.6 387.8M258.2 387.2L258.6 387.8L258.5 387.0" stroke="#7c7c7c" stroke-width="0.95"/>
<path d="M257.6 396.4L258.6 398.4M258.2 397.8L258.6 398.4L258.5 397.7" stroke="#7c7c7c" stroke-width="0.95"/>
<path d="M257.6 407.1L258.6 409.1M258.2 408.5L258.6 409.1L258.5 408.3" stroke="#7c7c7c" stroke-width="0.95"/>
<circle cx="257.6" cy="417.7" r="0.55" fill="#808080"/>
<circle cx="257.6" cy="428.4" r="0.55" fill="#808080"/>
<circle cx="257.6" cy="439.1" r="0.55" fill="#808080"/>
<path d="M257.6 449.7L252.6 447.1M254.5 447.6L252.6 447.1L254.1 448.3" stroke="#7c7c7c" stroke-width="0.95"/>
<circle cx="257.6" cy="460.4" r="0.55" fill="#808080"/>
<path d="M274.1 257.8L283.1 257.8M280.1 258.5L283.1 257.8L280.1 257.2" stroke="#242424" stroke-width="1.30"/>
<path d="M274.1 268.5L283.1 268.5M280.1 269.2L283.1 268.5L280.1 267.8" stroke="#242424" stroke-width="1.30"/>
<path d="M274.1 279.2L282.5 279.2M279.7 279.8L282.5 279.2L279.7 278.6" stroke="#242424" stroke-width="1.30"/>
<path d="M274.1 289.8L281.1 289.2M278.8 289.9L281.1 289.2L278.8 288.9" stroke="#242424" stroke-width="1.30"/>
<path d="M274.1 300.5L279.7 300.5M277.9 300.9L279.7 300.5L277.9 300.1" stroke="#242424" stroke-width="1.30"/>
<path d="M274.1 311.1L277.1 311.1M276.1 311.4L277.1 311.1L276.1 310.9" stroke="#242424" stroke-width="1.30"/>
<circle cx="274.1" cy="321.8" r="0.55" fill="#808080"/>
<path d="M274.1 332.5L275.7 334.1M275.1 333.6L275.7 334.1L275.3 333.4" stroke="#7c7c7c" stroke-width="0.95"/>
<path d="M274.1 343.1L275.1 345.1M274.6 344.5L275.1 345.1L274.9 344.4" stroke="#7c7c7c" stroke-width="0.95"/>
<path d="M274.1 353.8L274.7 355.8M274.4 355.2L274.7 355.8L274.7 355.1" stroke="#7c7c7c" stroke-width="0.95"/>
<path d="M274.1 364.4L274.7 366.4M274.4 365.8L274.7 366.4L274.7 365.7" stroke="#7c7c7c" stroke-width="0.95"/>
<path d="M274.1 375.1L275.1 377.1M274.6 376.5L275.1 377.1L274.9 376.4" stroke="#7c7c7c" stroke-width="0.95"/>
<circle cx="274.1" cy="385.8" r="0.55" fill="#808080"/>
<circle cx="274.1" cy="396.4" r="0.55" fill="#808080"/>
<circle cx="274.1" cy="407.1" r="0.55" fill="#808080"/>
<circle cx="274.1" cy="417.7" r="0.55" fill="#808080"/>
<circle cx="274.1" cy="428.4" r="0.55" fill="#808080"/>
<circle cx="274.1" cy="439.1" r="0.55" fill="#808080"/>
<path d="M274.1 449.7L266.5 453.1M268.8 451.4L266.5 453.1L269.3 452.5" stroke="#7c7c7c" stroke-width="0.95"/>
<circle cx="274.1" cy="460.4" r="0.55" fill="#808080"/>
<path d="M290.6 257.8L297.6 258.3M295.2 258.7L297.6 258.3L295.3 257.7" stroke="#242424" stroke-width="1.30"/>
<path d="M290.6 268.5L297.6 269.0M295.2 269.3L297.6 269.0L295.3 268.3" stroke="#242424" stroke-width="1.30"/>
<path d="M290.6 279.2L297.1 279.5M294.9 279.8L297.1 279.5L295.0 278.9" stroke="#242424" stroke-width="1.30"/>
<path d="M290.6 289.8L295.6 289.8M293.9 290.2L295.6 289.8L293.9 289.5" stroke="#242424" stroke-width="1.30"/>
<path d="M290.6 300.5L294.0 300.5M292.9 300.7L294.0 300.5L292.9 300.2" stroke="#242424" stroke-width="1.30"/>
<path d="M290.6 311.1L298.4 312.1M295.7 312.4L298.4 312.1L295.9 311.2" stroke="#7c7c7c" stroke-width="0.95"/>
<path d="M290.6 321.8L294.0 323.6M292.7 323.3L294.0 323.6L293.0 322.8" stroke="#7c7c7c" stroke-width="0.95"/>
<circle cx="290.6" cy="332.5" r="0.55" fill="#808080"/>
<circle cx="290.6" cy="343.1" r="0.55" fill="#808080"/>
<circle cx="290.6" cy="353.8" r="0.55" fill="#808080"/>
<circle cx="290.6" cy="364.4" r="0.55" fill="#808080"/>
<circle cx="290.6" cy="375.1" r="0.55" fill="#808080"/>
<circle cx="290.6" cy="385.8" r="0.55" fill="#808080"/>
<circle cx="290.6" cy="396.4" r="0.55" fill="#808080"/>
<circle cx="290.6" cy="407.1" r="0.55" fill="#808080"/>
<circle cx="290.6" cy="417.7" r="0.55" fill="#808080"/>
<circle cx="290.6" cy="428.4" r="0.55" fill="#808080"/>
<path d="M290.6 439.1L289.6 438.1M290.0 438.3L289.6 438.1L289.8 438.5" stroke="#7c7c7c" stroke-width="0.95"/>
<path d="M290.6 449.7L288.6 451.7M289.1 450.9L288.6 451.7L289.4 451.2" stroke="#242424" stroke-width="1.30"/>
<circle cx="290.6" cy="460.4" r="0.55" fill="#808080"/>
<path d="M307.0 257.8L311.7 258.6M310.1 258.7L311.7 258.6L310.3 258.0" stroke="#242424" stroke-width="1.30"/>
<path d="M307.0 268.5L311.7 269.3M310.1 269.4L311.7 269.3L310.3 268.7" stroke="#242424" stroke-width="1.30"/>
<path d="M307.0 279.2L311.0 279.5M309.7 279.7L311.0 279.5L309.8 279.1" stroke="#242424" stroke-width="1.30"/>
<path d="M307.0 289.8L309.6 289.8M308.8 290.0L309.6 289.8L308.8 289.6" stroke="#242424" stroke-width="1.30"/>
<path d="M307.0 300.5L308.5 300.5M308.1 300.6L308.5 300.5L308.1 300.4" stroke="#242424" stroke-width="1.30"/>
<path d="M307.0 311.1L310.0 312.4M309.0 312.2L310.0 312.4L309.2 311.8" stroke="#7c7c7c" stroke-width="0.95"/>
<circle cx="307.0" cy="321.8" r="0.55" fill="#808080"/>
<circle cx="307.0" cy="332.5" r="0.55" fill="#808080"/>
<circle cx="307.0" cy="343.1" r="0.55" fill="#808080"/>
<circle cx="307.0" cy="353.8" r="0.55" fill="#808080"/>
<circle cx="307.0" cy="364.4" r="0.55" fill="#808080"/>
<circle cx="307.0" cy="375.1" r="0.55" fill="#808080"/>
<circle cx="307.0" cy="385.8" r="0.55" fill="#808080"/>
<circle cx="307.0" cy="396.4" r="0.55" fill="#808080"/>
<circle cx="307.0" cy="407.1" r="0.55" fill="#808080"/>
<circle cx="307.0" cy="417.7" r="0.55" fill="#808080"/>
<path d="M307.0 428.4L305.4 426.0M306.2 426.7L305.4 426.0L305.8 426.9" stroke="#7c7c7c" stroke-width="0.95"/>
<path d="M307.0 439.1L303.0 435.7M304.6 436.5L303.0 435.7L304.1 437.1" stroke="#7c7c7c" stroke-width="0.95"/>
<path d="M307.0 449.7L293.0 451.1M297.6 449.6L293.0 451.1L297.8 451.7" stroke="#7c7c7c" stroke-width="0.95"/>
<circle cx="307.0" cy="460.4" r="0.55" fill="#808080"/>
<path d="M323.5 257.8L326.5 258.6M325.5 258.6L326.5 258.6L325.6 258.2" stroke="#242424" stroke-width="1.30"/>
<path d="M323.5 268.5L326.5 269.3M325.5 269.3L326.5 269.3L325.6 268.8" stroke="#242424" stroke-width="1.30"/>
<path d="M323.5 279.2L325.8 279.7M325.0 279.7L325.8 279.7L325.1 279.3" stroke="#242424" stroke-width="1.30"/>
<circle cx="323.5" cy="289.8" r="0.55" fill="#808080"/>
<path d="M323.5 300.5L326.1 301.3M325.2 301.2L326.1 301.3L325.3 300.8" stroke="#7c7c7c" stroke-width="0.95"/>
<circle cx="323.5" cy="311.1" r="0.55" fill="#808080"/>
<path d="M323.5 321.8L326.1 322.6M325.2 322.5L326.1 322.6L325.3 322.1" stroke="#7c7c7c" stroke-width="0.95"/>
<circle cx="323.5" cy="332.5" r="0.55" fill="#808080"/>
<circle cx="323.5" cy="343.1" r="0.55" fill="#808080"/>
<circle cx="323.5" cy="353.8" r="0.55" fill="#808080"/>
<circle cx="323.5" cy="364.4" r="0.55" fill="#808080"/>
<circle cx="323.5" cy="375.1" r="0.55" fill="#808080"/>
<circle cx="323.5" cy="385.8" r="0.55" fill="#808080"/>
<circle cx="323.5" cy="396.4" r="0.55" fill="#808080"/>
<circle cx="323.5" cy="407.1" r="0.55" fill="#808080"/>
<circle cx="323.5" cy="417.7" r="0.55" fill="#808080"/>
<circle cx="323.5" cy="428.4" r="0.55" fill="#808080"/>
<circle cx="323.5" cy="439.1" r="0.55" fill="#808080"/>
<path d="M323.5 449.7L311.1 444.3M315.6 445.2L311.1 444.3L314.8 447.0" stroke="#7c7c7c" stroke-width="0.95"/>
<circle cx="323.5" cy="460.4" r="0.55" fill="#808080"/>
<circle cx="340.0" cy="257.8" r="0.55" fill="#808080"/>
<path d="M340.0 268.5L341.8 268.5M341.2 268.6L341.8 268.5L341.2 268.4" stroke="#242424" stroke-width="1.30"/>
<path d="M340.0 279.2L344.4 281.0M342.8 280.7L344.4 281.0L343.1 280.0" stroke="#7c7c7c" stroke-width="0.95"/>
<path d="M340.0 289.8L341.0 290.6M340.6 290.4L341.0 290.6L340.7 290.3" stroke="#7c7c7c" stroke-width="0.95"/>
<circle cx="340.0" cy="300.5" r="0.55" fill="#808080"/>
<path d="M340.0 311.1L342.0 312.4M341.2 312.2L342.0 312.4L341.4 311.9" stroke="#7c7c7c" stroke-width="0.95"/>
<path d="M340.0 321.8L342.6 323.4M341.6 323.1L342.6 323.4L341.8 322.7" stroke="#7c7c7c" stroke-width="0.95"/>
<circle cx="340.0" cy="332.5" r="0.55" fill="#808080"/>
<circle cx="340.0" cy="343.1" r="0.55" fill="#808080"/>
<circle cx="340.0" cy="353.8" r="0.55" fill="#808080"/>
<circle cx="340.0" cy="364.4" r="0.55" fill="#808080"/>
<circle cx="340.0" cy="375.1" r="0.55" fill="#808080"/>
<circle cx="340.0" cy="385.8" r="0.55" fill="#808080"/>
<circle cx="340.0" cy="396.4" r="0.55" fill="#808080"/>
<circle cx="340.0" cy="407.1" r="0.55" fill="#808080"/>
<circle cx="340.0" cy="417.7" r="0.55" fill="#808080"/>
<path d="M340.0 428.4L342.0 426.4M341.5 427.2L342.0 426.4L341.2 426.9" stroke="#7c7c7c" stroke-width="0.95"/>
<path d="M340.0 439.1L340.5 436.1M340.5 437.1L340.5 436.1L340.1 437.0" stroke="#7c7c7c" stroke-width="0.95"/>
<path d="M340.0 449.7L330.8 449.7M333.8 449.1L330.8 449.7L333.8 450.4" stroke="#7c7c7c" stroke-width="0.95"/>
<circle cx="340.0" cy="460.4" r="0.55" fill="#808080"/>
<circle cx="356.5" cy="257.8" r="0.55" fill="#808080"/>
<circle cx="356.5" cy="268.5" r="0.55" fill="#808080"/>
<circle cx="356.5" cy="279.2" r="0.55" fill="#808080"/>
<circle cx="356.5" cy="289.8" r="0.55" fill="#808080"/>
<circle cx="356.5" cy="300.5" r="0.55" fill="#808080"/>
<circle cx="356.5" cy="311.1" r="0.55" fill="#808080"/>
<circle cx="356.5" cy="321.8" r="0.55" fill="#808080"/>
<circle cx="356.5" cy="332.5" r="0.55" fill="#808080"/>
<circle cx="356.5" cy="343.1" r="0.55" fill="#808080"/>
<circle cx="356.5" cy="353.8" r="0.55" fill="#808080"/>
<circle cx="356.5" cy="364.4" r="0.55" fill="#808080"/>
<circle cx="356.5" cy="375.1" r="0.55" fill="#808080"/>
<circle cx="356.5" cy="385.8" r="0.55" fill="#808080"/>
<circle cx="356.5" cy="396.4" r="0.55" fill="#808080"/>
<circle cx="356.5" cy="407.1" r="0.55" fill="#808080"/>
<circle cx="356.5" cy="417.7" r="0.55" fill="#808080"/>
<circle cx="356.5" cy="428.4" r="0.55" fill="#808080"/>
<path d="M356.5 439.1L354.5 437.5M355.2 437.8L354.5 437.5L355.0 438.1" stroke="#7c7c7c" stroke-width="0.95"/>
<path d="M356.5 449.7L349.7 451.6M351.8 450.5L349.7 451.6L352.0 451.5" stroke="#7c7c7c" stroke-width="0.95"/>
<circle cx="356.5" cy="460.4" r="0.55" fill="#808080"/>
<circle cx="372.9" cy="257.8" r="0.55" fill="#808080"/>
<circle cx="372.9" cy="268.5" r="0.55" fill="#808080"/>
<circle cx="372.9" cy="279.2" r="0.55" fill="#808080"/>
<circle cx="372.9" cy="289.8" r="0.55" fill="#808080"/>
<circle cx="372.9" cy="300.5" r="0.55" fill="#808080"/>
<circle cx="372.9" cy="311.1" r="0.55" fill="#808080"/>
<circle cx="372.9" cy="321.8" r="0.55" fill="#808080"/>
<circle cx="372.9" cy="332.5" r="0.55" fill="#808080"/>
<circle cx="372.9" cy="343.1" r="0.55" fill="#808080"/>
<circle cx="372.9" cy="353.8" r="0.55" fill="#808080"/>
<circle cx="372.9" cy="364.4" r="0.55" fill="#808080"/>
<circle cx="372.9" cy="375.1" r="0.55" fill="#808080"/>
<circle cx="372.9" cy="385.8" r="0.55" fill="#808080"/>
<circle cx="372.9" cy="396.4" r="0.55" fill="#808080"/>
<circle cx="372.9" cy="407.1" r="0.55" fill="#808080"/>
<circle cx="372.9" cy="417.7" r="0.55" fill="#808080"/>
<circle cx="372.9" cy="428.4" r="0.55" fill="#808080"/>
<path d="M372.9 439.1L368.4 439.1M369.9 438.7L368.4 439.1L369.9 439.4" stroke="#7c7c7c" stroke-width="0.95"/>
<path d="M372.9 449.7L368.4 451.6M369.8 450.7L368.4 451.6L370.1 451.3" stroke="#7c7c7c" stroke-width="0.95"/>
<circle cx="372.9" cy="460.4" r="0.55" fill="#808080"/>
<circle cx="389.4" cy="257.8" r="0.55" fill="#808080"/>
<circle cx="389.4" cy="268.5" r="0.55" fill="#808080"/>
<circle cx="389.4" cy="279.2" r="0.55" fill="#808080"/>
<circle cx="389.4" cy="289.8" r="0.55" fill="#808080"/>
<circle cx="389.4" cy="300.5" r="0.55" fill="#808080"/>
<circle cx="389.4" cy="311.1" r="0.55" fill="#808080"/>
<circle cx="389.4" cy="321.8" r="0.55" fill="#808080"/>
<circle cx="389.4" cy="332.5" r="0.55" fill="#808080"/>
<circle cx="389.4" cy="343.1" r="0.55" fill="#808080"/>
<circle cx="389.4" cy="353.8" r="0.55" fill="#808080"/>
<circle cx="389.4" cy="364.4" r="0.55" fill="#808080"/>
<circle cx="389.4" cy="375.1" r="0.55" fill="#808080"/>
<circle cx="389.4" cy="385.8" r="0.55" fill="#808080"/>
<circle cx="389.4" cy="396.4" r="0.55" fill="#808080"/>
<circle cx="389.4" cy="407.1" r="0.55" fill="#808080"/>
<circle cx="389.4" cy="417.7" r="0.55" fill="#808080"/>
<circle cx="389.4" cy="428.4" r="0.55" fill="#808080"/>
<path d="M389.4 439.1L380.8 439.1M383.6 438.4L380.8 439.1L383.6 439.7" stroke="#7c7c7c" stroke-width="0.95"/>
<path d="M389.4 449.7L382.6 447.8M385.0 448.0L382.6 447.8L384.7 448.9" stroke="#7c7c7c" stroke-width="0.95"/>
<circle cx="389.4" cy="460.4" r="0.55" fill="#808080"/>
<circle cx="405.9" cy="257.8" r="0.55" fill="#808080"/>
<circle cx="405.9" cy="268.5" r="0.55" fill="#808080"/>
<circle cx="405.9" cy="279.2" r="0.55" fill="#808080"/>
<circle cx="405.9" cy="289.8" r="0.55" fill="#808080"/>
<circle cx="405.9" cy="300.5" r="0.55" fill="#808080"/>
<circle cx="405.9" cy="311.1" r="0.55" fill="#808080"/>
<circle cx="405.9" cy="321.8" r="0.55" fill="#808080"/>
<circle cx="405.9" cy="332.5" r="0.55" fill="#808080"/>
<circle cx="405.9" cy="343.1" r="0.55" fill="#808080"/>
<circle cx="405.9" cy="353.8" r="0.55" fill="#808080"/>
<circle cx="405.9" cy="364.4" r="0.55" fill="#808080"/>
<circle cx="405.9" cy="375.1" r="0.55" fill="#808080"/>
<circle cx="405.9" cy="385.8" r="0.55" fill="#808080"/>
<circle cx="405.9" cy="396.4" r="0.55" fill="#808080"/>
<circle cx="405.9" cy="407.1" r="0.55" fill="#808080"/>
<circle cx="405.9" cy="417.7" r="0.55" fill="#808080"/>
<circle cx="405.9" cy="428.4" r="0.55" fill="#808080"/>
<path d="M405.9 439.1L396.9 439.9M399.8 438.9L396.9 439.9L399.9 440.2" stroke="#7c7c7c" stroke-width="0.95"/>
<path d="M405.9 449.7L402.5 447.4M403.8 447.9L402.5 447.4L403.4 448.4" stroke="#7c7c7c" stroke-width="0.95"/>
<circle cx="405.9" cy="460.4" r="0.55" fill="#808080"/>
</g>
<rect x="43.90" y="17.70" width="370.10" height="204.00" fill="none" stroke="#000" stroke-width="1.50"/>
<path d="M105.58 17.70V21.70M105.58 221.70V217.70" stroke="#000" stroke-width="1.50"/>
<path d="M167.27 17.70V21.70M167.27 221.70V217.70" stroke="#000" stroke-width="1.50"/>
<path d="M228.95 17.70V21.70M228.95 221.70V217.70" stroke="#000" stroke-width="1.50"/>
<path d="M290.63 17.70V21.70M290.63 221.70V217.70" stroke="#000" stroke-width="1.50"/>
<path d="M352.32 17.70V21.70M352.32 221.70V217.70" stroke="#000" stroke-width="1.50"/>
<rect x="43.90" y="258.80" width="370.10" height="203.90" fill="none" stroke="#000" stroke-width="1.50"/>
<path d="M105.58 258.80V262.80M105.58 462.70V458.70" stroke="#000" stroke-width="1.50"/>
<path d="M167.27 258.80V262.80M167.27 462.70V458.70" stroke="#000" stroke-width="1.50"/>
<path d="M228.95 258.80V262.80M228.95 462.70V458.70" stroke="#000" stroke-width="1.50"/>
<path d="M290.63 258.80V262.80M290.63 462.70V458.70" stroke="#000" stroke-width="1.50"/>
<path d="M352.32 258.80V262.80M352.32 462.70V458.70" stroke="#000" stroke-width="1.50"/>
<path d="M43.90 17.70H47.90" stroke="#000" stroke-width="1.50"/>
<text x="38.70" y="22.00" font-family="Liberation Sans, sans-serif" font-size="12" font-weight="normal" text-anchor="end" fill="#000">300</text>
<path d="M43.90 112.55H47.90" stroke="#000" stroke-width="1.50"/>
<text x="38.70" y="116.85" font-family="Liberation Sans, sans-serif" font-size="12" font-weight="normal" text-anchor="end" fill="#000">500</text>
<path d="M43.90 221.70H47.90" stroke="#000" stroke-width="1.50"/>
<text x="38.70" y="226.00" font-family="Liberation Sans, sans-serif" font-size="12" font-weight="normal" text-anchor="end" fill="#000">900</text>
<path d="M414.00 188.21H410.00" stroke="#000" stroke-width="1.50"/>
<text x="418.80" y="192.51" font-family="Liberation Sans, sans-serif" font-size="12" font-weight="normal" text-anchor="start" fill="#000">2</text>
<path d="M414.00 135.16H410.00" stroke="#000" stroke-width="1.50"/>
<text x="418.80" y="139.46" font-family="Liberation Sans, sans-serif" font-size="12" font-weight="normal" text-anchor="start" fill="#000">4</text>
<path d="M414.00 82.10H410.00" stroke="#000" stroke-width="1.50"/>
<text x="418.80" y="86.40" font-family="Liberation Sans, sans-serif" font-size="12" font-weight="normal" text-anchor="start" fill="#000">6</text>
<path d="M414.00 29.05H410.00" stroke="#000" stroke-width="1.50"/>
<text x="418.80" y="33.35" font-family="Liberation Sans, sans-serif" font-size="12" font-weight="normal" text-anchor="start" fill="#000">8</text>
<path d="M43.90 258.80H47.90" stroke="#000" stroke-width="1.50"/>
<text x="38.70" y="263.10" font-family="Liberation Sans, sans-serif" font-size="12" font-weight="normal" text-anchor="end" fill="#000">1</text>
<path d="M43.90 298.07H47.90" stroke="#000" stroke-width="1.50"/>
<text x="38.70" y="302.37" font-family="Liberation Sans, sans-serif" font-size="12" font-weight="normal" text-anchor="end" fill="#000">3</text>
<path d="M43.90 341.11H47.90" stroke="#000" stroke-width="1.50"/>
<text x="38.70" y="345.41" font-family="Liberation Sans, sans-serif" font-size="12" font-weight="normal" text-anchor="end" fill="#000">10</text>
<path d="M43.90 380.39H47.90" stroke="#000" stroke-width="1.50"/>
<text x="38.70" y="384.69" font-family="Liberation Sans, sans-serif" font-size="12" font-weight="normal" text-anchor="end" fill="#000">30</text>
<path d="M43.90 423.43H47.90" stroke="#000" stroke-width="1.50"/>
<text x="38.70" y="427.73" font-family="Liberation Sans, sans-serif" font-size="12" font-weight="normal" text-anchor="end" fill="#000">100</text>
<path d="M43.90 462.70H47.90" stroke="#000" stroke-width="1.50"/>
<text x="38.70" y="467.00" font-family="Liberation Sans, sans-serif" font-size="12" font-weight="normal" text-anchor="end" fill="#000">300</text>
<path d="M414.00 454.67H410.00" stroke="#000" stroke-width="1.50"/>
<text x="418.80" y="458.97" font-family="Liberation Sans, sans-serif" font-size="12" font-weight="normal" text-anchor="start" fill="#000">10</text>
<path d="M414.00 403.60H410.00" stroke="#000" stroke-width="1.50"/>
<text x="418.80" y="407.90" font-family="Liberation Sans, sans-serif" font-size="12" font-weight="normal" text-anchor="start" fill="#000">20</text>
<path d="M414.00 352.53H410.00" stroke="#000" stroke-width="1.50"/>
<text x="418.80" y="356.83" font-family="Liberation Sans, sans-serif" font-size="12" font-weight="normal" text-anchor="start" fill="#000">30</text>
<path d="M414.00 301.46H410.00" stroke="#000" stroke-width="1.50"/>
<text x="418.80" y="305.76" font-family="Liberation Sans, sans-serif" font-size="12" font-weight="normal" text-anchor="start" fill="#000">40</text>
<text x="43.90" y="479.00" font-family="Liberation Sans, sans-serif" font-size="12" font-weight="normal" text-anchor="middle" fill="#000">90°S</text>
<text x="105.58" y="479.00" font-family="Liberation Sans, sans-serif" font-size="12" font-weight="normal" text-anchor="middle" fill="#000">75°S</text>
<text x="167.27" y="479.00" font-family="Liberation Sans, sans-serif" font-size="12" font-weight="normal" text-anchor="middle" fill="#000">60°S</text>
<text x="228.95" y="479.00" font-family="Liberation Sans, sans-serif" font-size="12" font-weight="normal" text-anchor="middle" fill="#000">45°S</text>
<text x="290.63" y="479.00" font-family="Liberation Sans, sans-serif" font-size="12" font-weight="normal" text-anchor="middle" fill="#000">30°S</text>
<text x="352.32" y="479.00" font-family="Liberation Sans, sans-serif" font-size="12" font-weight="normal" text-anchor="middle" fill="#000">15°S</text>
<text x="414.00" y="479.00" font-family="Liberation Sans, sans-serif" font-size="12" font-weight="normal" text-anchor="middle" fill="#000">0</text>
<text x="229.00" y="495.30" font-family="Liberation Sans, sans-serif" font-size="12" font-weight="normal" text-anchor="middle" fill="#000">Latitude (°)</text>
<text x="12.90" y="157.50" font-family="Liberation Sans, sans-serif" font-size="11" font-weight="normal" text-anchor="start" fill="#000" transform="rotate(-90 12.90 157.50)">Pressure (hPa)</text>
<text x="13.10" y="398.50" font-family="Liberation Sans, sans-serif" font-size="11" font-weight="normal" text-anchor="start" fill="#000" transform="rotate(-90 13.10 398.50)">Pressure (hPa)</text>
<text x="440.00" y="121.00" font-family="Liberation Sans, sans-serif" font-size="11" font-weight="normal" text-anchor="middle" fill="#000" transform="rotate(-90 440.00 121.00)">Altitude (km)</text>
<text x="448.50" y="362.50" font-family="Liberation Sans, sans-serif" font-size="11" font-weight="normal" text-anchor="middle" fill="#000" transform="rotate(-90 448.50 362.50)">Altitude (km)</text>
<text x="43.50" y="13.70" font-family="Liberation Sans, sans-serif" font-size="12.1" font-weight="bold" text-anchor="start" fill="#000">(a) Tropospheric EP Flux anomalies</text>
<text x="43.50" y="254.50" font-family="Liberation Sans, sans-serif" font-size="12.1" font-weight="bold" text-anchor="start" fill="#000">(b) Stratospheric EP Flux anomalies</text>
<rect x="472.50" y="22.50" width="9.00" height="435.50" fill="url(#cg)" stroke="#888" stroke-width="1"/>
<text x="486.00" y="462.80" font-family="Liberation Sans, sans-serif" font-size="11" font-weight="normal" text-anchor="start" fill="#222"><tspan dy="-0.9">-</tspan><tspan dy="0.9">4</tspan></text>
<path d="M477.50 403.56H481.50" stroke="#666" stroke-width="1"/>
<text x="486.00" y="408.36" font-family="Liberation Sans, sans-serif" font-size="11" font-weight="normal" text-anchor="start" fill="#222"><tspan dy="-0.9">-</tspan><tspan dy="0.9">3</tspan></text>
<path d="M477.50 349.12H481.50" stroke="#666" stroke-width="1"/>
<text x="486.00" y="353.93" font-family="Liberation Sans, sans-serif" font-size="11" font-weight="normal" text-anchor="start" fill="#222"><tspan dy="-0.9">-</tspan><tspan dy="0.9">2</tspan></text>
<path d="M477.50 294.69H481.50" stroke="#666" stroke-width="1"/>
<text x="486.00" y="299.49" font-family="Liberation Sans, sans-serif" font-size="11" font-weight="normal" text-anchor="start" fill="#222"><tspan dy="-0.9">-</tspan><tspan dy="0.9">1</tspan></text>
<path d="M477.50 240.25H481.50" stroke="#666" stroke-width="1"/>
<text x="486.00" y="245.05" font-family="Liberation Sans, sans-serif" font-size="11" font-weight="normal" text-anchor="start" fill="#222">0</text>
<path d="M477.50 185.81H481.50" stroke="#666" stroke-width="1"/>
<text x="486.00" y="190.61" font-family="Liberation Sans, sans-serif" font-size="11" font-weight="normal" text-anchor="start" fill="#222">1</text>
<path d="M477.50 131.38H481.50" stroke="#666" stroke-width="1"/>
<text x="486.00" y="136.18" font-family="Liberation Sans, sans-serif" font-size="11" font-weight="normal" text-anchor="start" fill="#222">2</text>
<path d="M477.50 76.94H481.50" stroke="#666" stroke-width="1"/>
<text x="486.00" y="81.74" font-family="Liberation Sans, sans-serif" font-size="11" font-weight="normal" text-anchor="start" fill="#222">3</text>
<text x="486.00" y="27.30" font-family="Liberation Sans, sans-serif" font-size="11" font-weight="normal" text-anchor="start" fill="#222">4</text>
<text x="477.00" y="16.50" font-family="Liberation Sans, sans-serif" font-size="11" font-weight="normal" text-anchor="middle" fill="#222">m/s/d</text>
</svg></body></html>
